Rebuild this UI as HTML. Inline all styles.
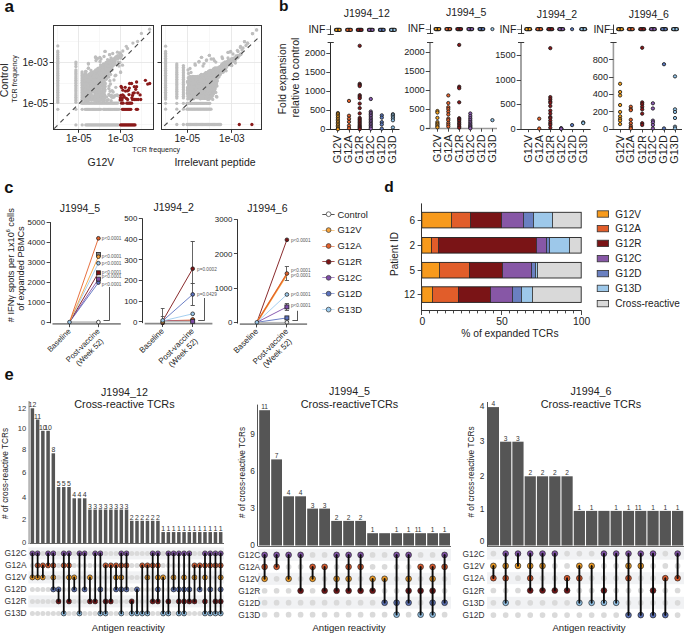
<!DOCTYPE html>
<html><head><meta charset="utf-8"><style>
html,body{margin:0;padding:0;background:#fff;overflow:hidden;}
svg{display:block;}
text{font-family:"Liberation Sans",sans-serif;}
</style></head><body>
<svg width="685" height="633" viewBox="0 0 685 633">
<text x="4.50" y="12.00" font-size="17" text-anchor="start" fill="#111" font-weight="bold">a</text>
<rect x="53.40" y="25.20" width="100.10" height="104.00" fill="#fff"/>
<line x1="53.40" y1="41.50" x2="153.50" y2="41.50" stroke="#f2f2f2" stroke-width="0.6"/>
<line x1="53.40" y1="83.50" x2="153.50" y2="83.50" stroke="#f2f2f2" stroke-width="0.6"/>
<line x1="53.40" y1="124.50" x2="153.50" y2="124.50" stroke="#f2f2f2" stroke-width="0.6"/>
<line x1="57.50" y1="25.20" x2="57.50" y2="129.20" stroke="#f2f2f2" stroke-width="0.6"/>
<line x1="99.50" y1="25.20" x2="99.50" y2="129.20" stroke="#f2f2f2" stroke-width="0.6"/>
<line x1="141.50" y1="25.20" x2="141.50" y2="129.20" stroke="#f2f2f2" stroke-width="0.6"/>
<line x1="53.40" y1="62.50" x2="153.50" y2="62.50" stroke="#e3e3e3" stroke-width="0.8"/>
<line x1="53.40" y1="103.50" x2="153.50" y2="103.50" stroke="#e3e3e3" stroke-width="0.8"/>
<line x1="78.50" y1="25.20" x2="78.50" y2="129.20" stroke="#e3e3e3" stroke-width="0.8"/>
<line x1="120.50" y1="25.20" x2="120.50" y2="129.20" stroke="#e3e3e3" stroke-width="0.8"/>
<rect x="161.30" y="25.20" width="100.20" height="104.00" fill="#fff"/>
<line x1="161.30" y1="41.50" x2="261.50" y2="41.50" stroke="#f2f2f2" stroke-width="0.6"/>
<line x1="161.30" y1="83.50" x2="261.50" y2="83.50" stroke="#f2f2f2" stroke-width="0.6"/>
<line x1="161.30" y1="124.50" x2="261.50" y2="124.50" stroke="#f2f2f2" stroke-width="0.6"/>
<line x1="165.50" y1="25.20" x2="165.50" y2="129.20" stroke="#f2f2f2" stroke-width="0.6"/>
<line x1="209.50" y1="25.20" x2="209.50" y2="129.20" stroke="#f2f2f2" stroke-width="0.6"/>
<line x1="254.50" y1="25.20" x2="254.50" y2="129.20" stroke="#f2f2f2" stroke-width="0.6"/>
<line x1="161.30" y1="62.50" x2="261.50" y2="62.50" stroke="#e3e3e3" stroke-width="0.8"/>
<line x1="161.30" y1="103.50" x2="261.50" y2="103.50" stroke="#e3e3e3" stroke-width="0.8"/>
<line x1="187.50" y1="25.20" x2="187.50" y2="129.20" stroke="#e3e3e3" stroke-width="0.8"/>
<line x1="231.50" y1="25.20" x2="231.50" y2="129.20" stroke="#e3e3e3" stroke-width="0.8"/>
<circle cx="57.80" cy="45.90" r="1.65" fill="#BEBEBE"/>
<circle cx="57.80" cy="51.10" r="1.65" fill="#BEBEBE"/>
<circle cx="57.80" cy="52.60" r="1.65" fill="#BEBEBE"/>
<circle cx="57.80" cy="54.60" r="1.65" fill="#BEBEBE"/>
<circle cx="57.80" cy="56.50" r="1.65" fill="#BEBEBE"/>
<circle cx="57.80" cy="58.20" r="1.65" fill="#BEBEBE"/>
<circle cx="57.80" cy="59.90" r="1.65" fill="#BEBEBE"/>
<circle cx="57.80" cy="61.60" r="1.65" fill="#BEBEBE"/>
<circle cx="57.80" cy="63.30" r="1.65" fill="#BEBEBE"/>
<circle cx="57.80" cy="65.00" r="1.65" fill="#BEBEBE"/>
<circle cx="57.80" cy="66.70" r="1.65" fill="#BEBEBE"/>
<circle cx="57.80" cy="68.40" r="1.65" fill="#BEBEBE"/>
<circle cx="57.80" cy="70.10" r="1.65" fill="#BEBEBE"/>
<circle cx="57.80" cy="71.80" r="1.65" fill="#BEBEBE"/>
<circle cx="57.80" cy="73.50" r="1.65" fill="#BEBEBE"/>
<circle cx="57.80" cy="75.20" r="1.65" fill="#BEBEBE"/>
<circle cx="57.80" cy="76.90" r="1.65" fill="#BEBEBE"/>
<circle cx="57.80" cy="78.60" r="1.65" fill="#BEBEBE"/>
<circle cx="57.80" cy="80.30" r="1.65" fill="#BEBEBE"/>
<circle cx="57.80" cy="82.00" r="1.65" fill="#BEBEBE"/>
<circle cx="57.80" cy="83.70" r="1.65" fill="#BEBEBE"/>
<circle cx="57.80" cy="85.40" r="1.65" fill="#BEBEBE"/>
<circle cx="57.80" cy="87.10" r="1.65" fill="#BEBEBE"/>
<circle cx="57.80" cy="88.80" r="1.65" fill="#BEBEBE"/>
<circle cx="57.80" cy="90.50" r="1.65" fill="#BEBEBE"/>
<circle cx="57.80" cy="92.20" r="1.65" fill="#BEBEBE"/>
<circle cx="57.80" cy="93.90" r="1.65" fill="#BEBEBE"/>
<circle cx="57.80" cy="95.60" r="1.65" fill="#BEBEBE"/>
<circle cx="57.80" cy="97.30" r="1.65" fill="#BEBEBE"/>
<circle cx="57.80" cy="99.00" r="1.65" fill="#BEBEBE"/>
<circle cx="57.80" cy="100.70" r="1.65" fill="#BEBEBE"/>
<circle cx="57.80" cy="102.40" r="1.65" fill="#BEBEBE"/>
<circle cx="57.80" cy="109.30" r="1.65" fill="#BEBEBE"/>
<circle cx="75.90" cy="62.10" r="1.65" fill="#BEBEBE"/>
<circle cx="75.90" cy="64.00" r="1.65" fill="#BEBEBE"/>
<circle cx="75.90" cy="66.50" r="1.65" fill="#BEBEBE"/>
<circle cx="75.90" cy="70.00" r="1.65" fill="#BEBEBE"/>
<circle cx="75.90" cy="71.70" r="1.65" fill="#BEBEBE"/>
<circle cx="75.90" cy="73.40" r="1.65" fill="#BEBEBE"/>
<circle cx="75.90" cy="75.10" r="1.65" fill="#BEBEBE"/>
<circle cx="75.90" cy="76.80" r="1.65" fill="#BEBEBE"/>
<circle cx="75.90" cy="78.50" r="1.65" fill="#BEBEBE"/>
<circle cx="75.90" cy="80.20" r="1.65" fill="#BEBEBE"/>
<circle cx="75.90" cy="81.90" r="1.65" fill="#BEBEBE"/>
<circle cx="75.90" cy="83.60" r="1.65" fill="#BEBEBE"/>
<circle cx="75.90" cy="85.30" r="1.65" fill="#BEBEBE"/>
<circle cx="75.90" cy="87.00" r="1.65" fill="#BEBEBE"/>
<circle cx="75.90" cy="88.70" r="1.65" fill="#BEBEBE"/>
<circle cx="75.90" cy="90.40" r="1.65" fill="#BEBEBE"/>
<circle cx="75.90" cy="92.10" r="1.65" fill="#BEBEBE"/>
<circle cx="75.90" cy="93.80" r="1.65" fill="#BEBEBE"/>
<circle cx="75.90" cy="95.50" r="1.65" fill="#BEBEBE"/>
<circle cx="75.90" cy="97.20" r="1.65" fill="#BEBEBE"/>
<circle cx="75.90" cy="98.90" r="1.65" fill="#BEBEBE"/>
<circle cx="75.90" cy="100.60" r="1.65" fill="#BEBEBE"/>
<circle cx="75.90" cy="102.30" r="1.65" fill="#BEBEBE"/>
<circle cx="75.90" cy="109.30" r="1.65" fill="#BEBEBE"/>
<circle cx="75.90" cy="124.90" r="1.65" fill="#BEBEBE"/>
<circle cx="82.10" cy="72.00" r="1.65" fill="#BEBEBE"/>
<circle cx="82.10" cy="73.70" r="1.65" fill="#BEBEBE"/>
<circle cx="82.10" cy="75.40" r="1.65" fill="#BEBEBE"/>
<circle cx="82.10" cy="77.10" r="1.65" fill="#BEBEBE"/>
<circle cx="82.10" cy="78.80" r="1.65" fill="#BEBEBE"/>
<circle cx="82.10" cy="80.50" r="1.65" fill="#BEBEBE"/>
<circle cx="82.10" cy="82.20" r="1.65" fill="#BEBEBE"/>
<circle cx="82.10" cy="83.90" r="1.65" fill="#BEBEBE"/>
<circle cx="82.10" cy="85.60" r="1.65" fill="#BEBEBE"/>
<circle cx="82.10" cy="87.30" r="1.65" fill="#BEBEBE"/>
<circle cx="82.10" cy="89.00" r="1.65" fill="#BEBEBE"/>
<circle cx="82.10" cy="90.70" r="1.65" fill="#BEBEBE"/>
<circle cx="82.10" cy="92.40" r="1.65" fill="#BEBEBE"/>
<circle cx="82.10" cy="94.10" r="1.65" fill="#BEBEBE"/>
<circle cx="82.10" cy="95.80" r="1.65" fill="#BEBEBE"/>
<circle cx="82.10" cy="97.50" r="1.65" fill="#BEBEBE"/>
<circle cx="82.10" cy="99.20" r="1.65" fill="#BEBEBE"/>
<circle cx="82.10" cy="100.90" r="1.65" fill="#BEBEBE"/>
<circle cx="82.10" cy="102.60" r="1.65" fill="#BEBEBE"/>
<circle cx="85.60" cy="71.50" r="1.65" fill="#BEBEBE"/>
<circle cx="85.60" cy="73.20" r="1.65" fill="#BEBEBE"/>
<circle cx="85.60" cy="74.90" r="1.65" fill="#BEBEBE"/>
<circle cx="85.60" cy="76.60" r="1.65" fill="#BEBEBE"/>
<circle cx="85.60" cy="78.30" r="1.65" fill="#BEBEBE"/>
<circle cx="85.60" cy="80.00" r="1.65" fill="#BEBEBE"/>
<circle cx="85.60" cy="81.70" r="1.65" fill="#BEBEBE"/>
<circle cx="85.60" cy="83.40" r="1.65" fill="#BEBEBE"/>
<circle cx="85.60" cy="85.10" r="1.65" fill="#BEBEBE"/>
<circle cx="85.60" cy="86.80" r="1.65" fill="#BEBEBE"/>
<circle cx="85.60" cy="88.50" r="1.65" fill="#BEBEBE"/>
<circle cx="85.60" cy="90.20" r="1.65" fill="#BEBEBE"/>
<circle cx="85.60" cy="91.90" r="1.65" fill="#BEBEBE"/>
<circle cx="85.60" cy="93.60" r="1.65" fill="#BEBEBE"/>
<circle cx="85.60" cy="95.30" r="1.65" fill="#BEBEBE"/>
<circle cx="85.60" cy="97.00" r="1.65" fill="#BEBEBE"/>
<circle cx="85.60" cy="98.70" r="1.65" fill="#BEBEBE"/>
<circle cx="85.60" cy="100.40" r="1.65" fill="#BEBEBE"/>
<circle cx="85.60" cy="102.10" r="1.65" fill="#BEBEBE"/>
<circle cx="82.20" cy="109.30" r="1.65" fill="#BEBEBE"/>
<circle cx="82.20" cy="124.90" r="1.65" fill="#BEBEBE"/>
<circle cx="81.50" cy="103.20" r="1.65" fill="#BEBEBE"/>
<circle cx="82.70" cy="103.20" r="1.65" fill="#BEBEBE"/>
<circle cx="83.90" cy="103.20" r="1.65" fill="#BEBEBE"/>
<circle cx="85.10" cy="103.20" r="1.65" fill="#BEBEBE"/>
<circle cx="86.30" cy="103.20" r="1.65" fill="#BEBEBE"/>
<circle cx="87.50" cy="103.20" r="1.65" fill="#BEBEBE"/>
<circle cx="88.70" cy="103.20" r="1.65" fill="#BEBEBE"/>
<circle cx="89.90" cy="103.20" r="1.65" fill="#BEBEBE"/>
<circle cx="91.10" cy="103.20" r="1.65" fill="#BEBEBE"/>
<circle cx="92.30" cy="103.20" r="1.65" fill="#BEBEBE"/>
<circle cx="93.50" cy="103.20" r="1.65" fill="#BEBEBE"/>
<circle cx="94.70" cy="103.20" r="1.65" fill="#BEBEBE"/>
<circle cx="95.90" cy="103.20" r="1.65" fill="#BEBEBE"/>
<circle cx="97.10" cy="103.20" r="1.65" fill="#BEBEBE"/>
<circle cx="98.30" cy="103.20" r="1.65" fill="#BEBEBE"/>
<circle cx="99.50" cy="103.20" r="1.65" fill="#BEBEBE"/>
<circle cx="100.70" cy="103.20" r="1.65" fill="#BEBEBE"/>
<circle cx="101.90" cy="103.20" r="1.65" fill="#BEBEBE"/>
<circle cx="103.10" cy="103.20" r="1.65" fill="#BEBEBE"/>
<circle cx="104.30" cy="103.20" r="1.65" fill="#BEBEBE"/>
<circle cx="105.50" cy="103.20" r="1.65" fill="#BEBEBE"/>
<circle cx="106.70" cy="103.20" r="1.65" fill="#BEBEBE"/>
<circle cx="107.90" cy="103.20" r="1.65" fill="#BEBEBE"/>
<circle cx="109.10" cy="103.20" r="1.65" fill="#BEBEBE"/>
<circle cx="110.30" cy="103.20" r="1.65" fill="#BEBEBE"/>
<circle cx="111.50" cy="103.20" r="1.65" fill="#BEBEBE"/>
<circle cx="112.70" cy="103.20" r="1.65" fill="#BEBEBE"/>
<circle cx="113.90" cy="103.20" r="1.65" fill="#BEBEBE"/>
<circle cx="115.10" cy="103.20" r="1.65" fill="#BEBEBE"/>
<circle cx="116.30" cy="103.20" r="1.65" fill="#BEBEBE"/>
<circle cx="117.50" cy="103.20" r="1.65" fill="#BEBEBE"/>
<circle cx="85.10" cy="109.30" r="1.65" fill="#BEBEBE"/>
<circle cx="86.30" cy="109.30" r="1.65" fill="#BEBEBE"/>
<circle cx="87.50" cy="109.30" r="1.65" fill="#BEBEBE"/>
<circle cx="88.70" cy="109.30" r="1.65" fill="#BEBEBE"/>
<circle cx="89.90" cy="109.30" r="1.65" fill="#BEBEBE"/>
<circle cx="91.10" cy="109.30" r="1.65" fill="#BEBEBE"/>
<circle cx="92.30" cy="109.30" r="1.65" fill="#BEBEBE"/>
<circle cx="93.50" cy="109.30" r="1.65" fill="#BEBEBE"/>
<circle cx="94.70" cy="109.30" r="1.65" fill="#BEBEBE"/>
<circle cx="95.90" cy="109.30" r="1.65" fill="#BEBEBE"/>
<circle cx="97.10" cy="109.30" r="1.65" fill="#BEBEBE"/>
<circle cx="98.30" cy="109.30" r="1.65" fill="#BEBEBE"/>
<circle cx="99.50" cy="109.30" r="1.65" fill="#BEBEBE"/>
<circle cx="100.70" cy="109.30" r="1.65" fill="#BEBEBE"/>
<circle cx="103.40" cy="109.30" r="1.65" fill="#BEBEBE"/>
<circle cx="104.60" cy="109.30" r="1.65" fill="#BEBEBE"/>
<circle cx="105.80" cy="109.30" r="1.65" fill="#BEBEBE"/>
<circle cx="107.00" cy="109.30" r="1.65" fill="#BEBEBE"/>
<circle cx="108.20" cy="109.30" r="1.65" fill="#BEBEBE"/>
<circle cx="109.40" cy="109.30" r="1.65" fill="#BEBEBE"/>
<circle cx="110.60" cy="109.30" r="1.65" fill="#BEBEBE"/>
<circle cx="111.80" cy="109.30" r="1.65" fill="#BEBEBE"/>
<circle cx="113.00" cy="109.30" r="1.65" fill="#BEBEBE"/>
<circle cx="114.20" cy="109.30" r="1.65" fill="#BEBEBE"/>
<circle cx="115.40" cy="109.30" r="1.65" fill="#BEBEBE"/>
<circle cx="116.60" cy="109.30" r="1.65" fill="#BEBEBE"/>
<circle cx="117.80" cy="109.30" r="1.65" fill="#BEBEBE"/>
<circle cx="119.00" cy="109.30" r="1.65" fill="#BEBEBE"/>
<circle cx="85.80" cy="124.90" r="1.65" fill="#BEBEBE"/>
<circle cx="87.00" cy="124.90" r="1.65" fill="#BEBEBE"/>
<circle cx="88.20" cy="124.90" r="1.65" fill="#BEBEBE"/>
<circle cx="89.40" cy="124.90" r="1.65" fill="#BEBEBE"/>
<circle cx="90.60" cy="124.90" r="1.65" fill="#BEBEBE"/>
<circle cx="91.80" cy="124.90" r="1.65" fill="#BEBEBE"/>
<circle cx="93.00" cy="124.90" r="1.65" fill="#BEBEBE"/>
<circle cx="94.20" cy="124.90" r="1.65" fill="#BEBEBE"/>
<circle cx="95.40" cy="124.90" r="1.65" fill="#BEBEBE"/>
<circle cx="96.60" cy="124.90" r="1.65" fill="#BEBEBE"/>
<circle cx="97.80" cy="124.90" r="1.65" fill="#BEBEBE"/>
<circle cx="99.00" cy="124.90" r="1.65" fill="#BEBEBE"/>
<circle cx="100.20" cy="124.90" r="1.65" fill="#BEBEBE"/>
<circle cx="101.40" cy="124.90" r="1.65" fill="#BEBEBE"/>
<circle cx="102.60" cy="124.90" r="1.65" fill="#BEBEBE"/>
<circle cx="103.80" cy="124.90" r="1.65" fill="#BEBEBE"/>
<circle cx="105.00" cy="124.90" r="1.65" fill="#BEBEBE"/>
<circle cx="106.20" cy="124.90" r="1.65" fill="#BEBEBE"/>
<circle cx="107.40" cy="124.90" r="1.65" fill="#BEBEBE"/>
<circle cx="108.60" cy="124.90" r="1.65" fill="#BEBEBE"/>
<circle cx="109.80" cy="124.90" r="1.65" fill="#BEBEBE"/>
<circle cx="111.00" cy="124.90" r="1.65" fill="#BEBEBE"/>
<circle cx="112.20" cy="124.90" r="1.65" fill="#BEBEBE"/>
<circle cx="113.40" cy="124.90" r="1.65" fill="#BEBEBE"/>
<circle cx="114.60" cy="124.90" r="1.65" fill="#BEBEBE"/>
<circle cx="115.80" cy="124.90" r="1.65" fill="#BEBEBE"/>
<circle cx="117.00" cy="124.90" r="1.65" fill="#BEBEBE"/>
<circle cx="118.20" cy="124.90" r="1.65" fill="#BEBEBE"/>
<circle cx="88.40" cy="64.00" r="1.65" fill="#BEBEBE"/>
<circle cx="88.40" cy="68.20" r="1.65" fill="#BEBEBE"/>
<circle cx="95.50" cy="57.50" r="1.65" fill="#BEBEBE"/>
<circle cx="97.50" cy="58.50" r="1.65" fill="#BEBEBE"/>
<circle cx="100.00" cy="61.50" r="1.65" fill="#BEBEBE"/>
<circle cx="105.10" cy="51.40" r="1.65" fill="#BEBEBE"/>
<circle cx="109.50" cy="54.70" r="1.65" fill="#BEBEBE"/>
<circle cx="104.00" cy="56.50" r="1.65" fill="#BEBEBE"/>
<circle cx="111.00" cy="58.00" r="1.65" fill="#BEBEBE"/>
<circle cx="117.40" cy="52.20" r="1.65" fill="#BEBEBE"/>
<circle cx="119.60" cy="52.90" r="1.65" fill="#BEBEBE"/>
<circle cx="122.80" cy="51.00" r="1.65" fill="#BEBEBE"/>
<circle cx="126.30" cy="46.30" r="1.65" fill="#BEBEBE"/>
<circle cx="127.50" cy="48.50" r="1.65" fill="#BEBEBE"/>
<circle cx="132.90" cy="43.10" r="1.65" fill="#BEBEBE"/>
<circle cx="137.60" cy="41.50" r="1.65" fill="#BEBEBE"/>
<circle cx="141.40" cy="33.40" r="1.65" fill="#BEBEBE"/>
<circle cx="149.60" cy="29.20" r="1.65" fill="#BEBEBE"/>
<circle cx="122.50" cy="65.20" r="1.65" fill="#BEBEBE"/>
<circle cx="120.60" cy="71.90" r="1.65" fill="#BEBEBE"/>
<circle cx="116.70" cy="64.80" r="1.65" fill="#BEBEBE"/>
<circle cx="120.60" cy="72.40" r="1.65" fill="#BEBEBE"/>
<circle cx="115.00" cy="75.80" r="1.65" fill="#BEBEBE"/>
<circle cx="114.00" cy="80.00" r="1.65" fill="#BEBEBE"/>
<circle cx="115.80" cy="87.30" r="1.65" fill="#BEBEBE"/>
<circle cx="110.50" cy="84.00" r="1.65" fill="#BEBEBE"/>
<circle cx="108.80" cy="77.00" r="1.65" fill="#BEBEBE"/>
<circle cx="113.20" cy="92.00" r="1.65" fill="#BEBEBE"/>
<circle cx="117.00" cy="95.00" r="1.65" fill="#BEBEBE"/>
<circle cx="112.00" cy="70.00" r="1.65" fill="#BEBEBE"/>
<circle cx="119.00" cy="66.00" r="1.65" fill="#BEBEBE"/>
<circle cx="121.00" cy="58.00" r="1.65" fill="#BEBEBE"/>
<circle cx="118.00" cy="62.00" r="1.65" fill="#BEBEBE"/>
<circle cx="114.00" cy="97.00" r="1.65" fill="#BEBEBE"/>
<circle cx="103.83" cy="70.24" r="1.7" fill="#BEBEBE"/>
<circle cx="86.15" cy="77.11" r="1.7" fill="#BEBEBE"/>
<circle cx="99.71" cy="92.60" r="1.7" fill="#BEBEBE"/>
<circle cx="105.35" cy="71.74" r="1.7" fill="#BEBEBE"/>
<circle cx="120.12" cy="54.76" r="1.7" fill="#BEBEBE"/>
<circle cx="95.41" cy="92.08" r="1.7" fill="#BEBEBE"/>
<circle cx="90.69" cy="80.71" r="1.7" fill="#BEBEBE"/>
<circle cx="107.64" cy="70.56" r="1.7" fill="#BEBEBE"/>
<circle cx="95.62" cy="80.90" r="1.7" fill="#BEBEBE"/>
<circle cx="100.77" cy="67.04" r="1.7" fill="#BEBEBE"/>
<circle cx="93.03" cy="80.36" r="1.7" fill="#BEBEBE"/>
<circle cx="103.43" cy="94.94" r="1.7" fill="#BEBEBE"/>
<circle cx="110.99" cy="66.46" r="1.7" fill="#BEBEBE"/>
<circle cx="99.47" cy="89.22" r="1.7" fill="#BEBEBE"/>
<circle cx="89.62" cy="76.21" r="1.7" fill="#BEBEBE"/>
<circle cx="85.45" cy="84.91" r="1.7" fill="#BEBEBE"/>
<circle cx="105.46" cy="74.63" r="1.7" fill="#BEBEBE"/>
<circle cx="101.54" cy="84.71" r="1.7" fill="#BEBEBE"/>
<circle cx="86.24" cy="86.52" r="1.7" fill="#BEBEBE"/>
<circle cx="98.27" cy="84.93" r="1.7" fill="#BEBEBE"/>
<circle cx="84.83" cy="74.89" r="1.7" fill="#BEBEBE"/>
<circle cx="86.18" cy="89.76" r="1.7" fill="#BEBEBE"/>
<circle cx="98.47" cy="94.76" r="1.7" fill="#BEBEBE"/>
<circle cx="104.33" cy="95.34" r="1.7" fill="#BEBEBE"/>
<circle cx="94.30" cy="72.64" r="1.7" fill="#BEBEBE"/>
<circle cx="97.27" cy="95.38" r="1.7" fill="#BEBEBE"/>
<circle cx="92.63" cy="76.02" r="1.7" fill="#BEBEBE"/>
<circle cx="105.80" cy="65.24" r="1.7" fill="#BEBEBE"/>
<circle cx="97.66" cy="79.97" r="1.7" fill="#BEBEBE"/>
<circle cx="103.07" cy="82.45" r="1.7" fill="#BEBEBE"/>
<circle cx="98.52" cy="71.85" r="1.7" fill="#BEBEBE"/>
<circle cx="87.83" cy="83.26" r="1.7" fill="#BEBEBE"/>
<circle cx="84.94" cy="94.91" r="1.7" fill="#BEBEBE"/>
<circle cx="101.24" cy="75.97" r="1.7" fill="#BEBEBE"/>
<circle cx="114.67" cy="60.33" r="1.7" fill="#BEBEBE"/>
<circle cx="84.85" cy="98.62" r="1.7" fill="#BEBEBE"/>
<circle cx="103.54" cy="99.96" r="1.7" fill="#BEBEBE"/>
<circle cx="90.18" cy="89.94" r="1.7" fill="#BEBEBE"/>
<circle cx="103.71" cy="90.28" r="1.7" fill="#BEBEBE"/>
<circle cx="92.39" cy="77.61" r="1.7" fill="#BEBEBE"/>
<circle cx="93.59" cy="86.09" r="1.7" fill="#BEBEBE"/>
<circle cx="87.14" cy="84.54" r="1.7" fill="#BEBEBE"/>
<circle cx="90.61" cy="90.77" r="1.7" fill="#BEBEBE"/>
<circle cx="96.30" cy="91.34" r="1.7" fill="#BEBEBE"/>
<circle cx="98.85" cy="98.42" r="1.7" fill="#BEBEBE"/>
<circle cx="110.82" cy="60.75" r="1.7" fill="#BEBEBE"/>
<circle cx="89.41" cy="92.59" r="1.7" fill="#BEBEBE"/>
<circle cx="96.97" cy="79.11" r="1.7" fill="#BEBEBE"/>
<circle cx="103.48" cy="97.78" r="1.7" fill="#BEBEBE"/>
<circle cx="100.05" cy="94.78" r="1.7" fill="#BEBEBE"/>
<circle cx="114.57" cy="62.74" r="1.7" fill="#BEBEBE"/>
<circle cx="92.90" cy="80.94" r="1.7" fill="#BEBEBE"/>
<circle cx="93.60" cy="72.82" r="1.7" fill="#BEBEBE"/>
<circle cx="88.85" cy="96.64" r="1.7" fill="#BEBEBE"/>
<circle cx="97.09" cy="74.72" r="1.7" fill="#BEBEBE"/>
<circle cx="99.56" cy="97.01" r="1.7" fill="#BEBEBE"/>
<circle cx="102.56" cy="78.29" r="1.7" fill="#BEBEBE"/>
<circle cx="84.15" cy="91.26" r="1.7" fill="#BEBEBE"/>
<circle cx="90.38" cy="75.46" r="1.7" fill="#BEBEBE"/>
<circle cx="96.06" cy="77.64" r="1.7" fill="#BEBEBE"/>
<circle cx="104.55" cy="90.54" r="1.7" fill="#BEBEBE"/>
<circle cx="87.93" cy="79.67" r="1.7" fill="#BEBEBE"/>
<circle cx="104.78" cy="89.36" r="1.7" fill="#BEBEBE"/>
<circle cx="106.66" cy="77.02" r="1.7" fill="#BEBEBE"/>
<circle cx="102.95" cy="86.10" r="1.7" fill="#BEBEBE"/>
<circle cx="100.74" cy="78.36" r="1.7" fill="#BEBEBE"/>
<circle cx="101.69" cy="98.16" r="1.7" fill="#BEBEBE"/>
<circle cx="104.70" cy="98.25" r="1.7" fill="#BEBEBE"/>
<circle cx="115.08" cy="59.15" r="1.7" fill="#BEBEBE"/>
<circle cx="86.71" cy="84.97" r="1.7" fill="#BEBEBE"/>
<circle cx="89.71" cy="87.23" r="1.7" fill="#BEBEBE"/>
<circle cx="92.12" cy="98.70" r="1.7" fill="#BEBEBE"/>
<circle cx="98.74" cy="76.13" r="1.7" fill="#BEBEBE"/>
<circle cx="103.08" cy="68.95" r="1.7" fill="#BEBEBE"/>
<circle cx="104.50" cy="73.86" r="1.7" fill="#BEBEBE"/>
<circle cx="107.09" cy="77.34" r="1.7" fill="#BEBEBE"/>
<circle cx="86.38" cy="100.28" r="1.7" fill="#BEBEBE"/>
<circle cx="85.46" cy="90.28" r="1.7" fill="#BEBEBE"/>
<circle cx="99.62" cy="96.70" r="1.7" fill="#BEBEBE"/>
<circle cx="89.53" cy="97.08" r="1.7" fill="#BEBEBE"/>
<circle cx="105.11" cy="86.47" r="1.7" fill="#BEBEBE"/>
<circle cx="86.68" cy="98.01" r="1.7" fill="#BEBEBE"/>
<circle cx="87.10" cy="94.03" r="1.7" fill="#BEBEBE"/>
<circle cx="86.47" cy="94.34" r="1.7" fill="#BEBEBE"/>
<circle cx="100.79" cy="68.95" r="1.7" fill="#BEBEBE"/>
<circle cx="104.46" cy="97.44" r="1.7" fill="#BEBEBE"/>
<circle cx="103.50" cy="64.06" r="1.7" fill="#BEBEBE"/>
<circle cx="112.10" cy="66.56" r="1.7" fill="#BEBEBE"/>
<circle cx="91.01" cy="75.53" r="1.7" fill="#BEBEBE"/>
<circle cx="118.58" cy="57.65" r="1.7" fill="#BEBEBE"/>
<circle cx="102.32" cy="92.98" r="1.7" fill="#BEBEBE"/>
<circle cx="98.54" cy="77.07" r="1.7" fill="#BEBEBE"/>
<circle cx="96.68" cy="92.87" r="1.7" fill="#BEBEBE"/>
<circle cx="98.97" cy="69.36" r="1.7" fill="#BEBEBE"/>
<circle cx="86.62" cy="88.43" r="1.7" fill="#BEBEBE"/>
<circle cx="87.13" cy="93.30" r="1.7" fill="#BEBEBE"/>
<circle cx="94.84" cy="74.78" r="1.7" fill="#BEBEBE"/>
<circle cx="89.83" cy="74.12" r="1.7" fill="#BEBEBE"/>
<circle cx="93.74" cy="99.15" r="1.7" fill="#BEBEBE"/>
<circle cx="93.04" cy="99.33" r="1.7" fill="#BEBEBE"/>
<circle cx="101.56" cy="76.88" r="1.7" fill="#BEBEBE"/>
<circle cx="91.44" cy="76.98" r="1.7" fill="#BEBEBE"/>
<circle cx="105.67" cy="78.17" r="1.7" fill="#BEBEBE"/>
<circle cx="98.41" cy="68.32" r="1.7" fill="#BEBEBE"/>
<circle cx="85.62" cy="93.01" r="1.7" fill="#BEBEBE"/>
<circle cx="89.15" cy="77.90" r="1.7" fill="#BEBEBE"/>
<circle cx="102.66" cy="92.99" r="1.7" fill="#BEBEBE"/>
<circle cx="87.88" cy="93.04" r="1.7" fill="#BEBEBE"/>
<circle cx="104.67" cy="82.95" r="1.7" fill="#BEBEBE"/>
<circle cx="102.61" cy="78.46" r="1.7" fill="#BEBEBE"/>
<circle cx="111.26" cy="64.73" r="1.7" fill="#BEBEBE"/>
<circle cx="110.99" cy="62.45" r="1.7" fill="#BEBEBE"/>
<circle cx="102.28" cy="71.05" r="1.7" fill="#BEBEBE"/>
<circle cx="101.72" cy="85.66" r="1.7" fill="#BEBEBE"/>
<circle cx="111.50" cy="67.26" r="1.7" fill="#BEBEBE"/>
<circle cx="109.00" cy="66.61" r="1.7" fill="#BEBEBE"/>
<circle cx="103.11" cy="75.04" r="1.7" fill="#BEBEBE"/>
<circle cx="84.65" cy="74.76" r="1.7" fill="#BEBEBE"/>
<circle cx="91.76" cy="98.36" r="1.7" fill="#BEBEBE"/>
<circle cx="91.80" cy="80.70" r="1.7" fill="#BEBEBE"/>
<circle cx="89.24" cy="77.92" r="1.7" fill="#BEBEBE"/>
<circle cx="92.56" cy="96.04" r="1.7" fill="#BEBEBE"/>
<circle cx="84.13" cy="76.35" r="1.7" fill="#BEBEBE"/>
<circle cx="100.68" cy="67.14" r="1.7" fill="#BEBEBE"/>
<circle cx="95.69" cy="93.25" r="1.7" fill="#BEBEBE"/>
<circle cx="84.06" cy="88.91" r="1.7" fill="#BEBEBE"/>
<circle cx="115.05" cy="58.32" r="1.7" fill="#BEBEBE"/>
<circle cx="97.77" cy="71.56" r="1.7" fill="#BEBEBE"/>
<circle cx="97.35" cy="73.26" r="1.7" fill="#BEBEBE"/>
<circle cx="87.76" cy="92.98" r="1.7" fill="#BEBEBE"/>
<circle cx="94.57" cy="97.88" r="1.7" fill="#BEBEBE"/>
<circle cx="97.81" cy="98.87" r="1.7" fill="#BEBEBE"/>
<circle cx="101.47" cy="69.17" r="1.7" fill="#BEBEBE"/>
<circle cx="95.02" cy="88.34" r="1.7" fill="#BEBEBE"/>
<circle cx="108.27" cy="67.09" r="1.7" fill="#BEBEBE"/>
<circle cx="104.62" cy="71.63" r="1.7" fill="#BEBEBE"/>
<circle cx="91.69" cy="96.44" r="1.7" fill="#BEBEBE"/>
<circle cx="99.31" cy="77.92" r="1.7" fill="#BEBEBE"/>
<circle cx="97.94" cy="68.90" r="1.7" fill="#BEBEBE"/>
<circle cx="102.63" cy="83.04" r="1.7" fill="#BEBEBE"/>
<circle cx="98.79" cy="74.12" r="1.7" fill="#BEBEBE"/>
<circle cx="85.19" cy="86.91" r="1.7" fill="#BEBEBE"/>
<circle cx="98.49" cy="97.45" r="1.7" fill="#BEBEBE"/>
<circle cx="103.33" cy="85.58" r="1.7" fill="#BEBEBE"/>
<circle cx="100.92" cy="79.25" r="1.7" fill="#BEBEBE"/>
<circle cx="85.46" cy="90.44" r="1.7" fill="#BEBEBE"/>
<circle cx="92.61" cy="97.12" r="1.7" fill="#BEBEBE"/>
<circle cx="107.88" cy="67.23" r="1.7" fill="#BEBEBE"/>
<circle cx="103.40" cy="80.77" r="1.7" fill="#BEBEBE"/>
<circle cx="95.16" cy="74.84" r="1.7" fill="#BEBEBE"/>
<circle cx="102.44" cy="85.21" r="1.7" fill="#BEBEBE"/>
<circle cx="96.51" cy="72.90" r="1.7" fill="#BEBEBE"/>
<circle cx="109.25" cy="62.11" r="1.7" fill="#BEBEBE"/>
<circle cx="114.34" cy="63.69" r="1.7" fill="#BEBEBE"/>
<circle cx="92.19" cy="89.38" r="1.7" fill="#BEBEBE"/>
<circle cx="94.91" cy="98.67" r="1.7" fill="#BEBEBE"/>
<circle cx="92.26" cy="72.73" r="1.7" fill="#BEBEBE"/>
<circle cx="91.88" cy="99.74" r="1.7" fill="#BEBEBE"/>
<circle cx="90.86" cy="97.89" r="1.7" fill="#BEBEBE"/>
<circle cx="108.58" cy="70.86" r="1.7" fill="#BEBEBE"/>
<circle cx="97.83" cy="68.59" r="1.7" fill="#BEBEBE"/>
<circle cx="97.20" cy="92.35" r="1.7" fill="#BEBEBE"/>
<circle cx="85.82" cy="75.46" r="1.7" fill="#BEBEBE"/>
<circle cx="97.79" cy="97.10" r="1.7" fill="#BEBEBE"/>
<circle cx="99.20" cy="91.87" r="1.7" fill="#BEBEBE"/>
<circle cx="93.70" cy="87.26" r="1.7" fill="#BEBEBE"/>
<circle cx="84.14" cy="89.15" r="1.7" fill="#BEBEBE"/>
<circle cx="92.65" cy="75.55" r="1.7" fill="#BEBEBE"/>
<circle cx="99.91" cy="76.43" r="1.7" fill="#BEBEBE"/>
<circle cx="106.47" cy="68.40" r="1.7" fill="#BEBEBE"/>
<circle cx="95.82" cy="70.05" r="1.7" fill="#BEBEBE"/>
<circle cx="91.30" cy="89.01" r="1.7" fill="#BEBEBE"/>
<circle cx="85.25" cy="79.30" r="1.7" fill="#BEBEBE"/>
<circle cx="96.05" cy="100.04" r="1.7" fill="#BEBEBE"/>
<circle cx="87.57" cy="76.68" r="1.7" fill="#BEBEBE"/>
<circle cx="92.67" cy="72.72" r="1.7" fill="#BEBEBE"/>
<circle cx="104.97" cy="70.59" r="1.7" fill="#BEBEBE"/>
<circle cx="111.31" cy="62.16" r="1.7" fill="#BEBEBE"/>
<circle cx="89.67" cy="95.38" r="1.7" fill="#BEBEBE"/>
<circle cx="105.40" cy="68.33" r="1.7" fill="#BEBEBE"/>
<circle cx="98.65" cy="100.63" r="1.7" fill="#BEBEBE"/>
<circle cx="101.57" cy="92.23" r="1.7" fill="#BEBEBE"/>
<circle cx="93.62" cy="90.22" r="1.7" fill="#BEBEBE"/>
<circle cx="118.99" cy="57.63" r="1.7" fill="#BEBEBE"/>
<circle cx="93.43" cy="81.57" r="1.7" fill="#BEBEBE"/>
<circle cx="108.11" cy="62.37" r="1.7" fill="#BEBEBE"/>
<circle cx="109.10" cy="61.48" r="1.7" fill="#BEBEBE"/>
<circle cx="98.63" cy="79.18" r="1.7" fill="#BEBEBE"/>
<circle cx="90.06" cy="86.23" r="1.7" fill="#BEBEBE"/>
<circle cx="95.38" cy="98.73" r="1.7" fill="#BEBEBE"/>
<circle cx="95.56" cy="79.98" r="1.7" fill="#BEBEBE"/>
<circle cx="97.22" cy="72.70" r="1.7" fill="#BEBEBE"/>
<circle cx="110.94" cy="62.38" r="1.7" fill="#BEBEBE"/>
<circle cx="84.22" cy="96.23" r="1.7" fill="#BEBEBE"/>
<circle cx="99.68" cy="92.29" r="1.7" fill="#BEBEBE"/>
<circle cx="99.03" cy="95.32" r="1.7" fill="#BEBEBE"/>
<circle cx="84.55" cy="79.25" r="1.7" fill="#BEBEBE"/>
<circle cx="87.29" cy="82.68" r="1.7" fill="#BEBEBE"/>
<circle cx="97.72" cy="76.97" r="1.7" fill="#BEBEBE"/>
<circle cx="103.28" cy="97.39" r="1.7" fill="#BEBEBE"/>
<circle cx="88.03" cy="76.29" r="1.7" fill="#BEBEBE"/>
<circle cx="114.51" cy="60.27" r="1.7" fill="#BEBEBE"/>
<circle cx="113.08" cy="63.27" r="1.7" fill="#BEBEBE"/>
<circle cx="98.97" cy="93.55" r="1.7" fill="#BEBEBE"/>
<circle cx="114.68" cy="61.37" r="1.7" fill="#BEBEBE"/>
<circle cx="103.16" cy="71.10" r="1.7" fill="#BEBEBE"/>
<circle cx="85.52" cy="79.77" r="1.7" fill="#BEBEBE"/>
<circle cx="115.01" cy="58.21" r="1.7" fill="#BEBEBE"/>
<circle cx="106.18" cy="79.18" r="1.7" fill="#BEBEBE"/>
<circle cx="107.20" cy="67.35" r="1.7" fill="#BEBEBE"/>
<circle cx="99.54" cy="80.76" r="1.7" fill="#BEBEBE"/>
<circle cx="99.75" cy="84.45" r="1.7" fill="#BEBEBE"/>
<circle cx="100.53" cy="73.76" r="1.7" fill="#BEBEBE"/>
<circle cx="84.86" cy="82.52" r="1.7" fill="#BEBEBE"/>
<circle cx="102.65" cy="70.83" r="1.7" fill="#BEBEBE"/>
<circle cx="91.17" cy="100.11" r="1.7" fill="#BEBEBE"/>
<circle cx="102.20" cy="98.90" r="1.7" fill="#BEBEBE"/>
<circle cx="111.98" cy="60.20" r="1.7" fill="#BEBEBE"/>
<circle cx="114.18" cy="59.46" r="1.7" fill="#BEBEBE"/>
<circle cx="102.58" cy="97.12" r="1.7" fill="#BEBEBE"/>
<circle cx="102.72" cy="67.98" r="1.7" fill="#BEBEBE"/>
<circle cx="89.97" cy="97.92" r="1.7" fill="#BEBEBE"/>
<circle cx="90.24" cy="90.57" r="1.7" fill="#BEBEBE"/>
<circle cx="88.26" cy="78.24" r="1.7" fill="#BEBEBE"/>
<circle cx="107.54" cy="69.95" r="1.7" fill="#BEBEBE"/>
<circle cx="87.87" cy="100.66" r="1.7" fill="#BEBEBE"/>
<circle cx="107.30" cy="71.62" r="1.7" fill="#BEBEBE"/>
<circle cx="113.51" cy="65.34" r="1.7" fill="#BEBEBE"/>
<circle cx="97.33" cy="89.59" r="1.7" fill="#BEBEBE"/>
<circle cx="106.79" cy="73.46" r="1.7" fill="#BEBEBE"/>
<circle cx="102.97" cy="95.93" r="1.7" fill="#BEBEBE"/>
<circle cx="92.30" cy="80.80" r="1.7" fill="#BEBEBE"/>
<circle cx="107.09" cy="75.53" r="1.7" fill="#BEBEBE"/>
<circle cx="88.99" cy="97.92" r="1.7" fill="#BEBEBE"/>
<circle cx="87.54" cy="83.45" r="1.7" fill="#BEBEBE"/>
<circle cx="84.43" cy="83.78" r="1.7" fill="#BEBEBE"/>
<circle cx="104.81" cy="69.49" r="1.7" fill="#BEBEBE"/>
<circle cx="107.89" cy="74.02" r="1.7" fill="#BEBEBE"/>
<circle cx="93.19" cy="96.32" r="1.7" fill="#BEBEBE"/>
<circle cx="85.63" cy="78.28" r="1.7" fill="#BEBEBE"/>
<circle cx="86.16" cy="90.28" r="1.7" fill="#BEBEBE"/>
<circle cx="84.46" cy="79.22" r="1.7" fill="#BEBEBE"/>
<circle cx="91.38" cy="81.99" r="1.7" fill="#BEBEBE"/>
<circle cx="102.76" cy="83.62" r="1.7" fill="#BEBEBE"/>
<circle cx="114.10" cy="60.97" r="1.7" fill="#BEBEBE"/>
<circle cx="85.79" cy="95.63" r="1.7" fill="#BEBEBE"/>
<circle cx="84.23" cy="93.45" r="1.7" fill="#BEBEBE"/>
<circle cx="96.41" cy="88.86" r="1.7" fill="#BEBEBE"/>
<circle cx="110.33" cy="65.40" r="1.7" fill="#BEBEBE"/>
<circle cx="104.49" cy="73.65" r="1.7" fill="#BEBEBE"/>
<circle cx="93.82" cy="83.64" r="1.7" fill="#BEBEBE"/>
<circle cx="111.61" cy="68.35" r="1.7" fill="#BEBEBE"/>
<circle cx="92.85" cy="96.52" r="1.7" fill="#BEBEBE"/>
<circle cx="101.37" cy="93.23" r="1.7" fill="#BEBEBE"/>
<circle cx="100.18" cy="87.64" r="1.7" fill="#BEBEBE"/>
<circle cx="105.10" cy="67.43" r="1.7" fill="#BEBEBE"/>
<circle cx="91.84" cy="82.70" r="1.7" fill="#BEBEBE"/>
<circle cx="86.88" cy="96.67" r="1.7" fill="#BEBEBE"/>
<circle cx="87.95" cy="97.55" r="1.7" fill="#BEBEBE"/>
<circle cx="86.43" cy="81.14" r="1.7" fill="#BEBEBE"/>
<circle cx="97.45" cy="92.15" r="1.7" fill="#BEBEBE"/>
<circle cx="86.44" cy="94.59" r="1.7" fill="#BEBEBE"/>
<circle cx="107.37" cy="66.44" r="1.7" fill="#BEBEBE"/>
<circle cx="112.02" cy="62.44" r="1.7" fill="#BEBEBE"/>
<circle cx="95.81" cy="73.05" r="1.7" fill="#BEBEBE"/>
<circle cx="94.46" cy="87.21" r="1.7" fill="#BEBEBE"/>
<circle cx="100.15" cy="89.99" r="1.7" fill="#BEBEBE"/>
<circle cx="96.83" cy="86.68" r="1.7" fill="#BEBEBE"/>
<circle cx="115.90" cy="56.91" r="1.7" fill="#BEBEBE"/>
<circle cx="114.33" cy="60.76" r="1.7" fill="#BEBEBE"/>
<circle cx="84.16" cy="76.30" r="1.7" fill="#BEBEBE"/>
<circle cx="102.18" cy="91.14" r="1.7" fill="#BEBEBE"/>
<circle cx="90.83" cy="76.49" r="1.7" fill="#BEBEBE"/>
<circle cx="96.85" cy="92.84" r="1.7" fill="#BEBEBE"/>
<circle cx="93.64" cy="98.28" r="1.7" fill="#BEBEBE"/>
<circle cx="88.07" cy="83.37" r="1.7" fill="#BEBEBE"/>
<circle cx="86.99" cy="90.71" r="1.7" fill="#BEBEBE"/>
<circle cx="107.23" cy="69.75" r="1.7" fill="#BEBEBE"/>
<circle cx="98.85" cy="71.64" r="1.7" fill="#BEBEBE"/>
<circle cx="116.95" cy="56.68" r="1.7" fill="#BEBEBE"/>
<circle cx="98.03" cy="95.37" r="1.7" fill="#BEBEBE"/>
<circle cx="92.64" cy="74.85" r="1.7" fill="#BEBEBE"/>
<circle cx="103.67" cy="89.09" r="1.7" fill="#BEBEBE"/>
<circle cx="89.75" cy="93.39" r="1.7" fill="#BEBEBE"/>
<circle cx="90.27" cy="73.78" r="1.7" fill="#BEBEBE"/>
<circle cx="88.66" cy="74.91" r="1.7" fill="#BEBEBE"/>
<circle cx="87.77" cy="99.18" r="1.7" fill="#BEBEBE"/>
<circle cx="91.26" cy="83.44" r="1.7" fill="#BEBEBE"/>
<circle cx="98.76" cy="90.86" r="1.7" fill="#BEBEBE"/>
<circle cx="107.40" cy="74.97" r="1.7" fill="#BEBEBE"/>
<circle cx="89.25" cy="81.78" r="1.7" fill="#BEBEBE"/>
<circle cx="98.97" cy="88.44" r="1.7" fill="#BEBEBE"/>
<circle cx="107.74" cy="74.51" r="1.7" fill="#BEBEBE"/>
<circle cx="95.58" cy="82.97" r="1.7" fill="#BEBEBE"/>
<circle cx="107.30" cy="64.63" r="1.7" fill="#BEBEBE"/>
<circle cx="99.67" cy="74.58" r="1.7" fill="#BEBEBE"/>
<circle cx="107.00" cy="72.35" r="1.7" fill="#BEBEBE"/>
<circle cx="90.77" cy="84.24" r="1.7" fill="#BEBEBE"/>
<circle cx="102.12" cy="99.77" r="1.7" fill="#BEBEBE"/>
<circle cx="85.41" cy="78.85" r="1.7" fill="#BEBEBE"/>
<circle cx="89.95" cy="90.42" r="1.7" fill="#BEBEBE"/>
<circle cx="87.74" cy="80.37" r="1.7" fill="#BEBEBE"/>
<circle cx="104.02" cy="87.29" r="1.7" fill="#BEBEBE"/>
<circle cx="102.95" cy="83.50" r="1.7" fill="#BEBEBE"/>
<circle cx="99.18" cy="98.48" r="1.7" fill="#BEBEBE"/>
<circle cx="91.77" cy="85.69" r="1.7" fill="#BEBEBE"/>
<circle cx="98.52" cy="89.49" r="1.7" fill="#BEBEBE"/>
<circle cx="88.53" cy="100.25" r="1.7" fill="#BEBEBE"/>
<circle cx="94.15" cy="71.88" r="1.7" fill="#BEBEBE"/>
<circle cx="99.56" cy="86.37" r="1.7" fill="#BEBEBE"/>
<circle cx="92.30" cy="88.46" r="1.7" fill="#BEBEBE"/>
<circle cx="92.10" cy="91.37" r="1.7" fill="#BEBEBE"/>
<circle cx="88.78" cy="90.17" r="1.7" fill="#BEBEBE"/>
<circle cx="101.36" cy="79.76" r="1.7" fill="#BEBEBE"/>
<circle cx="92.36" cy="99.25" r="1.7" fill="#BEBEBE"/>
<circle cx="97.07" cy="83.48" r="1.7" fill="#BEBEBE"/>
<circle cx="101.32" cy="66.78" r="1.7" fill="#BEBEBE"/>
<circle cx="84.10" cy="87.51" r="1.7" fill="#BEBEBE"/>
<circle cx="95.17" cy="75.76" r="1.7" fill="#BEBEBE"/>
<circle cx="99.85" cy="83.41" r="1.7" fill="#BEBEBE"/>
<circle cx="108.39" cy="70.08" r="1.7" fill="#BEBEBE"/>
<circle cx="86.11" cy="92.65" r="1.7" fill="#BEBEBE"/>
<circle cx="89.19" cy="92.82" r="1.7" fill="#BEBEBE"/>
<circle cx="84.42" cy="98.66" r="1.7" fill="#BEBEBE"/>
<circle cx="108.27" cy="64.63" r="1.7" fill="#BEBEBE"/>
<circle cx="92.64" cy="90.15" r="1.7" fill="#BEBEBE"/>
<circle cx="90.21" cy="95.72" r="1.7" fill="#BEBEBE"/>
<circle cx="91.30" cy="86.10" r="1.7" fill="#BEBEBE"/>
<circle cx="103.64" cy="88.48" r="1.7" fill="#BEBEBE"/>
<circle cx="100.23" cy="95.31" r="1.7" fill="#BEBEBE"/>
<circle cx="104.54" cy="65.33" r="1.7" fill="#BEBEBE"/>
<circle cx="102.18" cy="76.66" r="1.7" fill="#BEBEBE"/>
<circle cx="103.96" cy="94.35" r="1.7" fill="#BEBEBE"/>
<circle cx="84.24" cy="93.28" r="1.7" fill="#BEBEBE"/>
<circle cx="101.31" cy="79.78" r="1.7" fill="#BEBEBE"/>
<circle cx="97.87" cy="72.81" r="1.7" fill="#BEBEBE"/>
<circle cx="119.54" cy="56.16" r="1.7" fill="#BEBEBE"/>
<circle cx="85.06" cy="82.07" r="1.7" fill="#BEBEBE"/>
<circle cx="96.23" cy="100.11" r="1.7" fill="#BEBEBE"/>
<circle cx="102.89" cy="76.01" r="1.7" fill="#BEBEBE"/>
<circle cx="96.53" cy="94.29" r="1.7" fill="#BEBEBE"/>
<circle cx="97.55" cy="75.51" r="1.7" fill="#BEBEBE"/>
<circle cx="103.44" cy="89.87" r="1.7" fill="#BEBEBE"/>
<circle cx="91.80" cy="73.61" r="1.7" fill="#BEBEBE"/>
<circle cx="99.63" cy="79.37" r="1.7" fill="#BEBEBE"/>
<circle cx="102.64" cy="65.68" r="1.7" fill="#BEBEBE"/>
<circle cx="102.74" cy="99.79" r="1.7" fill="#BEBEBE"/>
<circle cx="95.07" cy="80.94" r="1.7" fill="#BEBEBE"/>
<circle cx="85.48" cy="87.55" r="1.7" fill="#BEBEBE"/>
<circle cx="109.20" cy="62.81" r="1.7" fill="#BEBEBE"/>
<circle cx="108.26" cy="70.39" r="1.7" fill="#BEBEBE"/>
<circle cx="104.80" cy="65.01" r="1.7" fill="#BEBEBE"/>
<circle cx="95.18" cy="72.96" r="1.7" fill="#BEBEBE"/>
<circle cx="95.78" cy="73.39" r="1.7" fill="#BEBEBE"/>
<circle cx="86.02" cy="80.02" r="1.7" fill="#BEBEBE"/>
<circle cx="107.85" cy="62.80" r="1.7" fill="#BEBEBE"/>
<circle cx="84.18" cy="85.66" r="1.7" fill="#BEBEBE"/>
<circle cx="88.50" cy="99.37" r="1.7" fill="#BEBEBE"/>
<circle cx="87.26" cy="94.67" r="1.7" fill="#BEBEBE"/>
<circle cx="110.62" cy="64.25" r="1.7" fill="#BEBEBE"/>
<circle cx="111.14" cy="61.59" r="1.7" fill="#BEBEBE"/>
<circle cx="85.86" cy="90.04" r="1.7" fill="#BEBEBE"/>
<circle cx="101.04" cy="97.72" r="1.7" fill="#BEBEBE"/>
<circle cx="93.40" cy="99.27" r="1.7" fill="#BEBEBE"/>
<circle cx="84.54" cy="84.06" r="1.7" fill="#BEBEBE"/>
<circle cx="95.51" cy="87.88" r="1.7" fill="#BEBEBE"/>
<circle cx="90.14" cy="94.26" r="1.7" fill="#BEBEBE"/>
<circle cx="97.60" cy="80.39" r="1.7" fill="#BEBEBE"/>
<circle cx="100.23" cy="85.33" r="1.7" fill="#BEBEBE"/>
<circle cx="89.36" cy="91.17" r="1.7" fill="#BEBEBE"/>
<circle cx="97.44" cy="83.78" r="1.7" fill="#BEBEBE"/>
<circle cx="107.30" cy="72.77" r="1.7" fill="#BEBEBE"/>
<circle cx="98.27" cy="90.63" r="1.7" fill="#BEBEBE"/>
<circle cx="104.97" cy="66.68" r="1.7" fill="#BEBEBE"/>
<circle cx="86.24" cy="99.74" r="1.7" fill="#BEBEBE"/>
<circle cx="96.29" cy="81.88" r="1.7" fill="#BEBEBE"/>
<circle cx="106.24" cy="67.47" r="1.7" fill="#BEBEBE"/>
<circle cx="99.86" cy="95.57" r="1.7" fill="#BEBEBE"/>
<circle cx="97.94" cy="85.71" r="1.7" fill="#BEBEBE"/>
<circle cx="99.63" cy="80.95" r="1.7" fill="#BEBEBE"/>
<circle cx="85.56" cy="92.91" r="1.7" fill="#BEBEBE"/>
<circle cx="105.16" cy="65.78" r="1.7" fill="#BEBEBE"/>
<circle cx="104.49" cy="91.17" r="1.7" fill="#BEBEBE"/>
<circle cx="91.42" cy="88.88" r="1.7" fill="#BEBEBE"/>
<circle cx="93.43" cy="88.93" r="1.7" fill="#BEBEBE"/>
<circle cx="87.24" cy="91.62" r="1.7" fill="#BEBEBE"/>
<circle cx="112.57" cy="63.79" r="1.7" fill="#BEBEBE"/>
<circle cx="101.63" cy="81.08" r="1.7" fill="#BEBEBE"/>
<circle cx="90.69" cy="86.50" r="1.7" fill="#BEBEBE"/>
<circle cx="97.42" cy="79.87" r="1.7" fill="#BEBEBE"/>
<circle cx="98.89" cy="77.59" r="1.7" fill="#BEBEBE"/>
<circle cx="87.93" cy="83.19" r="1.7" fill="#BEBEBE"/>
<circle cx="113.13" cy="60.07" r="1.7" fill="#BEBEBE"/>
<circle cx="106.10" cy="69.23" r="1.7" fill="#BEBEBE"/>
<circle cx="85.24" cy="100.53" r="1.7" fill="#BEBEBE"/>
<circle cx="104.99" cy="65.19" r="1.7" fill="#BEBEBE"/>
<circle cx="104.62" cy="94.73" r="1.7" fill="#BEBEBE"/>
<circle cx="100.96" cy="98.44" r="1.7" fill="#BEBEBE"/>
<circle cx="117.67" cy="55.61" r="1.7" fill="#BEBEBE"/>
<circle cx="106.13" cy="71.77" r="1.7" fill="#BEBEBE"/>
<circle cx="88.44" cy="99.03" r="1.7" fill="#BEBEBE"/>
<circle cx="93.52" cy="79.88" r="1.7" fill="#BEBEBE"/>
<circle cx="108.78" cy="71.57" r="1.7" fill="#BEBEBE"/>
<circle cx="109.04" cy="66.99" r="1.7" fill="#BEBEBE"/>
<circle cx="110.54" cy="61.96" r="1.7" fill="#BEBEBE"/>
<circle cx="85.33" cy="97.49" r="1.7" fill="#BEBEBE"/>
<circle cx="92.16" cy="97.80" r="1.7" fill="#BEBEBE"/>
<circle cx="89.17" cy="74.19" r="1.7" fill="#BEBEBE"/>
<circle cx="87.59" cy="97.55" r="1.7" fill="#BEBEBE"/>
<circle cx="100.74" cy="68.98" r="1.7" fill="#BEBEBE"/>
<circle cx="89.35" cy="94.73" r="1.7" fill="#BEBEBE"/>
<circle cx="93.86" cy="72.47" r="1.7" fill="#BEBEBE"/>
<circle cx="90.21" cy="76.31" r="1.7" fill="#BEBEBE"/>
<circle cx="95.77" cy="96.30" r="1.7" fill="#BEBEBE"/>
<circle cx="88.22" cy="99.96" r="1.7" fill="#BEBEBE"/>
<circle cx="86.10" cy="95.91" r="1.7" fill="#BEBEBE"/>
<circle cx="108.73" cy="62.74" r="1.7" fill="#BEBEBE"/>
<circle cx="101.67" cy="66.38" r="1.7" fill="#BEBEBE"/>
<circle cx="97.48" cy="100.56" r="1.7" fill="#BEBEBE"/>
<circle cx="110.88" cy="66.74" r="1.7" fill="#BEBEBE"/>
<circle cx="120.21" cy="53.28" r="1.7" fill="#BEBEBE"/>
<circle cx="90.88" cy="73.61" r="1.7" fill="#BEBEBE"/>
<circle cx="90.66" cy="89.87" r="1.7" fill="#BEBEBE"/>
<circle cx="110.33" cy="62.04" r="1.7" fill="#BEBEBE"/>
<circle cx="106.52" cy="76.53" r="1.7" fill="#BEBEBE"/>
<circle cx="90.88" cy="92.83" r="1.7" fill="#BEBEBE"/>
<circle cx="97.73" cy="81.35" r="1.7" fill="#BEBEBE"/>
<circle cx="84.17" cy="77.71" r="1.7" fill="#BEBEBE"/>
<circle cx="100.49" cy="77.51" r="1.7" fill="#BEBEBE"/>
<circle cx="88.47" cy="87.16" r="1.7" fill="#BEBEBE"/>
<circle cx="95.88" cy="86.99" r="1.7" fill="#BEBEBE"/>
<circle cx="98.11" cy="88.94" r="1.7" fill="#BEBEBE"/>
<circle cx="86.26" cy="94.83" r="1.7" fill="#BEBEBE"/>
<circle cx="102.99" cy="78.23" r="1.7" fill="#BEBEBE"/>
<circle cx="93.27" cy="92.13" r="1.7" fill="#BEBEBE"/>
<circle cx="109.86" cy="61.96" r="1.7" fill="#BEBEBE"/>
<circle cx="84.65" cy="81.57" r="1.7" fill="#BEBEBE"/>
<circle cx="105.33" cy="77.86" r="1.7" fill="#BEBEBE"/>
<circle cx="102.26" cy="76.79" r="1.7" fill="#BEBEBE"/>
<circle cx="89.45" cy="80.28" r="1.7" fill="#BEBEBE"/>
<circle cx="111.62" cy="60.47" r="1.7" fill="#BEBEBE"/>
<circle cx="98.38" cy="72.89" r="1.7" fill="#BEBEBE"/>
<circle cx="98.64" cy="98.15" r="1.7" fill="#BEBEBE"/>
<circle cx="100.12" cy="100.09" r="1.7" fill="#BEBEBE"/>
<circle cx="85.98" cy="77.59" r="1.7" fill="#BEBEBE"/>
<circle cx="93.22" cy="72.97" r="1.7" fill="#BEBEBE"/>
<circle cx="107.41" cy="70.17" r="1.7" fill="#BEBEBE"/>
<circle cx="100.02" cy="76.98" r="1.7" fill="#BEBEBE"/>
<circle cx="107.74" cy="65.39" r="1.7" fill="#BEBEBE"/>
<circle cx="109.10" cy="65.76" r="1.7" fill="#BEBEBE"/>
<circle cx="104.06" cy="97.33" r="1.7" fill="#BEBEBE"/>
<circle cx="106.99" cy="64.65" r="1.7" fill="#BEBEBE"/>
<circle cx="103.25" cy="73.53" r="1.7" fill="#BEBEBE"/>
<circle cx="95.30" cy="83.90" r="1.7" fill="#BEBEBE"/>
<circle cx="88.45" cy="81.32" r="1.7" fill="#BEBEBE"/>
<circle cx="93.93" cy="75.12" r="1.7" fill="#BEBEBE"/>
<circle cx="94.86" cy="72.22" r="1.7" fill="#BEBEBE"/>
<circle cx="87.25" cy="79.00" r="1.7" fill="#BEBEBE"/>
<circle cx="105.10" cy="84.04" r="1.7" fill="#BEBEBE"/>
<circle cx="91.44" cy="86.95" r="1.7" fill="#BEBEBE"/>
<circle cx="101.05" cy="79.08" r="1.7" fill="#BEBEBE"/>
<circle cx="106.67" cy="75.24" r="1.7" fill="#BEBEBE"/>
<circle cx="92.20" cy="77.35" r="1.7" fill="#BEBEBE"/>
<circle cx="98.18" cy="80.91" r="1.7" fill="#BEBEBE"/>
<circle cx="104.60" cy="76.33" r="1.7" fill="#BEBEBE"/>
<circle cx="94.54" cy="100.39" r="1.7" fill="#BEBEBE"/>
<circle cx="94.93" cy="89.95" r="1.7" fill="#BEBEBE"/>
<circle cx="100.28" cy="88.17" r="1.7" fill="#BEBEBE"/>
<circle cx="97.04" cy="85.25" r="1.7" fill="#BEBEBE"/>
<circle cx="117.84" cy="58.67" r="1.7" fill="#BEBEBE"/>
<circle cx="102.42" cy="99.19" r="1.7" fill="#BEBEBE"/>
<circle cx="105.16" cy="72.77" r="1.7" fill="#BEBEBE"/>
<circle cx="106.47" cy="70.91" r="1.7" fill="#BEBEBE"/>
<circle cx="100.73" cy="74.71" r="1.7" fill="#BEBEBE"/>
<circle cx="110.75" cy="66.71" r="1.7" fill="#BEBEBE"/>
<circle cx="98.46" cy="79.43" r="1.7" fill="#BEBEBE"/>
<circle cx="102.48" cy="74.04" r="1.7" fill="#BEBEBE"/>
<circle cx="89.36" cy="80.41" r="1.7" fill="#BEBEBE"/>
<circle cx="99.78" cy="96.66" r="1.7" fill="#BEBEBE"/>
<circle cx="104.90" cy="76.62" r="1.7" fill="#BEBEBE"/>
<circle cx="103.92" cy="100.92" r="1.7" fill="#BEBEBE"/>
<circle cx="103.15" cy="77.59" r="1.7" fill="#BEBEBE"/>
<circle cx="109.35" cy="71.39" r="1.7" fill="#BEBEBE"/>
<circle cx="97.24" cy="81.34" r="1.7" fill="#BEBEBE"/>
<circle cx="96.99" cy="98.47" r="1.7" fill="#BEBEBE"/>
<circle cx="98.83" cy="79.72" r="1.7" fill="#BEBEBE"/>
<circle cx="100.29" cy="82.79" r="1.7" fill="#BEBEBE"/>
<circle cx="103.62" cy="92.07" r="1.7" fill="#BEBEBE"/>
<circle cx="102.93" cy="76.99" r="1.7" fill="#BEBEBE"/>
<circle cx="97.07" cy="100.70" r="1.7" fill="#BEBEBE"/>
<circle cx="99.22" cy="90.70" r="1.7" fill="#BEBEBE"/>
<circle cx="95.35" cy="86.00" r="1.7" fill="#BEBEBE"/>
<circle cx="108.72" cy="62.04" r="1.7" fill="#BEBEBE"/>
<circle cx="102.42" cy="79.33" r="1.7" fill="#BEBEBE"/>
<circle cx="93.84" cy="83.87" r="1.7" fill="#BEBEBE"/>
<circle cx="103.67" cy="100.86" r="1.7" fill="#BEBEBE"/>
<circle cx="105.26" cy="72.44" r="1.7" fill="#BEBEBE"/>
<circle cx="103.33" cy="92.42" r="1.7" fill="#BEBEBE"/>
<circle cx="110.47" cy="69.66" r="1.7" fill="#BEBEBE"/>
<circle cx="87.68" cy="96.34" r="1.7" fill="#BEBEBE"/>
<circle cx="105.54" cy="69.42" r="1.7" fill="#BEBEBE"/>
<circle cx="100.64" cy="71.20" r="1.7" fill="#BEBEBE"/>
<circle cx="86.02" cy="95.69" r="1.7" fill="#BEBEBE"/>
<circle cx="100.27" cy="82.58" r="1.7" fill="#BEBEBE"/>
<circle cx="95.65" cy="96.10" r="1.7" fill="#BEBEBE"/>
<circle cx="102.34" cy="98.56" r="1.7" fill="#BEBEBE"/>
<circle cx="110.58" cy="63.24" r="1.7" fill="#BEBEBE"/>
<circle cx="95.44" cy="94.95" r="1.7" fill="#BEBEBE"/>
<circle cx="101.92" cy="90.95" r="1.7" fill="#BEBEBE"/>
<circle cx="103.75" cy="71.20" r="1.7" fill="#BEBEBE"/>
<circle cx="88.56" cy="92.55" r="1.7" fill="#BEBEBE"/>
<circle cx="108.58" cy="69.06" r="1.7" fill="#BEBEBE"/>
<circle cx="89.77" cy="86.73" r="1.7" fill="#BEBEBE"/>
<circle cx="114.90" cy="58.70" r="1.7" fill="#BEBEBE"/>
<circle cx="100.40" cy="93.06" r="1.7" fill="#BEBEBE"/>
<circle cx="113.78" cy="60.22" r="1.7" fill="#BEBEBE"/>
<circle cx="97.06" cy="87.54" r="1.7" fill="#BEBEBE"/>
<circle cx="97.95" cy="98.98" r="1.7" fill="#BEBEBE"/>
<circle cx="91.70" cy="98.62" r="1.7" fill="#BEBEBE"/>
<circle cx="110.14" cy="65.15" r="1.7" fill="#BEBEBE"/>
<circle cx="106.50" cy="62.81" r="1.7" fill="#BEBEBE"/>
<circle cx="116.28" cy="58.46" r="1.7" fill="#BEBEBE"/>
<circle cx="102.98" cy="78.82" r="1.7" fill="#BEBEBE"/>
<circle cx="94.01" cy="89.93" r="1.7" fill="#BEBEBE"/>
<circle cx="98.24" cy="84.39" r="1.7" fill="#BEBEBE"/>
<circle cx="105.00" cy="67.57" r="1.7" fill="#BEBEBE"/>
<circle cx="90.55" cy="93.77" r="1.7" fill="#BEBEBE"/>
<circle cx="95.88" cy="84.64" r="1.7" fill="#BEBEBE"/>
<circle cx="88.03" cy="79.76" r="1.7" fill="#BEBEBE"/>
<circle cx="97.37" cy="76.77" r="1.7" fill="#BEBEBE"/>
<circle cx="88.67" cy="87.26" r="1.7" fill="#BEBEBE"/>
<circle cx="94.45" cy="72.06" r="1.7" fill="#BEBEBE"/>
<circle cx="85.09" cy="85.46" r="1.7" fill="#BEBEBE"/>
<circle cx="108.55" cy="69.54" r="1.7" fill="#BEBEBE"/>
<circle cx="99.27" cy="84.46" r="1.7" fill="#BEBEBE"/>
<circle cx="109.87" cy="64.55" r="1.7" fill="#BEBEBE"/>
<circle cx="88.26" cy="96.77" r="1.7" fill="#BEBEBE"/>
<circle cx="95.21" cy="70.97" r="1.7" fill="#BEBEBE"/>
<circle cx="110.52" cy="64.85" r="1.7" fill="#BEBEBE"/>
<circle cx="100.09" cy="85.69" r="1.7" fill="#BEBEBE"/>
<circle cx="88.11" cy="90.88" r="1.7" fill="#BEBEBE"/>
<circle cx="91.78" cy="96.85" r="1.7" fill="#BEBEBE"/>
<circle cx="109.70" cy="71.59" r="1.7" fill="#BEBEBE"/>
<circle cx="107.24" cy="74.46" r="1.7" fill="#BEBEBE"/>
<circle cx="86.01" cy="86.37" r="1.7" fill="#BEBEBE"/>
<circle cx="99.85" cy="77.33" r="1.7" fill="#BEBEBE"/>
<circle cx="93.66" cy="79.00" r="1.7" fill="#BEBEBE"/>
<circle cx="104.13" cy="64.61" r="1.7" fill="#BEBEBE"/>
<circle cx="103.07" cy="74.08" r="1.7" fill="#BEBEBE"/>
<circle cx="95.08" cy="95.41" r="1.7" fill="#BEBEBE"/>
<circle cx="89.25" cy="79.82" r="1.7" fill="#BEBEBE"/>
<circle cx="96.34" cy="92.05" r="1.7" fill="#BEBEBE"/>
<circle cx="104.29" cy="89.39" r="1.7" fill="#BEBEBE"/>
<circle cx="90.26" cy="84.83" r="1.7" fill="#BEBEBE"/>
<circle cx="106.15" cy="74.87" r="1.7" fill="#BEBEBE"/>
<circle cx="91.29" cy="86.53" r="1.7" fill="#BEBEBE"/>
<circle cx="96.01" cy="75.23" r="1.7" fill="#BEBEBE"/>
<circle cx="87.11" cy="87.28" r="1.7" fill="#BEBEBE"/>
<circle cx="88.03" cy="76.21" r="1.7" fill="#BEBEBE"/>
<circle cx="108.15" cy="64.69" r="1.7" fill="#BEBEBE"/>
<circle cx="85.02" cy="90.06" r="1.7" fill="#BEBEBE"/>
<circle cx="90.87" cy="83.45" r="1.7" fill="#BEBEBE"/>
<circle cx="90.23" cy="90.55" r="1.7" fill="#BEBEBE"/>
<circle cx="97.64" cy="79.23" r="1.7" fill="#BEBEBE"/>
<circle cx="97.66" cy="92.82" r="1.7" fill="#BEBEBE"/>
<circle cx="104.97" cy="82.97" r="1.7" fill="#BEBEBE"/>
<circle cx="102.29" cy="76.73" r="1.7" fill="#BEBEBE"/>
<circle cx="109.46" cy="60.44" r="1.7" fill="#BEBEBE"/>
<circle cx="100.40" cy="99.54" r="1.7" fill="#BEBEBE"/>
<circle cx="94.48" cy="84.59" r="1.7" fill="#BEBEBE"/>
<circle cx="103.04" cy="72.93" r="1.7" fill="#BEBEBE"/>
<circle cx="96.53" cy="73.78" r="1.7" fill="#BEBEBE"/>
<circle cx="94.94" cy="73.99" r="1.7" fill="#BEBEBE"/>
<circle cx="104.84" cy="69.38" r="1.7" fill="#BEBEBE"/>
<circle cx="95.98" cy="74.83" r="1.7" fill="#BEBEBE"/>
<circle cx="94.99" cy="80.20" r="1.7" fill="#BEBEBE"/>
<circle cx="107.95" cy="67.02" r="1.7" fill="#BEBEBE"/>
<circle cx="96.71" cy="95.43" r="1.7" fill="#BEBEBE"/>
<circle cx="87.15" cy="84.53" r="1.7" fill="#BEBEBE"/>
<circle cx="97.76" cy="80.67" r="1.7" fill="#BEBEBE"/>
<circle cx="99.41" cy="78.20" r="1.7" fill="#BEBEBE"/>
<circle cx="104.90" cy="71.72" r="1.7" fill="#BEBEBE"/>
<circle cx="88.15" cy="94.32" r="1.7" fill="#BEBEBE"/>
<circle cx="103.64" cy="64.70" r="1.7" fill="#BEBEBE"/>
<circle cx="102.10" cy="79.37" r="1.7" fill="#BEBEBE"/>
<circle cx="92.38" cy="80.28" r="1.7" fill="#BEBEBE"/>
<circle cx="88.18" cy="77.39" r="1.7" fill="#BEBEBE"/>
<circle cx="100.26" cy="94.38" r="1.7" fill="#BEBEBE"/>
<circle cx="104.37" cy="87.16" r="1.7" fill="#BEBEBE"/>
<circle cx="87.78" cy="92.77" r="1.7" fill="#BEBEBE"/>
<circle cx="112.67" cy="59.13" r="1.7" fill="#BEBEBE"/>
<circle cx="84.56" cy="81.32" r="1.7" fill="#BEBEBE"/>
<circle cx="90.22" cy="88.65" r="1.7" fill="#BEBEBE"/>
<circle cx="96.63" cy="89.54" r="1.7" fill="#BEBEBE"/>
<circle cx="104.31" cy="91.45" r="1.7" fill="#BEBEBE"/>
<circle cx="88.18" cy="97.38" r="1.7" fill="#BEBEBE"/>
<circle cx="108.98" cy="64.85" r="1.7" fill="#BEBEBE"/>
<circle cx="91.15" cy="74.17" r="1.7" fill="#BEBEBE"/>
<circle cx="88.09" cy="91.33" r="1.7" fill="#BEBEBE"/>
<circle cx="90.85" cy="79.38" r="1.7" fill="#BEBEBE"/>
<circle cx="94.73" cy="85.83" r="1.7" fill="#BEBEBE"/>
<circle cx="102.57" cy="94.84" r="1.7" fill="#BEBEBE"/>
<circle cx="90.74" cy="92.19" r="1.7" fill="#BEBEBE"/>
<circle cx="109.14" cy="71.54" r="1.7" fill="#BEBEBE"/>
<circle cx="92.00" cy="95.86" r="1.7" fill="#BEBEBE"/>
<circle cx="101.31" cy="80.49" r="1.7" fill="#BEBEBE"/>
<circle cx="98.35" cy="69.65" r="1.7" fill="#BEBEBE"/>
<circle cx="84.22" cy="80.59" r="1.7" fill="#BEBEBE"/>
<circle cx="101.00" cy="100.34" r="1.7" fill="#BEBEBE"/>
<circle cx="108.83" cy="65.72" r="1.7" fill="#BEBEBE"/>
<circle cx="94.11" cy="76.75" r="1.7" fill="#BEBEBE"/>
<circle cx="93.70" cy="80.09" r="1.7" fill="#BEBEBE"/>
<circle cx="103.54" cy="98.91" r="1.7" fill="#BEBEBE"/>
<circle cx="120.71" cy="54.15" r="1.7" fill="#BEBEBE"/>
<circle cx="104.74" cy="89.89" r="1.7" fill="#BEBEBE"/>
<circle cx="95.25" cy="89.52" r="1.7" fill="#BEBEBE"/>
<circle cx="107.50" cy="69.50" r="1.7" fill="#BEBEBE"/>
<circle cx="104.38" cy="72.19" r="1.7" fill="#BEBEBE"/>
<circle cx="95.96" cy="100.44" r="1.7" fill="#BEBEBE"/>
<circle cx="101.81" cy="70.31" r="1.7" fill="#BEBEBE"/>
<circle cx="84.27" cy="94.74" r="1.7" fill="#BEBEBE"/>
<circle cx="100.77" cy="74.11" r="1.7" fill="#BEBEBE"/>
<circle cx="105.04" cy="67.17" r="1.7" fill="#BEBEBE"/>
<circle cx="97.21" cy="90.06" r="1.7" fill="#BEBEBE"/>
<circle cx="99.85" cy="94.61" r="1.7" fill="#BEBEBE"/>
<circle cx="86.51" cy="76.00" r="1.7" fill="#BEBEBE"/>
<circle cx="110.06" cy="63.09" r="1.7" fill="#BEBEBE"/>
<circle cx="107.98" cy="62.04" r="1.7" fill="#BEBEBE"/>
<circle cx="90.96" cy="78.54" r="1.7" fill="#BEBEBE"/>
<circle cx="96.09" cy="88.84" r="1.7" fill="#BEBEBE"/>
<circle cx="108.01" cy="72.16" r="1.7" fill="#BEBEBE"/>
<circle cx="109.12" cy="68.88" r="1.7" fill="#BEBEBE"/>
<circle cx="85.68" cy="82.88" r="1.7" fill="#BEBEBE"/>
<circle cx="96.38" cy="76.48" r="1.7" fill="#BEBEBE"/>
<circle cx="106.12" cy="64.97" r="1.7" fill="#BEBEBE"/>
<circle cx="120.54" cy="55.22" r="1.7" fill="#BEBEBE"/>
<circle cx="103.93" cy="81.04" r="1.7" fill="#BEBEBE"/>
<circle cx="104.53" cy="84.38" r="1.7" fill="#BEBEBE"/>
<circle cx="106.26" cy="68.55" r="1.7" fill="#BEBEBE"/>
<circle cx="111.42" cy="65.00" r="1.7" fill="#BEBEBE"/>
<circle cx="103.36" cy="98.14" r="1.7" fill="#BEBEBE"/>
<circle cx="101.60" cy="84.29" r="1.7" fill="#BEBEBE"/>
<circle cx="86.23" cy="76.84" r="1.7" fill="#BEBEBE"/>
<circle cx="112.79" cy="64.27" r="1.7" fill="#BEBEBE"/>
<circle cx="107.54" cy="69.20" r="1.7" fill="#BEBEBE"/>
<circle cx="95.98" cy="96.32" r="1.7" fill="#BEBEBE"/>
<circle cx="87.99" cy="88.07" r="1.7" fill="#BEBEBE"/>
<circle cx="86.42" cy="83.80" r="1.7" fill="#BEBEBE"/>
<circle cx="98.87" cy="94.41" r="1.7" fill="#BEBEBE"/>
<circle cx="86.22" cy="79.86" r="1.7" fill="#BEBEBE"/>
<circle cx="112.85" cy="97.20" r="1.7" fill="#BEBEBE"/>
<circle cx="110.57" cy="74.39" r="1.7" fill="#BEBEBE"/>
<circle cx="111.13" cy="100.73" r="1.7" fill="#BEBEBE"/>
<circle cx="109.86" cy="80.77" r="1.7" fill="#BEBEBE"/>
<circle cx="108.93" cy="94.56" r="1.7" fill="#BEBEBE"/>
<circle cx="114.03" cy="95.88" r="1.7" fill="#BEBEBE"/>
<circle cx="109.00" cy="86.09" r="1.7" fill="#BEBEBE"/>
<circle cx="115.76" cy="75.29" r="1.7" fill="#BEBEBE"/>
<circle cx="115.48" cy="95.49" r="1.7" fill="#BEBEBE"/>
<circle cx="109.75" cy="95.53" r="1.7" fill="#BEBEBE"/>
<circle cx="112.09" cy="90.65" r="1.7" fill="#BEBEBE"/>
<circle cx="119.88" cy="62.57" r="1.7" fill="#BEBEBE"/>
<circle cx="119.89" cy="100.76" r="1.7" fill="#BEBEBE"/>
<circle cx="108.23" cy="99.79" r="1.7" fill="#BEBEBE"/>
<circle cx="106.65" cy="96.85" r="1.7" fill="#BEBEBE"/>
<circle cx="108.84" cy="88.59" r="1.7" fill="#BEBEBE"/>
<circle cx="111.76" cy="97.17" r="1.7" fill="#BEBEBE"/>
<circle cx="117.60" cy="95.45" r="1.7" fill="#BEBEBE"/>
<circle cx="121.68" cy="55.55" r="1.7" fill="#BEBEBE"/>
<circle cx="110.14" cy="91.23" r="1.7" fill="#BEBEBE"/>
<circle cx="106.81" cy="100.57" r="1.7" fill="#BEBEBE"/>
<circle cx="111.41" cy="95.29" r="1.7" fill="#BEBEBE"/>
<circle cx="88.40" cy="63.50" r="1.65" fill="#BEBEBE"/>
<circle cx="88.40" cy="68.20" r="1.65" fill="#BEBEBE"/>
<circle cx="95.50" cy="56.80" r="1.65" fill="#BEBEBE"/>
<circle cx="96.00" cy="60.50" r="1.65" fill="#BEBEBE"/>
<circle cx="99.80" cy="57.50" r="1.65" fill="#BEBEBE"/>
<circle cx="101.00" cy="59.00" r="1.65" fill="#BEBEBE"/>
<circle cx="105.00" cy="51.40" r="1.65" fill="#BEBEBE"/>
<circle cx="109.70" cy="54.70" r="1.65" fill="#BEBEBE"/>
<circle cx="107.60" cy="59.70" r="1.65" fill="#BEBEBE"/>
<circle cx="100.60" cy="64.80" r="1.65" fill="#BEBEBE"/>
<circle cx="106.00" cy="62.50" r="1.65" fill="#BEBEBE"/>
<circle cx="112.70" cy="53.50" r="1.65" fill="#BEBEBE"/>
<circle cx="86.00" cy="71.50" r="1.65" fill="#BEBEBE"/>
<circle cx="91.00" cy="70.50" r="1.65" fill="#BEBEBE"/>
<circle cx="129.60" cy="83.50" r="1.65" fill="#8B1A1A"/>
<circle cx="131.60" cy="83.50" r="1.65" fill="#8B1A1A"/>
<circle cx="136.60" cy="82.00" r="1.65" fill="#8B1A1A"/>
<circle cx="145.40" cy="80.30" r="1.65" fill="#8B1A1A"/>
<circle cx="147.70" cy="84.10" r="1.65" fill="#8B1A1A"/>
<circle cx="149.70" cy="83.50" r="1.65" fill="#8B1A1A"/>
<circle cx="121.10" cy="86.40" r="1.65" fill="#8B1A1A"/>
<circle cx="121.70" cy="87.60" r="1.65" fill="#8B1A1A"/>
<circle cx="125.20" cy="87.30" r="1.65" fill="#8B1A1A"/>
<circle cx="129.30" cy="88.10" r="1.65" fill="#8B1A1A"/>
<circle cx="128.40" cy="90.20" r="1.65" fill="#8B1A1A"/>
<circle cx="134.30" cy="86.70" r="1.65" fill="#8B1A1A"/>
<circle cx="136.60" cy="86.70" r="1.65" fill="#8B1A1A"/>
<circle cx="135.70" cy="89.30" r="1.65" fill="#8B1A1A"/>
<circle cx="122.90" cy="90.20" r="1.65" fill="#8B1A1A"/>
<circle cx="125.50" cy="91.10" r="1.65" fill="#8B1A1A"/>
<circle cx="127.60" cy="90.80" r="1.65" fill="#8B1A1A"/>
<circle cx="129.00" cy="94.60" r="1.65" fill="#8B1A1A"/>
<circle cx="133.10" cy="93.10" r="1.65" fill="#8B1A1A"/>
<circle cx="134.30" cy="92.80" r="1.65" fill="#8B1A1A"/>
<circle cx="137.80" cy="92.80" r="1.65" fill="#8B1A1A"/>
<circle cx="140.10" cy="94.90" r="1.65" fill="#8B1A1A"/>
<circle cx="120.80" cy="95.40" r="1.65" fill="#8B1A1A"/>
<circle cx="122.60" cy="94.90" r="1.65" fill="#8B1A1A"/>
<circle cx="123.80" cy="96.00" r="1.65" fill="#8B1A1A"/>
<circle cx="120.30" cy="97.80" r="1.65" fill="#8B1A1A"/>
<circle cx="122.00" cy="98.40" r="1.65" fill="#8B1A1A"/>
<circle cx="124.30" cy="97.20" r="1.65" fill="#8B1A1A"/>
<circle cx="126.40" cy="98.40" r="1.65" fill="#8B1A1A"/>
<circle cx="127.60" cy="99.50" r="1.65" fill="#8B1A1A"/>
<circle cx="132.50" cy="95.40" r="1.65" fill="#8B1A1A"/>
<circle cx="131.90" cy="97.80" r="1.65" fill="#8B1A1A"/>
<circle cx="132.50" cy="99.50" r="1.65" fill="#8B1A1A"/>
<circle cx="134.30" cy="99.50" r="1.65" fill="#8B1A1A"/>
<circle cx="136.00" cy="99.50" r="1.65" fill="#8B1A1A"/>
<circle cx="138.10" cy="99.50" r="1.65" fill="#8B1A1A"/>
<circle cx="140.70" cy="99.50" r="1.65" fill="#8B1A1A"/>
<circle cx="120.30" cy="99.80" r="1.65" fill="#8B1A1A"/>
<circle cx="122.00" cy="100.10" r="1.65" fill="#8B1A1A"/>
<circle cx="121.60" cy="103.20" r="1.65" fill="#8B1A1A"/>
<circle cx="123.20" cy="103.20" r="1.65" fill="#8B1A1A"/>
<circle cx="126.80" cy="103.20" r="1.65" fill="#8B1A1A"/>
<circle cx="128.00" cy="103.20" r="1.65" fill="#8B1A1A"/>
<circle cx="129.20" cy="103.20" r="1.65" fill="#8B1A1A"/>
<circle cx="130.40" cy="103.20" r="1.65" fill="#8B1A1A"/>
<circle cx="131.60" cy="103.20" r="1.65" fill="#8B1A1A"/>
<circle cx="122.40" cy="109.30" r="1.65" fill="#8B1A1A"/>
<circle cx="123.60" cy="109.30" r="1.65" fill="#8B1A1A"/>
<circle cx="124.80" cy="109.30" r="1.65" fill="#8B1A1A"/>
<circle cx="126.00" cy="109.30" r="1.65" fill="#8B1A1A"/>
<circle cx="127.20" cy="109.30" r="1.65" fill="#8B1A1A"/>
<circle cx="128.40" cy="109.30" r="1.65" fill="#8B1A1A"/>
<circle cx="129.60" cy="109.30" r="1.65" fill="#8B1A1A"/>
<circle cx="130.80" cy="109.30" r="1.65" fill="#8B1A1A"/>
<circle cx="136.30" cy="109.30" r="1.65" fill="#8B1A1A"/>
<circle cx="137.50" cy="109.30" r="1.65" fill="#8B1A1A"/>
<circle cx="120.60" cy="124.90" r="1.65" fill="#8B1A1A"/>
<circle cx="121.80" cy="124.90" r="1.65" fill="#8B1A1A"/>
<circle cx="123.00" cy="124.90" r="1.65" fill="#8B1A1A"/>
<circle cx="124.20" cy="124.90" r="1.65" fill="#8B1A1A"/>
<circle cx="125.40" cy="124.90" r="1.65" fill="#8B1A1A"/>
<circle cx="126.60" cy="124.90" r="1.65" fill="#8B1A1A"/>
<circle cx="127.80" cy="124.90" r="1.65" fill="#8B1A1A"/>
<circle cx="129.00" cy="124.90" r="1.65" fill="#8B1A1A"/>
<circle cx="130.20" cy="124.90" r="1.65" fill="#8B1A1A"/>
<circle cx="131.40" cy="124.90" r="1.65" fill="#8B1A1A"/>
<circle cx="132.60" cy="124.90" r="1.65" fill="#8B1A1A"/>
<circle cx="133.80" cy="124.90" r="1.65" fill="#8B1A1A"/>
<circle cx="135.00" cy="124.90" r="1.65" fill="#8B1A1A"/>
<circle cx="165.60" cy="46.20" r="1.65" fill="#BEBEBE"/>
<circle cx="165.60" cy="51.50" r="1.65" fill="#BEBEBE"/>
<circle cx="165.60" cy="53.20" r="1.65" fill="#BEBEBE"/>
<circle cx="165.60" cy="54.90" r="1.65" fill="#BEBEBE"/>
<circle cx="165.60" cy="56.60" r="1.65" fill="#BEBEBE"/>
<circle cx="165.60" cy="58.30" r="1.65" fill="#BEBEBE"/>
<circle cx="165.60" cy="60.00" r="1.65" fill="#BEBEBE"/>
<circle cx="165.60" cy="61.70" r="1.65" fill="#BEBEBE"/>
<circle cx="165.60" cy="63.40" r="1.65" fill="#BEBEBE"/>
<circle cx="165.60" cy="65.10" r="1.65" fill="#BEBEBE"/>
<circle cx="165.60" cy="66.80" r="1.65" fill="#BEBEBE"/>
<circle cx="165.60" cy="68.50" r="1.65" fill="#BEBEBE"/>
<circle cx="165.60" cy="70.20" r="1.65" fill="#BEBEBE"/>
<circle cx="165.60" cy="71.90" r="1.65" fill="#BEBEBE"/>
<circle cx="165.60" cy="73.60" r="1.65" fill="#BEBEBE"/>
<circle cx="165.60" cy="75.30" r="1.65" fill="#BEBEBE"/>
<circle cx="165.60" cy="77.00" r="1.65" fill="#BEBEBE"/>
<circle cx="165.60" cy="78.70" r="1.65" fill="#BEBEBE"/>
<circle cx="165.60" cy="80.40" r="1.65" fill="#BEBEBE"/>
<circle cx="165.60" cy="82.10" r="1.65" fill="#BEBEBE"/>
<circle cx="165.60" cy="83.80" r="1.65" fill="#BEBEBE"/>
<circle cx="165.60" cy="85.50" r="1.65" fill="#BEBEBE"/>
<circle cx="165.60" cy="87.20" r="1.65" fill="#BEBEBE"/>
<circle cx="165.60" cy="88.90" r="1.65" fill="#BEBEBE"/>
<circle cx="165.60" cy="90.60" r="1.65" fill="#BEBEBE"/>
<circle cx="165.60" cy="92.30" r="1.65" fill="#BEBEBE"/>
<circle cx="165.60" cy="94.00" r="1.65" fill="#BEBEBE"/>
<circle cx="165.60" cy="95.70" r="1.65" fill="#BEBEBE"/>
<circle cx="165.60" cy="97.40" r="1.65" fill="#BEBEBE"/>
<circle cx="165.60" cy="99.10" r="1.65" fill="#BEBEBE"/>
<circle cx="165.60" cy="103.30" r="1.65" fill="#BEBEBE"/>
<circle cx="165.60" cy="109.20" r="1.65" fill="#BEBEBE"/>
<circle cx="176.80" cy="64.00" r="1.65" fill="#BEBEBE"/>
<circle cx="176.80" cy="65.70" r="1.65" fill="#BEBEBE"/>
<circle cx="176.80" cy="67.40" r="1.65" fill="#BEBEBE"/>
<circle cx="176.80" cy="69.10" r="1.65" fill="#BEBEBE"/>
<circle cx="176.80" cy="70.80" r="1.65" fill="#BEBEBE"/>
<circle cx="176.80" cy="72.50" r="1.65" fill="#BEBEBE"/>
<circle cx="176.80" cy="74.20" r="1.65" fill="#BEBEBE"/>
<circle cx="176.80" cy="75.90" r="1.65" fill="#BEBEBE"/>
<circle cx="176.80" cy="77.60" r="1.65" fill="#BEBEBE"/>
<circle cx="176.80" cy="79.30" r="1.65" fill="#BEBEBE"/>
<circle cx="176.80" cy="81.00" r="1.65" fill="#BEBEBE"/>
<circle cx="176.80" cy="82.70" r="1.65" fill="#BEBEBE"/>
<circle cx="176.80" cy="84.40" r="1.65" fill="#BEBEBE"/>
<circle cx="176.80" cy="86.10" r="1.65" fill="#BEBEBE"/>
<circle cx="176.80" cy="87.80" r="1.65" fill="#BEBEBE"/>
<circle cx="176.80" cy="89.50" r="1.65" fill="#BEBEBE"/>
<circle cx="176.80" cy="91.20" r="1.65" fill="#BEBEBE"/>
<circle cx="176.80" cy="92.90" r="1.65" fill="#BEBEBE"/>
<circle cx="176.80" cy="94.60" r="1.65" fill="#BEBEBE"/>
<circle cx="176.80" cy="96.30" r="1.65" fill="#BEBEBE"/>
<circle cx="176.80" cy="98.00" r="1.65" fill="#BEBEBE"/>
<circle cx="176.80" cy="103.30" r="1.65" fill="#BEBEBE"/>
<circle cx="176.80" cy="109.20" r="1.65" fill="#BEBEBE"/>
<circle cx="176.80" cy="124.50" r="1.65" fill="#BEBEBE"/>
<circle cx="183.40" cy="65.60" r="1.65" fill="#BEBEBE"/>
<circle cx="183.40" cy="67.30" r="1.65" fill="#BEBEBE"/>
<circle cx="183.40" cy="69.00" r="1.65" fill="#BEBEBE"/>
<circle cx="183.40" cy="70.70" r="1.65" fill="#BEBEBE"/>
<circle cx="183.40" cy="72.40" r="1.65" fill="#BEBEBE"/>
<circle cx="183.40" cy="74.10" r="1.65" fill="#BEBEBE"/>
<circle cx="183.40" cy="75.80" r="1.65" fill="#BEBEBE"/>
<circle cx="183.40" cy="77.50" r="1.65" fill="#BEBEBE"/>
<circle cx="183.40" cy="79.20" r="1.65" fill="#BEBEBE"/>
<circle cx="183.40" cy="80.90" r="1.65" fill="#BEBEBE"/>
<circle cx="183.40" cy="82.60" r="1.65" fill="#BEBEBE"/>
<circle cx="183.40" cy="84.30" r="1.65" fill="#BEBEBE"/>
<circle cx="183.40" cy="86.00" r="1.65" fill="#BEBEBE"/>
<circle cx="183.40" cy="87.70" r="1.65" fill="#BEBEBE"/>
<circle cx="183.40" cy="89.40" r="1.65" fill="#BEBEBE"/>
<circle cx="183.40" cy="91.10" r="1.65" fill="#BEBEBE"/>
<circle cx="183.40" cy="92.80" r="1.65" fill="#BEBEBE"/>
<circle cx="183.40" cy="94.50" r="1.65" fill="#BEBEBE"/>
<circle cx="183.40" cy="96.20" r="1.65" fill="#BEBEBE"/>
<circle cx="183.40" cy="97.90" r="1.65" fill="#BEBEBE"/>
<circle cx="183.40" cy="103.30" r="1.65" fill="#BEBEBE"/>
<circle cx="183.40" cy="109.20" r="1.65" fill="#BEBEBE"/>
<circle cx="183.40" cy="124.50" r="1.65" fill="#BEBEBE"/>
<circle cx="187.00" cy="103.30" r="1.65" fill="#BEBEBE"/>
<circle cx="188.20" cy="103.30" r="1.65" fill="#BEBEBE"/>
<circle cx="189.40" cy="103.30" r="1.65" fill="#BEBEBE"/>
<circle cx="190.60" cy="103.30" r="1.65" fill="#BEBEBE"/>
<circle cx="191.80" cy="103.30" r="1.65" fill="#BEBEBE"/>
<circle cx="193.00" cy="103.30" r="1.65" fill="#BEBEBE"/>
<circle cx="194.20" cy="103.30" r="1.65" fill="#BEBEBE"/>
<circle cx="195.40" cy="103.30" r="1.65" fill="#BEBEBE"/>
<circle cx="196.60" cy="103.30" r="1.65" fill="#BEBEBE"/>
<circle cx="197.80" cy="103.30" r="1.65" fill="#BEBEBE"/>
<circle cx="199.00" cy="103.30" r="1.65" fill="#BEBEBE"/>
<circle cx="200.20" cy="103.30" r="1.65" fill="#BEBEBE"/>
<circle cx="201.40" cy="103.30" r="1.65" fill="#BEBEBE"/>
<circle cx="202.60" cy="103.30" r="1.65" fill="#BEBEBE"/>
<circle cx="203.80" cy="103.30" r="1.65" fill="#BEBEBE"/>
<circle cx="205.00" cy="103.30" r="1.65" fill="#BEBEBE"/>
<circle cx="206.20" cy="103.30" r="1.65" fill="#BEBEBE"/>
<circle cx="207.40" cy="103.30" r="1.65" fill="#BEBEBE"/>
<circle cx="208.60" cy="103.30" r="1.65" fill="#BEBEBE"/>
<circle cx="209.80" cy="103.30" r="1.65" fill="#BEBEBE"/>
<circle cx="187.00" cy="109.20" r="1.65" fill="#BEBEBE"/>
<circle cx="188.20" cy="109.20" r="1.65" fill="#BEBEBE"/>
<circle cx="189.40" cy="109.20" r="1.65" fill="#BEBEBE"/>
<circle cx="190.60" cy="109.20" r="1.65" fill="#BEBEBE"/>
<circle cx="191.80" cy="109.20" r="1.65" fill="#BEBEBE"/>
<circle cx="193.00" cy="109.20" r="1.65" fill="#BEBEBE"/>
<circle cx="194.20" cy="109.20" r="1.65" fill="#BEBEBE"/>
<circle cx="195.40" cy="109.20" r="1.65" fill="#BEBEBE"/>
<circle cx="196.60" cy="109.20" r="1.65" fill="#BEBEBE"/>
<circle cx="197.80" cy="109.20" r="1.65" fill="#BEBEBE"/>
<circle cx="199.00" cy="109.20" r="1.65" fill="#BEBEBE"/>
<circle cx="200.20" cy="109.20" r="1.65" fill="#BEBEBE"/>
<circle cx="201.40" cy="109.20" r="1.65" fill="#BEBEBE"/>
<circle cx="202.60" cy="109.20" r="1.65" fill="#BEBEBE"/>
<circle cx="203.80" cy="109.20" r="1.65" fill="#BEBEBE"/>
<circle cx="205.00" cy="109.20" r="1.65" fill="#BEBEBE"/>
<circle cx="206.20" cy="109.20" r="1.65" fill="#BEBEBE"/>
<circle cx="207.40" cy="109.20" r="1.65" fill="#BEBEBE"/>
<circle cx="208.60" cy="109.20" r="1.65" fill="#BEBEBE"/>
<circle cx="209.80" cy="109.20" r="1.65" fill="#BEBEBE"/>
<circle cx="211.00" cy="109.20" r="1.65" fill="#BEBEBE"/>
<circle cx="187.00" cy="124.50" r="1.65" fill="#BEBEBE"/>
<circle cx="188.20" cy="124.50" r="1.65" fill="#BEBEBE"/>
<circle cx="189.40" cy="124.50" r="1.65" fill="#BEBEBE"/>
<circle cx="190.60" cy="124.50" r="1.65" fill="#BEBEBE"/>
<circle cx="191.80" cy="124.50" r="1.65" fill="#BEBEBE"/>
<circle cx="193.00" cy="124.50" r="1.65" fill="#BEBEBE"/>
<circle cx="194.20" cy="124.50" r="1.65" fill="#BEBEBE"/>
<circle cx="195.40" cy="124.50" r="1.65" fill="#BEBEBE"/>
<circle cx="196.60" cy="124.50" r="1.65" fill="#BEBEBE"/>
<circle cx="197.80" cy="124.50" r="1.65" fill="#BEBEBE"/>
<circle cx="199.00" cy="124.50" r="1.65" fill="#BEBEBE"/>
<circle cx="200.20" cy="124.50" r="1.65" fill="#BEBEBE"/>
<circle cx="201.40" cy="124.50" r="1.65" fill="#BEBEBE"/>
<circle cx="202.60" cy="124.50" r="1.65" fill="#BEBEBE"/>
<circle cx="203.80" cy="124.50" r="1.65" fill="#BEBEBE"/>
<circle cx="205.00" cy="124.50" r="1.65" fill="#BEBEBE"/>
<circle cx="206.20" cy="124.50" r="1.65" fill="#BEBEBE"/>
<circle cx="207.40" cy="124.50" r="1.65" fill="#BEBEBE"/>
<circle cx="208.60" cy="124.50" r="1.65" fill="#BEBEBE"/>
<circle cx="209.80" cy="124.50" r="1.65" fill="#BEBEBE"/>
<circle cx="211.00" cy="124.50" r="1.65" fill="#BEBEBE"/>
<circle cx="212.20" cy="124.50" r="1.65" fill="#BEBEBE"/>
<circle cx="213.40" cy="124.50" r="1.65" fill="#BEBEBE"/>
<circle cx="214.60" cy="124.50" r="1.65" fill="#BEBEBE"/>
<circle cx="215.80" cy="124.50" r="1.65" fill="#BEBEBE"/>
<circle cx="217.00" cy="124.50" r="1.65" fill="#BEBEBE"/>
<circle cx="218.20" cy="124.50" r="1.65" fill="#BEBEBE"/>
<circle cx="219.40" cy="124.50" r="1.65" fill="#BEBEBE"/>
<circle cx="220.60" cy="124.50" r="1.65" fill="#BEBEBE"/>
<circle cx="201.60" cy="57.30" r="1.65" fill="#BEBEBE"/>
<circle cx="209.30" cy="55.30" r="1.65" fill="#BEBEBE"/>
<circle cx="195.00" cy="64.00" r="1.65" fill="#BEBEBE"/>
<circle cx="199.00" cy="61.30" r="1.65" fill="#BEBEBE"/>
<circle cx="206.40" cy="60.60" r="1.65" fill="#BEBEBE"/>
<circle cx="213.50" cy="58.90" r="1.65" fill="#BEBEBE"/>
<circle cx="222.00" cy="57.00" r="1.65" fill="#BEBEBE"/>
<circle cx="228.00" cy="58.00" r="1.65" fill="#BEBEBE"/>
<circle cx="230.50" cy="51.90" r="1.65" fill="#BEBEBE"/>
<circle cx="228.00" cy="52.40" r="1.65" fill="#BEBEBE"/>
<circle cx="238.00" cy="51.50" r="1.65" fill="#BEBEBE"/>
<circle cx="240.40" cy="47.40" r="1.65" fill="#BEBEBE"/>
<circle cx="244.50" cy="41.70" r="1.65" fill="#BEBEBE"/>
<circle cx="247.60" cy="43.20" r="1.65" fill="#BEBEBE"/>
<circle cx="252.50" cy="33.70" r="1.65" fill="#BEBEBE"/>
<circle cx="256.60" cy="29.90" r="1.65" fill="#BEBEBE"/>
<circle cx="216.40" cy="96.40" r="1.65" fill="#BEBEBE"/>
<circle cx="214.40" cy="92.50" r="1.65" fill="#BEBEBE"/>
<circle cx="230.50" cy="65.00" r="1.65" fill="#BEBEBE"/>
<circle cx="235.00" cy="62.00" r="1.65" fill="#BEBEBE"/>
<circle cx="188.00" cy="70.00" r="1.65" fill="#BEBEBE"/>
<circle cx="190.00" cy="68.50" r="1.65" fill="#BEBEBE"/>
<circle cx="203.00" cy="66.00" r="1.65" fill="#BEBEBE"/>
<circle cx="233.00" cy="54.00" r="1.65" fill="#BEBEBE"/>
<circle cx="236.00" cy="56.00" r="1.65" fill="#BEBEBE"/>
<circle cx="242.00" cy="50.00" r="1.65" fill="#BEBEBE"/>
<circle cx="225.00" cy="62.00" r="1.65" fill="#BEBEBE"/>
<circle cx="219.00" cy="68.00" r="1.65" fill="#BEBEBE"/>
<circle cx="217.00" cy="86.00" r="1.65" fill="#BEBEBE"/>
<circle cx="197.16" cy="84.96" r="1.7" fill="#BEBEBE"/>
<circle cx="195.49" cy="87.38" r="1.7" fill="#BEBEBE"/>
<circle cx="206.59" cy="76.28" r="1.7" fill="#BEBEBE"/>
<circle cx="199.12" cy="97.91" r="1.7" fill="#BEBEBE"/>
<circle cx="189.83" cy="76.85" r="1.7" fill="#BEBEBE"/>
<circle cx="209.54" cy="79.05" r="1.7" fill="#BEBEBE"/>
<circle cx="216.87" cy="78.69" r="1.7" fill="#BEBEBE"/>
<circle cx="210.13" cy="98.16" r="1.7" fill="#BEBEBE"/>
<circle cx="201.25" cy="81.54" r="1.7" fill="#BEBEBE"/>
<circle cx="224.99" cy="68.39" r="1.7" fill="#BEBEBE"/>
<circle cx="204.54" cy="98.10" r="1.7" fill="#BEBEBE"/>
<circle cx="187.55" cy="87.75" r="1.7" fill="#BEBEBE"/>
<circle cx="200.16" cy="82.39" r="1.7" fill="#BEBEBE"/>
<circle cx="215.92" cy="81.63" r="1.7" fill="#BEBEBE"/>
<circle cx="224.07" cy="68.29" r="1.7" fill="#BEBEBE"/>
<circle cx="199.56" cy="81.61" r="1.7" fill="#BEBEBE"/>
<circle cx="201.81" cy="95.21" r="1.7" fill="#BEBEBE"/>
<circle cx="213.06" cy="86.62" r="1.7" fill="#BEBEBE"/>
<circle cx="215.69" cy="75.38" r="1.7" fill="#BEBEBE"/>
<circle cx="215.79" cy="77.71" r="1.7" fill="#BEBEBE"/>
<circle cx="196.81" cy="91.22" r="1.7" fill="#BEBEBE"/>
<circle cx="212.36" cy="82.90" r="1.7" fill="#BEBEBE"/>
<circle cx="208.09" cy="91.69" r="1.7" fill="#BEBEBE"/>
<circle cx="231.66" cy="59.15" r="1.7" fill="#BEBEBE"/>
<circle cx="208.86" cy="99.26" r="1.7" fill="#BEBEBE"/>
<circle cx="213.33" cy="90.14" r="1.7" fill="#BEBEBE"/>
<circle cx="228.48" cy="60.38" r="1.7" fill="#BEBEBE"/>
<circle cx="224.23" cy="70.34" r="1.7" fill="#BEBEBE"/>
<circle cx="198.35" cy="79.69" r="1.7" fill="#BEBEBE"/>
<circle cx="226.28" cy="66.10" r="1.7" fill="#BEBEBE"/>
<circle cx="211.40" cy="70.35" r="1.7" fill="#BEBEBE"/>
<circle cx="225.98" cy="67.05" r="1.7" fill="#BEBEBE"/>
<circle cx="209.53" cy="83.25" r="1.7" fill="#BEBEBE"/>
<circle cx="208.31" cy="80.06" r="1.7" fill="#BEBEBE"/>
<circle cx="207.61" cy="84.05" r="1.7" fill="#BEBEBE"/>
<circle cx="215.89" cy="76.29" r="1.7" fill="#BEBEBE"/>
<circle cx="188.88" cy="80.71" r="1.7" fill="#BEBEBE"/>
<circle cx="212.48" cy="74.71" r="1.7" fill="#BEBEBE"/>
<circle cx="213.07" cy="94.37" r="1.7" fill="#BEBEBE"/>
<circle cx="211.25" cy="76.05" r="1.7" fill="#BEBEBE"/>
<circle cx="191.67" cy="91.02" r="1.7" fill="#BEBEBE"/>
<circle cx="190.47" cy="84.76" r="1.7" fill="#BEBEBE"/>
<circle cx="190.46" cy="85.22" r="1.7" fill="#BEBEBE"/>
<circle cx="210.07" cy="80.30" r="1.7" fill="#BEBEBE"/>
<circle cx="234.58" cy="60.18" r="1.7" fill="#BEBEBE"/>
<circle cx="205.55" cy="77.29" r="1.7" fill="#BEBEBE"/>
<circle cx="187.83" cy="98.88" r="1.7" fill="#BEBEBE"/>
<circle cx="215.09" cy="72.79" r="1.7" fill="#BEBEBE"/>
<circle cx="216.49" cy="70.66" r="1.7" fill="#BEBEBE"/>
<circle cx="212.57" cy="75.94" r="1.7" fill="#BEBEBE"/>
<circle cx="219.02" cy="70.29" r="1.7" fill="#BEBEBE"/>
<circle cx="230.78" cy="62.69" r="1.7" fill="#BEBEBE"/>
<circle cx="216.29" cy="72.27" r="1.7" fill="#BEBEBE"/>
<circle cx="218.01" cy="68.35" r="1.7" fill="#BEBEBE"/>
<circle cx="202.27" cy="90.04" r="1.7" fill="#BEBEBE"/>
<circle cx="203.24" cy="86.11" r="1.7" fill="#BEBEBE"/>
<circle cx="212.05" cy="96.41" r="1.7" fill="#BEBEBE"/>
<circle cx="211.52" cy="93.80" r="1.7" fill="#BEBEBE"/>
<circle cx="232.77" cy="60.19" r="1.7" fill="#BEBEBE"/>
<circle cx="209.89" cy="83.74" r="1.7" fill="#BEBEBE"/>
<circle cx="201.41" cy="95.08" r="1.7" fill="#BEBEBE"/>
<circle cx="190.56" cy="85.43" r="1.7" fill="#BEBEBE"/>
<circle cx="189.75" cy="91.88" r="1.7" fill="#BEBEBE"/>
<circle cx="218.93" cy="68.13" r="1.7" fill="#BEBEBE"/>
<circle cx="232.93" cy="60.47" r="1.7" fill="#BEBEBE"/>
<circle cx="208.02" cy="82.91" r="1.7" fill="#BEBEBE"/>
<circle cx="199.56" cy="78.55" r="1.7" fill="#BEBEBE"/>
<circle cx="232.24" cy="59.11" r="1.7" fill="#BEBEBE"/>
<circle cx="237.71" cy="57.77" r="1.7" fill="#BEBEBE"/>
<circle cx="213.68" cy="93.16" r="1.7" fill="#BEBEBE"/>
<circle cx="202.14" cy="94.49" r="1.7" fill="#BEBEBE"/>
<circle cx="206.09" cy="96.85" r="1.7" fill="#BEBEBE"/>
<circle cx="205.49" cy="74.14" r="1.7" fill="#BEBEBE"/>
<circle cx="200.86" cy="87.57" r="1.7" fill="#BEBEBE"/>
<circle cx="197.16" cy="89.66" r="1.7" fill="#BEBEBE"/>
<circle cx="219.66" cy="74.68" r="1.7" fill="#BEBEBE"/>
<circle cx="189.32" cy="77.06" r="1.7" fill="#BEBEBE"/>
<circle cx="192.75" cy="83.19" r="1.7" fill="#BEBEBE"/>
<circle cx="194.63" cy="80.03" r="1.7" fill="#BEBEBE"/>
<circle cx="196.66" cy="96.72" r="1.7" fill="#BEBEBE"/>
<circle cx="205.41" cy="92.16" r="1.7" fill="#BEBEBE"/>
<circle cx="234.97" cy="58.87" r="1.7" fill="#BEBEBE"/>
<circle cx="214.29" cy="78.10" r="1.7" fill="#BEBEBE"/>
<circle cx="196.36" cy="78.08" r="1.7" fill="#BEBEBE"/>
<circle cx="214.87" cy="70.34" r="1.7" fill="#BEBEBE"/>
<circle cx="200.45" cy="93.50" r="1.7" fill="#BEBEBE"/>
<circle cx="188.32" cy="96.80" r="1.7" fill="#BEBEBE"/>
<circle cx="213.87" cy="89.81" r="1.7" fill="#BEBEBE"/>
<circle cx="199.88" cy="87.93" r="1.7" fill="#BEBEBE"/>
<circle cx="235.59" cy="57.37" r="1.7" fill="#BEBEBE"/>
<circle cx="200.77" cy="81.00" r="1.7" fill="#BEBEBE"/>
<circle cx="200.72" cy="87.18" r="1.7" fill="#BEBEBE"/>
<circle cx="205.38" cy="98.30" r="1.7" fill="#BEBEBE"/>
<circle cx="213.41" cy="76.33" r="1.7" fill="#BEBEBE"/>
<circle cx="198.25" cy="82.19" r="1.7" fill="#BEBEBE"/>
<circle cx="192.49" cy="86.43" r="1.7" fill="#BEBEBE"/>
<circle cx="219.38" cy="73.48" r="1.7" fill="#BEBEBE"/>
<circle cx="201.11" cy="91.98" r="1.7" fill="#BEBEBE"/>
<circle cx="208.67" cy="89.48" r="1.7" fill="#BEBEBE"/>
<circle cx="205.84" cy="80.80" r="1.7" fill="#BEBEBE"/>
<circle cx="220.16" cy="74.50" r="1.7" fill="#BEBEBE"/>
<circle cx="206.60" cy="92.26" r="1.7" fill="#BEBEBE"/>
<circle cx="220.94" cy="66.91" r="1.7" fill="#BEBEBE"/>
<circle cx="194.02" cy="84.85" r="1.7" fill="#BEBEBE"/>
<circle cx="189.74" cy="91.27" r="1.7" fill="#BEBEBE"/>
<circle cx="199.61" cy="94.34" r="1.7" fill="#BEBEBE"/>
<circle cx="208.80" cy="76.44" r="1.7" fill="#BEBEBE"/>
<circle cx="232.35" cy="60.95" r="1.7" fill="#BEBEBE"/>
<circle cx="196.97" cy="96.88" r="1.7" fill="#BEBEBE"/>
<circle cx="212.05" cy="90.65" r="1.7" fill="#BEBEBE"/>
<circle cx="192.95" cy="78.87" r="1.7" fill="#BEBEBE"/>
<circle cx="207.84" cy="96.12" r="1.7" fill="#BEBEBE"/>
<circle cx="191.60" cy="82.14" r="1.7" fill="#BEBEBE"/>
<circle cx="207.04" cy="83.85" r="1.7" fill="#BEBEBE"/>
<circle cx="221.62" cy="70.75" r="1.7" fill="#BEBEBE"/>
<circle cx="215.70" cy="84.55" r="1.7" fill="#BEBEBE"/>
<circle cx="207.14" cy="98.31" r="1.7" fill="#BEBEBE"/>
<circle cx="190.58" cy="91.82" r="1.7" fill="#BEBEBE"/>
<circle cx="211.68" cy="87.97" r="1.7" fill="#BEBEBE"/>
<circle cx="195.30" cy="80.47" r="1.7" fill="#BEBEBE"/>
<circle cx="208.68" cy="87.80" r="1.7" fill="#BEBEBE"/>
<circle cx="222.14" cy="66.39" r="1.7" fill="#BEBEBE"/>
<circle cx="216.89" cy="72.81" r="1.7" fill="#BEBEBE"/>
<circle cx="208.05" cy="97.70" r="1.7" fill="#BEBEBE"/>
<circle cx="195.05" cy="77.18" r="1.7" fill="#BEBEBE"/>
<circle cx="227.37" cy="61.33" r="1.7" fill="#BEBEBE"/>
<circle cx="204.83" cy="73.62" r="1.7" fill="#BEBEBE"/>
<circle cx="208.77" cy="71.20" r="1.7" fill="#BEBEBE"/>
<circle cx="198.51" cy="95.21" r="1.7" fill="#BEBEBE"/>
<circle cx="211.81" cy="91.92" r="1.7" fill="#BEBEBE"/>
<circle cx="207.09" cy="95.61" r="1.7" fill="#BEBEBE"/>
<circle cx="221.53" cy="65.42" r="1.7" fill="#BEBEBE"/>
<circle cx="206.60" cy="96.64" r="1.7" fill="#BEBEBE"/>
<circle cx="191.27" cy="78.68" r="1.7" fill="#BEBEBE"/>
<circle cx="209.79" cy="90.58" r="1.7" fill="#BEBEBE"/>
<circle cx="197.53" cy="93.51" r="1.7" fill="#BEBEBE"/>
<circle cx="216.22" cy="77.42" r="1.7" fill="#BEBEBE"/>
<circle cx="209.30" cy="79.83" r="1.7" fill="#BEBEBE"/>
<circle cx="202.29" cy="92.28" r="1.7" fill="#BEBEBE"/>
<circle cx="195.66" cy="84.32" r="1.7" fill="#BEBEBE"/>
<circle cx="194.59" cy="85.82" r="1.7" fill="#BEBEBE"/>
<circle cx="187.69" cy="82.38" r="1.7" fill="#BEBEBE"/>
<circle cx="189.64" cy="91.48" r="1.7" fill="#BEBEBE"/>
<circle cx="221.49" cy="69.11" r="1.7" fill="#BEBEBE"/>
<circle cx="205.38" cy="79.59" r="1.7" fill="#BEBEBE"/>
<circle cx="199.26" cy="89.92" r="1.7" fill="#BEBEBE"/>
<circle cx="198.79" cy="92.03" r="1.7" fill="#BEBEBE"/>
<circle cx="189.15" cy="89.21" r="1.7" fill="#BEBEBE"/>
<circle cx="219.09" cy="71.87" r="1.7" fill="#BEBEBE"/>
<circle cx="215.15" cy="80.52" r="1.7" fill="#BEBEBE"/>
<circle cx="199.72" cy="93.33" r="1.7" fill="#BEBEBE"/>
<circle cx="212.01" cy="84.83" r="1.7" fill="#BEBEBE"/>
<circle cx="197.99" cy="87.28" r="1.7" fill="#BEBEBE"/>
<circle cx="215.38" cy="73.63" r="1.7" fill="#BEBEBE"/>
<circle cx="198.18" cy="85.80" r="1.7" fill="#BEBEBE"/>
<circle cx="188.20" cy="93.14" r="1.7" fill="#BEBEBE"/>
<circle cx="196.34" cy="82.52" r="1.7" fill="#BEBEBE"/>
<circle cx="206.68" cy="94.76" r="1.7" fill="#BEBEBE"/>
<circle cx="195.81" cy="89.19" r="1.7" fill="#BEBEBE"/>
<circle cx="213.22" cy="91.23" r="1.7" fill="#BEBEBE"/>
<circle cx="217.92" cy="76.81" r="1.7" fill="#BEBEBE"/>
<circle cx="188.65" cy="95.22" r="1.7" fill="#BEBEBE"/>
<circle cx="199.06" cy="80.37" r="1.7" fill="#BEBEBE"/>
<circle cx="213.66" cy="82.85" r="1.7" fill="#BEBEBE"/>
<circle cx="193.12" cy="80.64" r="1.7" fill="#BEBEBE"/>
<circle cx="212.15" cy="80.38" r="1.7" fill="#BEBEBE"/>
<circle cx="212.92" cy="71.87" r="1.7" fill="#BEBEBE"/>
<circle cx="200.45" cy="83.31" r="1.7" fill="#BEBEBE"/>
<circle cx="195.16" cy="95.22" r="1.7" fill="#BEBEBE"/>
<circle cx="200.38" cy="98.80" r="1.7" fill="#BEBEBE"/>
<circle cx="200.48" cy="96.22" r="1.7" fill="#BEBEBE"/>
<circle cx="199.36" cy="84.34" r="1.7" fill="#BEBEBE"/>
<circle cx="197.59" cy="90.54" r="1.7" fill="#BEBEBE"/>
<circle cx="196.29" cy="77.01" r="1.7" fill="#BEBEBE"/>
<circle cx="193.21" cy="89.62" r="1.7" fill="#BEBEBE"/>
<circle cx="187.62" cy="92.58" r="1.7" fill="#BEBEBE"/>
<circle cx="214.63" cy="81.95" r="1.7" fill="#BEBEBE"/>
<circle cx="233.31" cy="58.16" r="1.7" fill="#BEBEBE"/>
<circle cx="228.67" cy="60.29" r="1.7" fill="#BEBEBE"/>
<circle cx="215.59" cy="74.41" r="1.7" fill="#BEBEBE"/>
<circle cx="209.50" cy="81.55" r="1.7" fill="#BEBEBE"/>
<circle cx="210.76" cy="93.81" r="1.7" fill="#BEBEBE"/>
<circle cx="197.21" cy="96.77" r="1.7" fill="#BEBEBE"/>
<circle cx="211.35" cy="85.93" r="1.7" fill="#BEBEBE"/>
<circle cx="205.25" cy="88.86" r="1.7" fill="#BEBEBE"/>
<circle cx="193.16" cy="91.39" r="1.7" fill="#BEBEBE"/>
<circle cx="204.44" cy="82.28" r="1.7" fill="#BEBEBE"/>
<circle cx="207.32" cy="78.16" r="1.7" fill="#BEBEBE"/>
<circle cx="216.17" cy="83.33" r="1.7" fill="#BEBEBE"/>
<circle cx="209.51" cy="95.44" r="1.7" fill="#BEBEBE"/>
<circle cx="203.02" cy="95.11" r="1.7" fill="#BEBEBE"/>
<circle cx="188.99" cy="85.22" r="1.7" fill="#BEBEBE"/>
<circle cx="202.27" cy="88.82" r="1.7" fill="#BEBEBE"/>
<circle cx="223.72" cy="66.24" r="1.7" fill="#BEBEBE"/>
<circle cx="188.30" cy="92.63" r="1.7" fill="#BEBEBE"/>
<circle cx="194.52" cy="97.71" r="1.7" fill="#BEBEBE"/>
<circle cx="207.14" cy="86.67" r="1.7" fill="#BEBEBE"/>
<circle cx="194.97" cy="89.67" r="1.7" fill="#BEBEBE"/>
<circle cx="200.91" cy="90.03" r="1.7" fill="#BEBEBE"/>
<circle cx="228.80" cy="63.78" r="1.7" fill="#BEBEBE"/>
<circle cx="212.34" cy="86.16" r="1.7" fill="#BEBEBE"/>
<circle cx="207.00" cy="75.03" r="1.7" fill="#BEBEBE"/>
<circle cx="233.83" cy="58.55" r="1.7" fill="#BEBEBE"/>
<circle cx="198.59" cy="83.93" r="1.7" fill="#BEBEBE"/>
<circle cx="200.14" cy="76.40" r="1.7" fill="#BEBEBE"/>
<circle cx="195.33" cy="90.39" r="1.7" fill="#BEBEBE"/>
<circle cx="199.75" cy="80.95" r="1.7" fill="#BEBEBE"/>
<circle cx="236.19" cy="57.26" r="1.7" fill="#BEBEBE"/>
<circle cx="197.84" cy="87.88" r="1.7" fill="#BEBEBE"/>
<circle cx="209.21" cy="84.67" r="1.7" fill="#BEBEBE"/>
<circle cx="188.18" cy="97.03" r="1.7" fill="#BEBEBE"/>
<circle cx="200.09" cy="75.40" r="1.7" fill="#BEBEBE"/>
<circle cx="199.72" cy="97.62" r="1.7" fill="#BEBEBE"/>
<circle cx="206.03" cy="84.19" r="1.7" fill="#BEBEBE"/>
<circle cx="196.25" cy="91.51" r="1.7" fill="#BEBEBE"/>
<circle cx="187.51" cy="81.39" r="1.7" fill="#BEBEBE"/>
<circle cx="201.42" cy="74.35" r="1.7" fill="#BEBEBE"/>
<circle cx="194.01" cy="97.58" r="1.7" fill="#BEBEBE"/>
<circle cx="215.70" cy="80.19" r="1.7" fill="#BEBEBE"/>
<circle cx="219.12" cy="74.27" r="1.7" fill="#BEBEBE"/>
<circle cx="209.58" cy="94.28" r="1.7" fill="#BEBEBE"/>
<circle cx="190.29" cy="95.49" r="1.7" fill="#BEBEBE"/>
<circle cx="210.18" cy="77.80" r="1.7" fill="#BEBEBE"/>
<circle cx="191.61" cy="94.70" r="1.7" fill="#BEBEBE"/>
<circle cx="224.87" cy="65.23" r="1.7" fill="#BEBEBE"/>
<circle cx="215.79" cy="84.59" r="1.7" fill="#BEBEBE"/>
<circle cx="191.46" cy="87.52" r="1.7" fill="#BEBEBE"/>
<circle cx="209.59" cy="97.64" r="1.7" fill="#BEBEBE"/>
<circle cx="209.43" cy="72.81" r="1.7" fill="#BEBEBE"/>
<circle cx="191.70" cy="80.23" r="1.7" fill="#BEBEBE"/>
<circle cx="206.71" cy="85.83" r="1.7" fill="#BEBEBE"/>
<circle cx="207.46" cy="97.68" r="1.7" fill="#BEBEBE"/>
<circle cx="198.10" cy="88.67" r="1.7" fill="#BEBEBE"/>
<circle cx="188.31" cy="78.05" r="1.7" fill="#BEBEBE"/>
<circle cx="226.68" cy="66.00" r="1.7" fill="#BEBEBE"/>
<circle cx="196.85" cy="85.44" r="1.7" fill="#BEBEBE"/>
<circle cx="201.82" cy="86.14" r="1.7" fill="#BEBEBE"/>
<circle cx="240.81" cy="54.39" r="1.7" fill="#BEBEBE"/>
<circle cx="193.67" cy="96.40" r="1.7" fill="#BEBEBE"/>
<circle cx="205.61" cy="77.47" r="1.7" fill="#BEBEBE"/>
<circle cx="201.70" cy="89.84" r="1.7" fill="#BEBEBE"/>
<circle cx="226.22" cy="64.03" r="1.7" fill="#BEBEBE"/>
<circle cx="192.59" cy="80.41" r="1.7" fill="#BEBEBE"/>
<circle cx="197.83" cy="85.99" r="1.7" fill="#BEBEBE"/>
<circle cx="221.73" cy="64.56" r="1.7" fill="#BEBEBE"/>
<circle cx="189.17" cy="86.75" r="1.7" fill="#BEBEBE"/>
<circle cx="223.28" cy="65.47" r="1.7" fill="#BEBEBE"/>
<circle cx="204.53" cy="86.60" r="1.7" fill="#BEBEBE"/>
<circle cx="190.51" cy="81.46" r="1.7" fill="#BEBEBE"/>
<circle cx="193.96" cy="76.76" r="1.7" fill="#BEBEBE"/>
<circle cx="215.65" cy="70.15" r="1.7" fill="#BEBEBE"/>
<circle cx="223.60" cy="63.68" r="1.7" fill="#BEBEBE"/>
<circle cx="204.68" cy="75.39" r="1.7" fill="#BEBEBE"/>
<circle cx="207.57" cy="74.01" r="1.7" fill="#BEBEBE"/>
<circle cx="212.11" cy="82.73" r="1.7" fill="#BEBEBE"/>
<circle cx="220.94" cy="67.27" r="1.7" fill="#BEBEBE"/>
<circle cx="191.20" cy="87.96" r="1.7" fill="#BEBEBE"/>
<circle cx="192.58" cy="97.73" r="1.7" fill="#BEBEBE"/>
<circle cx="196.36" cy="77.91" r="1.7" fill="#BEBEBE"/>
<circle cx="232.49" cy="61.26" r="1.7" fill="#BEBEBE"/>
<circle cx="196.88" cy="88.61" r="1.7" fill="#BEBEBE"/>
<circle cx="201.52" cy="87.50" r="1.7" fill="#BEBEBE"/>
<circle cx="220.12" cy="66.75" r="1.7" fill="#BEBEBE"/>
<circle cx="212.62" cy="86.37" r="1.7" fill="#BEBEBE"/>
<circle cx="197.96" cy="97.48" r="1.7" fill="#BEBEBE"/>
<circle cx="193.28" cy="90.84" r="1.7" fill="#BEBEBE"/>
<circle cx="201.28" cy="75.04" r="1.7" fill="#BEBEBE"/>
<circle cx="196.83" cy="87.68" r="1.7" fill="#BEBEBE"/>
<circle cx="210.09" cy="91.21" r="1.7" fill="#BEBEBE"/>
<circle cx="188.06" cy="88.54" r="1.7" fill="#BEBEBE"/>
<circle cx="199.77" cy="95.25" r="1.7" fill="#BEBEBE"/>
<circle cx="209.67" cy="82.68" r="1.7" fill="#BEBEBE"/>
<circle cx="200.70" cy="95.71" r="1.7" fill="#BEBEBE"/>
<circle cx="222.92" cy="70.97" r="1.7" fill="#BEBEBE"/>
<circle cx="232.84" cy="59.63" r="1.7" fill="#BEBEBE"/>
<circle cx="216.61" cy="68.94" r="1.7" fill="#BEBEBE"/>
<circle cx="234.96" cy="59.88" r="1.7" fill="#BEBEBE"/>
<circle cx="190.09" cy="93.44" r="1.7" fill="#BEBEBE"/>
<circle cx="217.08" cy="74.42" r="1.7" fill="#BEBEBE"/>
<circle cx="205.82" cy="89.44" r="1.7" fill="#BEBEBE"/>
<circle cx="227.52" cy="62.61" r="1.7" fill="#BEBEBE"/>
<circle cx="212.45" cy="71.94" r="1.7" fill="#BEBEBE"/>
<circle cx="204.23" cy="82.52" r="1.7" fill="#BEBEBE"/>
<circle cx="204.32" cy="93.61" r="1.7" fill="#BEBEBE"/>
<circle cx="215.50" cy="75.72" r="1.7" fill="#BEBEBE"/>
<circle cx="209.99" cy="93.91" r="1.7" fill="#BEBEBE"/>
<circle cx="194.24" cy="95.47" r="1.7" fill="#BEBEBE"/>
<circle cx="189.38" cy="80.62" r="1.7" fill="#BEBEBE"/>
<circle cx="210.85" cy="86.43" r="1.7" fill="#BEBEBE"/>
<circle cx="199.51" cy="87.69" r="1.7" fill="#BEBEBE"/>
<circle cx="210.91" cy="70.97" r="1.7" fill="#BEBEBE"/>
<circle cx="205.27" cy="87.11" r="1.7" fill="#BEBEBE"/>
<circle cx="197.59" cy="78.60" r="1.7" fill="#BEBEBE"/>
<circle cx="214.52" cy="84.18" r="1.7" fill="#BEBEBE"/>
<circle cx="195.24" cy="97.41" r="1.7" fill="#BEBEBE"/>
<circle cx="230.44" cy="61.92" r="1.7" fill="#BEBEBE"/>
<circle cx="207.03" cy="95.91" r="1.7" fill="#BEBEBE"/>
<circle cx="210.39" cy="81.14" r="1.7" fill="#BEBEBE"/>
<circle cx="210.19" cy="77.06" r="1.7" fill="#BEBEBE"/>
<circle cx="198.41" cy="80.37" r="1.7" fill="#BEBEBE"/>
<circle cx="202.22" cy="91.98" r="1.7" fill="#BEBEBE"/>
<circle cx="237.46" cy="55.91" r="1.7" fill="#BEBEBE"/>
<circle cx="205.65" cy="88.69" r="1.7" fill="#BEBEBE"/>
<circle cx="220.88" cy="67.42" r="1.7" fill="#BEBEBE"/>
<circle cx="204.55" cy="76.66" r="1.7" fill="#BEBEBE"/>
<circle cx="195.73" cy="93.17" r="1.7" fill="#BEBEBE"/>
<circle cx="206.64" cy="82.41" r="1.7" fill="#BEBEBE"/>
<circle cx="205.86" cy="96.87" r="1.7" fill="#BEBEBE"/>
<circle cx="217.17" cy="71.98" r="1.7" fill="#BEBEBE"/>
<circle cx="213.40" cy="76.25" r="1.7" fill="#BEBEBE"/>
<circle cx="207.13" cy="94.59" r="1.7" fill="#BEBEBE"/>
<circle cx="206.39" cy="77.92" r="1.7" fill="#BEBEBE"/>
<circle cx="208.40" cy="81.46" r="1.7" fill="#BEBEBE"/>
<circle cx="207.09" cy="95.41" r="1.7" fill="#BEBEBE"/>
<circle cx="205.45" cy="91.20" r="1.7" fill="#BEBEBE"/>
<circle cx="196.15" cy="85.17" r="1.7" fill="#BEBEBE"/>
<circle cx="190.71" cy="90.48" r="1.7" fill="#BEBEBE"/>
<circle cx="192.34" cy="95.96" r="1.7" fill="#BEBEBE"/>
<circle cx="197.27" cy="81.46" r="1.7" fill="#BEBEBE"/>
<circle cx="206.97" cy="98.44" r="1.7" fill="#BEBEBE"/>
<circle cx="210.96" cy="71.44" r="1.7" fill="#BEBEBE"/>
<circle cx="206.45" cy="87.34" r="1.7" fill="#BEBEBE"/>
<circle cx="190.68" cy="77.84" r="1.7" fill="#BEBEBE"/>
<circle cx="211.24" cy="89.80" r="1.7" fill="#BEBEBE"/>
<circle cx="218.59" cy="74.23" r="1.7" fill="#BEBEBE"/>
<circle cx="208.20" cy="85.20" r="1.7" fill="#BEBEBE"/>
<circle cx="187.75" cy="90.31" r="1.7" fill="#BEBEBE"/>
<circle cx="187.80" cy="90.13" r="1.7" fill="#BEBEBE"/>
<circle cx="209.86" cy="84.22" r="1.7" fill="#BEBEBE"/>
<circle cx="209.57" cy="97.56" r="1.7" fill="#BEBEBE"/>
<circle cx="220.72" cy="68.02" r="1.7" fill="#BEBEBE"/>
<circle cx="204.69" cy="88.27" r="1.7" fill="#BEBEBE"/>
<circle cx="201.66" cy="81.54" r="1.7" fill="#BEBEBE"/>
<circle cx="196.06" cy="92.87" r="1.7" fill="#BEBEBE"/>
<circle cx="237.34" cy="57.31" r="1.7" fill="#BEBEBE"/>
<circle cx="195.55" cy="88.43" r="1.7" fill="#BEBEBE"/>
<circle cx="219.17" cy="73.11" r="1.7" fill="#BEBEBE"/>
<circle cx="237.90" cy="57.51" r="1.7" fill="#BEBEBE"/>
<circle cx="226.72" cy="65.28" r="1.7" fill="#BEBEBE"/>
<circle cx="226.48" cy="63.35" r="1.7" fill="#BEBEBE"/>
<circle cx="222.83" cy="66.26" r="1.7" fill="#BEBEBE"/>
<circle cx="207.51" cy="95.73" r="1.7" fill="#BEBEBE"/>
<circle cx="210.54" cy="79.74" r="1.7" fill="#BEBEBE"/>
<circle cx="212.14" cy="93.14" r="1.7" fill="#BEBEBE"/>
<circle cx="209.17" cy="97.11" r="1.7" fill="#BEBEBE"/>
<circle cx="221.89" cy="70.78" r="1.7" fill="#BEBEBE"/>
<circle cx="200.95" cy="90.91" r="1.7" fill="#BEBEBE"/>
<circle cx="192.19" cy="92.58" r="1.7" fill="#BEBEBE"/>
<circle cx="212.59" cy="75.03" r="1.7" fill="#BEBEBE"/>
<circle cx="206.03" cy="96.31" r="1.7" fill="#BEBEBE"/>
<circle cx="231.49" cy="59.01" r="1.7" fill="#BEBEBE"/>
<circle cx="197.54" cy="76.46" r="1.7" fill="#BEBEBE"/>
<circle cx="192.81" cy="95.44" r="1.7" fill="#BEBEBE"/>
<circle cx="227.72" cy="64.15" r="1.7" fill="#BEBEBE"/>
<circle cx="212.52" cy="91.27" r="1.7" fill="#BEBEBE"/>
<circle cx="196.17" cy="84.89" r="1.7" fill="#BEBEBE"/>
<circle cx="217.42" cy="72.10" r="1.7" fill="#BEBEBE"/>
<circle cx="212.89" cy="76.14" r="1.7" fill="#BEBEBE"/>
<circle cx="195.08" cy="80.23" r="1.7" fill="#BEBEBE"/>
<circle cx="217.06" cy="67.91" r="1.7" fill="#BEBEBE"/>
<circle cx="207.07" cy="97.08" r="1.7" fill="#BEBEBE"/>
<circle cx="206.96" cy="81.26" r="1.7" fill="#BEBEBE"/>
<circle cx="203.72" cy="97.99" r="1.7" fill="#BEBEBE"/>
<circle cx="200.69" cy="98.16" r="1.7" fill="#BEBEBE"/>
<circle cx="209.95" cy="94.93" r="1.7" fill="#BEBEBE"/>
<circle cx="197.18" cy="91.70" r="1.7" fill="#BEBEBE"/>
<circle cx="192.99" cy="96.28" r="1.7" fill="#BEBEBE"/>
<circle cx="201.94" cy="93.91" r="1.7" fill="#BEBEBE"/>
<circle cx="215.34" cy="68.35" r="1.7" fill="#BEBEBE"/>
<circle cx="193.47" cy="87.75" r="1.7" fill="#BEBEBE"/>
<circle cx="207.17" cy="83.88" r="1.7" fill="#BEBEBE"/>
<circle cx="206.89" cy="94.81" r="1.7" fill="#BEBEBE"/>
<circle cx="196.14" cy="76.58" r="1.7" fill="#BEBEBE"/>
<circle cx="209.79" cy="78.45" r="1.7" fill="#BEBEBE"/>
<circle cx="228.37" cy="64.60" r="1.7" fill="#BEBEBE"/>
<circle cx="228.82" cy="63.70" r="1.7" fill="#BEBEBE"/>
<circle cx="211.94" cy="76.59" r="1.7" fill="#BEBEBE"/>
<circle cx="192.30" cy="83.28" r="1.7" fill="#BEBEBE"/>
<circle cx="195.96" cy="82.20" r="1.7" fill="#BEBEBE"/>
<circle cx="190.65" cy="76.77" r="1.7" fill="#BEBEBE"/>
<circle cx="223.72" cy="63.72" r="1.7" fill="#BEBEBE"/>
<circle cx="209.14" cy="85.10" r="1.7" fill="#BEBEBE"/>
<circle cx="191.30" cy="78.42" r="1.7" fill="#BEBEBE"/>
<circle cx="192.89" cy="76.56" r="1.7" fill="#BEBEBE"/>
<circle cx="189.94" cy="86.33" r="1.7" fill="#BEBEBE"/>
<circle cx="206.29" cy="85.42" r="1.7" fill="#BEBEBE"/>
<circle cx="207.30" cy="86.19" r="1.7" fill="#BEBEBE"/>
<circle cx="202.45" cy="98.40" r="1.7" fill="#BEBEBE"/>
<circle cx="192.44" cy="86.83" r="1.7" fill="#BEBEBE"/>
<circle cx="195.89" cy="93.53" r="1.7" fill="#BEBEBE"/>
<circle cx="208.05" cy="84.32" r="1.7" fill="#BEBEBE"/>
<circle cx="206.60" cy="93.65" r="1.7" fill="#BEBEBE"/>
<circle cx="198.11" cy="77.31" r="1.7" fill="#BEBEBE"/>
<circle cx="213.58" cy="68.99" r="1.7" fill="#BEBEBE"/>
<circle cx="207.68" cy="76.93" r="1.7" fill="#BEBEBE"/>
<circle cx="202.48" cy="76.58" r="1.7" fill="#BEBEBE"/>
<circle cx="214.71" cy="72.72" r="1.7" fill="#BEBEBE"/>
<circle cx="200.94" cy="95.99" r="1.7" fill="#BEBEBE"/>
<circle cx="215.08" cy="70.72" r="1.7" fill="#BEBEBE"/>
<circle cx="213.56" cy="87.06" r="1.7" fill="#BEBEBE"/>
<circle cx="206.91" cy="88.14" r="1.7" fill="#BEBEBE"/>
<circle cx="227.10" cy="63.02" r="1.7" fill="#BEBEBE"/>
<circle cx="200.13" cy="89.50" r="1.7" fill="#BEBEBE"/>
<circle cx="213.83" cy="70.45" r="1.7" fill="#BEBEBE"/>
<circle cx="202.07" cy="75.86" r="1.7" fill="#BEBEBE"/>
<circle cx="211.22" cy="72.83" r="1.7" fill="#BEBEBE"/>
<circle cx="204.46" cy="98.22" r="1.7" fill="#BEBEBE"/>
<circle cx="202.67" cy="95.82" r="1.7" fill="#BEBEBE"/>
<circle cx="193.94" cy="94.94" r="1.7" fill="#BEBEBE"/>
<circle cx="211.23" cy="71.74" r="1.7" fill="#BEBEBE"/>
<circle cx="207.58" cy="88.44" r="1.7" fill="#BEBEBE"/>
<circle cx="205.48" cy="84.69" r="1.7" fill="#BEBEBE"/>
<circle cx="188.60" cy="84.45" r="1.7" fill="#BEBEBE"/>
<circle cx="220.49" cy="66.99" r="1.7" fill="#BEBEBE"/>
<circle cx="198.31" cy="92.76" r="1.7" fill="#BEBEBE"/>
<circle cx="205.07" cy="83.08" r="1.7" fill="#BEBEBE"/>
<circle cx="207.11" cy="94.92" r="1.7" fill="#BEBEBE"/>
<circle cx="193.76" cy="98.78" r="1.7" fill="#BEBEBE"/>
<circle cx="200.48" cy="92.82" r="1.7" fill="#BEBEBE"/>
<circle cx="200.65" cy="80.45" r="1.7" fill="#BEBEBE"/>
<circle cx="202.04" cy="89.13" r="1.7" fill="#BEBEBE"/>
<circle cx="199.80" cy="82.18" r="1.7" fill="#BEBEBE"/>
<circle cx="217.11" cy="71.27" r="1.7" fill="#BEBEBE"/>
<circle cx="201.54" cy="88.05" r="1.7" fill="#BEBEBE"/>
<circle cx="207.42" cy="73.36" r="1.7" fill="#BEBEBE"/>
<circle cx="215.07" cy="76.16" r="1.7" fill="#BEBEBE"/>
<circle cx="207.58" cy="93.03" r="1.7" fill="#BEBEBE"/>
<circle cx="198.81" cy="93.78" r="1.7" fill="#BEBEBE"/>
<circle cx="193.68" cy="83.63" r="1.7" fill="#BEBEBE"/>
<circle cx="216.23" cy="68.54" r="1.7" fill="#BEBEBE"/>
<circle cx="205.24" cy="92.29" r="1.7" fill="#BEBEBE"/>
<circle cx="205.79" cy="72.66" r="1.7" fill="#BEBEBE"/>
<circle cx="211.60" cy="72.13" r="1.7" fill="#BEBEBE"/>
<circle cx="200.07" cy="89.76" r="1.7" fill="#BEBEBE"/>
<circle cx="212.19" cy="91.68" r="1.7" fill="#BEBEBE"/>
<circle cx="207.75" cy="87.17" r="1.7" fill="#BEBEBE"/>
<circle cx="196.84" cy="83.12" r="1.7" fill="#BEBEBE"/>
<circle cx="224.97" cy="65.38" r="1.7" fill="#BEBEBE"/>
<circle cx="215.01" cy="67.91" r="1.7" fill="#BEBEBE"/>
<circle cx="213.60" cy="81.80" r="1.7" fill="#BEBEBE"/>
<circle cx="211.40" cy="91.60" r="1.7" fill="#BEBEBE"/>
<circle cx="207.16" cy="74.08" r="1.7" fill="#BEBEBE"/>
<circle cx="226.82" cy="65.78" r="1.7" fill="#BEBEBE"/>
<circle cx="233.17" cy="61.63" r="1.7" fill="#BEBEBE"/>
<circle cx="188.35" cy="94.36" r="1.7" fill="#BEBEBE"/>
<circle cx="211.26" cy="91.61" r="1.7" fill="#BEBEBE"/>
<circle cx="202.55" cy="95.73" r="1.7" fill="#BEBEBE"/>
<circle cx="227.04" cy="63.95" r="1.7" fill="#BEBEBE"/>
<circle cx="192.44" cy="95.96" r="1.7" fill="#BEBEBE"/>
<circle cx="234.05" cy="60.09" r="1.7" fill="#BEBEBE"/>
<circle cx="198.12" cy="97.40" r="1.7" fill="#BEBEBE"/>
<circle cx="202.68" cy="87.69" r="1.7" fill="#BEBEBE"/>
<circle cx="215.03" cy="76.51" r="1.7" fill="#BEBEBE"/>
<circle cx="188.93" cy="88.09" r="1.7" fill="#BEBEBE"/>
<circle cx="206.26" cy="87.11" r="1.7" fill="#BEBEBE"/>
<circle cx="223.03" cy="72.14" r="1.7" fill="#BEBEBE"/>
<circle cx="214.87" cy="89.62" r="1.7" fill="#BEBEBE"/>
<circle cx="198.18" cy="86.66" r="1.7" fill="#BEBEBE"/>
<circle cx="206.58" cy="90.79" r="1.7" fill="#BEBEBE"/>
<circle cx="207.85" cy="80.06" r="1.7" fill="#BEBEBE"/>
<circle cx="187.60" cy="90.16" r="1.7" fill="#BEBEBE"/>
<circle cx="201.21" cy="91.63" r="1.7" fill="#BEBEBE"/>
<circle cx="217.32" cy="81.11" r="1.7" fill="#BEBEBE"/>
<circle cx="211.08" cy="84.41" r="1.7" fill="#BEBEBE"/>
<circle cx="199.44" cy="93.28" r="1.7" fill="#BEBEBE"/>
<circle cx="197.38" cy="80.01" r="1.7" fill="#BEBEBE"/>
<circle cx="216.54" cy="73.68" r="1.7" fill="#BEBEBE"/>
<circle cx="188.40" cy="96.18" r="1.7" fill="#BEBEBE"/>
<circle cx="226.75" cy="63.98" r="1.7" fill="#BEBEBE"/>
<circle cx="207.57" cy="75.53" r="1.7" fill="#BEBEBE"/>
<circle cx="191.02" cy="83.03" r="1.7" fill="#BEBEBE"/>
<circle cx="192.96" cy="92.01" r="1.7" fill="#BEBEBE"/>
<circle cx="203.71" cy="74.68" r="1.7" fill="#BEBEBE"/>
<circle cx="207.56" cy="89.69" r="1.7" fill="#BEBEBE"/>
<circle cx="189.48" cy="88.24" r="1.7" fill="#BEBEBE"/>
<circle cx="209.73" cy="96.24" r="1.7" fill="#BEBEBE"/>
<circle cx="191.43" cy="97.01" r="1.7" fill="#BEBEBE"/>
<circle cx="215.15" cy="73.73" r="1.7" fill="#BEBEBE"/>
<circle cx="211.10" cy="88.78" r="1.7" fill="#BEBEBE"/>
<circle cx="212.41" cy="79.88" r="1.7" fill="#BEBEBE"/>
<circle cx="200.74" cy="79.09" r="1.7" fill="#BEBEBE"/>
<circle cx="207.42" cy="93.92" r="1.7" fill="#BEBEBE"/>
<circle cx="198.55" cy="83.00" r="1.7" fill="#BEBEBE"/>
<circle cx="205.05" cy="80.91" r="1.7" fill="#BEBEBE"/>
<circle cx="223.70" cy="66.67" r="1.7" fill="#BEBEBE"/>
<circle cx="193.74" cy="87.06" r="1.7" fill="#BEBEBE"/>
<circle cx="191.18" cy="96.47" r="1.7" fill="#BEBEBE"/>
<circle cx="188.86" cy="86.73" r="1.7" fill="#BEBEBE"/>
<circle cx="208.83" cy="76.51" r="1.7" fill="#BEBEBE"/>
<circle cx="208.73" cy="88.17" r="1.7" fill="#BEBEBE"/>
<circle cx="211.29" cy="88.51" r="1.7" fill="#BEBEBE"/>
<circle cx="215.54" cy="73.02" r="1.7" fill="#BEBEBE"/>
<circle cx="200.35" cy="79.24" r="1.7" fill="#BEBEBE"/>
<circle cx="211.49" cy="95.53" r="1.7" fill="#BEBEBE"/>
<circle cx="203.85" cy="80.40" r="1.7" fill="#BEBEBE"/>
<circle cx="203.78" cy="86.36" r="1.7" fill="#BEBEBE"/>
<circle cx="226.43" cy="66.25" r="1.7" fill="#BEBEBE"/>
<circle cx="219.13" cy="67.23" r="1.7" fill="#BEBEBE"/>
<circle cx="202.34" cy="82.99" r="1.7" fill="#BEBEBE"/>
<circle cx="192.12" cy="90.27" r="1.7" fill="#BEBEBE"/>
<circle cx="193.71" cy="76.85" r="1.7" fill="#BEBEBE"/>
<circle cx="214.71" cy="86.53" r="1.7" fill="#BEBEBE"/>
<circle cx="207.69" cy="72.42" r="1.7" fill="#BEBEBE"/>
<circle cx="201.39" cy="90.88" r="1.7" fill="#BEBEBE"/>
<circle cx="191.79" cy="93.13" r="1.7" fill="#BEBEBE"/>
<circle cx="212.48" cy="86.25" r="1.7" fill="#BEBEBE"/>
<circle cx="192.68" cy="83.82" r="1.7" fill="#BEBEBE"/>
<circle cx="210.44" cy="70.69" r="1.7" fill="#BEBEBE"/>
<circle cx="222.61" cy="71.97" r="1.7" fill="#BEBEBE"/>
<circle cx="218.25" cy="77.16" r="1.7" fill="#BEBEBE"/>
<circle cx="197.65" cy="97.08" r="1.7" fill="#BEBEBE"/>
<circle cx="195.86" cy="86.41" r="1.7" fill="#BEBEBE"/>
<circle cx="199.58" cy="92.42" r="1.7" fill="#BEBEBE"/>
<circle cx="205.27" cy="92.46" r="1.7" fill="#BEBEBE"/>
<circle cx="211.02" cy="70.94" r="1.7" fill="#BEBEBE"/>
<circle cx="188.18" cy="93.04" r="1.7" fill="#BEBEBE"/>
<circle cx="192.88" cy="86.08" r="1.7" fill="#BEBEBE"/>
<circle cx="218.93" cy="76.64" r="1.7" fill="#BEBEBE"/>
<circle cx="194.23" cy="92.43" r="1.7" fill="#BEBEBE"/>
<circle cx="188.64" cy="86.14" r="1.7" fill="#BEBEBE"/>
<circle cx="195.84" cy="78.28" r="1.7" fill="#BEBEBE"/>
<circle cx="197.83" cy="86.01" r="1.7" fill="#BEBEBE"/>
<circle cx="218.10" cy="68.47" r="1.7" fill="#BEBEBE"/>
<circle cx="211.55" cy="74.70" r="1.7" fill="#BEBEBE"/>
<circle cx="193.43" cy="81.94" r="1.7" fill="#BEBEBE"/>
<circle cx="214.12" cy="68.85" r="1.7" fill="#BEBEBE"/>
<circle cx="211.56" cy="89.90" r="1.7" fill="#BEBEBE"/>
<circle cx="209.75" cy="97.30" r="1.7" fill="#BEBEBE"/>
<circle cx="209.84" cy="92.50" r="1.7" fill="#BEBEBE"/>
<circle cx="214.04" cy="71.63" r="1.7" fill="#BEBEBE"/>
<circle cx="204.94" cy="81.35" r="1.7" fill="#BEBEBE"/>
<circle cx="210.34" cy="91.90" r="1.7" fill="#BEBEBE"/>
<circle cx="216.78" cy="70.74" r="1.7" fill="#BEBEBE"/>
<circle cx="214.07" cy="72.06" r="1.7" fill="#BEBEBE"/>
<circle cx="193.02" cy="87.08" r="1.7" fill="#BEBEBE"/>
<circle cx="193.75" cy="81.00" r="1.7" fill="#BEBEBE"/>
<circle cx="202.43" cy="95.73" r="1.7" fill="#BEBEBE"/>
<circle cx="200.87" cy="79.98" r="1.7" fill="#BEBEBE"/>
<circle cx="205.42" cy="78.42" r="1.7" fill="#BEBEBE"/>
<circle cx="212.34" cy="78.85" r="1.7" fill="#BEBEBE"/>
<circle cx="199.73" cy="85.85" r="1.7" fill="#BEBEBE"/>
<circle cx="216.05" cy="81.30" r="1.7" fill="#BEBEBE"/>
<circle cx="205.08" cy="80.43" r="1.7" fill="#BEBEBE"/>
<circle cx="215.37" cy="71.20" r="1.7" fill="#BEBEBE"/>
<circle cx="206.19" cy="90.38" r="1.7" fill="#BEBEBE"/>
<circle cx="196.95" cy="79.14" r="1.7" fill="#BEBEBE"/>
<circle cx="196.31" cy="92.09" r="1.7" fill="#BEBEBE"/>
<circle cx="208.95" cy="78.64" r="1.7" fill="#BEBEBE"/>
<circle cx="237.61" cy="56.45" r="1.7" fill="#BEBEBE"/>
<circle cx="194.08" cy="90.29" r="1.7" fill="#BEBEBE"/>
<circle cx="199.21" cy="96.63" r="1.7" fill="#BEBEBE"/>
<circle cx="187.55" cy="93.31" r="1.7" fill="#BEBEBE"/>
<circle cx="204.43" cy="84.87" r="1.7" fill="#BEBEBE"/>
<circle cx="201.09" cy="78.41" r="1.7" fill="#BEBEBE"/>
<circle cx="194.81" cy="92.95" r="1.7" fill="#BEBEBE"/>
<circle cx="194.08" cy="89.23" r="1.7" fill="#BEBEBE"/>
<circle cx="231.53" cy="60.83" r="1.7" fill="#BEBEBE"/>
<circle cx="191.46" cy="88.06" r="1.7" fill="#BEBEBE"/>
<circle cx="192.43" cy="84.15" r="1.7" fill="#BEBEBE"/>
<circle cx="209.60" cy="74.14" r="1.7" fill="#BEBEBE"/>
<circle cx="200.57" cy="89.70" r="1.7" fill="#BEBEBE"/>
<circle cx="216.21" cy="85.60" r="1.7" fill="#BEBEBE"/>
<circle cx="227.42" cy="63.33" r="1.7" fill="#BEBEBE"/>
<circle cx="213.45" cy="70.94" r="1.7" fill="#BEBEBE"/>
<circle cx="211.78" cy="79.52" r="1.7" fill="#BEBEBE"/>
<circle cx="214.61" cy="88.77" r="1.7" fill="#BEBEBE"/>
<circle cx="208.15" cy="92.03" r="1.7" fill="#BEBEBE"/>
<circle cx="194.17" cy="82.72" r="1.7" fill="#BEBEBE"/>
<circle cx="223.14" cy="67.62" r="1.7" fill="#BEBEBE"/>
<circle cx="211.58" cy="74.99" r="1.7" fill="#BEBEBE"/>
<circle cx="207.71" cy="91.54" r="1.7" fill="#BEBEBE"/>
<circle cx="199.04" cy="88.04" r="1.7" fill="#BEBEBE"/>
<circle cx="212.80" cy="72.37" r="1.7" fill="#BEBEBE"/>
<circle cx="198.11" cy="90.22" r="1.7" fill="#BEBEBE"/>
<circle cx="207.76" cy="72.53" r="1.7" fill="#BEBEBE"/>
<circle cx="191.22" cy="77.32" r="1.7" fill="#BEBEBE"/>
<circle cx="218.99" cy="74.03" r="1.7" fill="#BEBEBE"/>
<circle cx="206.45" cy="72.69" r="1.7" fill="#BEBEBE"/>
<circle cx="196.77" cy="96.61" r="1.7" fill="#BEBEBE"/>
<circle cx="204.53" cy="76.16" r="1.7" fill="#BEBEBE"/>
<circle cx="206.17" cy="89.42" r="1.7" fill="#BEBEBE"/>
<circle cx="216.53" cy="77.96" r="1.7" fill="#BEBEBE"/>
<circle cx="208.04" cy="95.68" r="1.7" fill="#BEBEBE"/>
<circle cx="191.11" cy="78.90" r="1.7" fill="#BEBEBE"/>
<circle cx="222.83" cy="63.80" r="1.7" fill="#BEBEBE"/>
<circle cx="189.35" cy="87.32" r="1.7" fill="#BEBEBE"/>
<circle cx="221.28" cy="66.31" r="1.7" fill="#BEBEBE"/>
<circle cx="222.82" cy="71.53" r="1.7" fill="#BEBEBE"/>
<circle cx="216.25" cy="82.82" r="1.7" fill="#BEBEBE"/>
<circle cx="199.96" cy="92.20" r="1.7" fill="#BEBEBE"/>
<circle cx="226.32" cy="67.34" r="1.7" fill="#BEBEBE"/>
<circle cx="200.04" cy="85.83" r="1.7" fill="#BEBEBE"/>
<circle cx="203.63" cy="86.69" r="1.7" fill="#BEBEBE"/>
<circle cx="206.40" cy="88.41" r="1.7" fill="#BEBEBE"/>
<circle cx="240.77" cy="53.96" r="1.7" fill="#BEBEBE"/>
<circle cx="216.94" cy="71.32" r="1.7" fill="#BEBEBE"/>
<circle cx="198.74" cy="89.49" r="1.7" fill="#BEBEBE"/>
<circle cx="229.14" cy="63.51" r="1.7" fill="#BEBEBE"/>
<circle cx="201.49" cy="84.05" r="1.7" fill="#BEBEBE"/>
<circle cx="211.43" cy="87.13" r="1.7" fill="#BEBEBE"/>
<circle cx="223.62" cy="62.96" r="1.7" fill="#BEBEBE"/>
<circle cx="216.40" cy="80.94" r="1.7" fill="#BEBEBE"/>
<circle cx="226.85" cy="62.58" r="1.7" fill="#BEBEBE"/>
<circle cx="196.84" cy="87.08" r="1.7" fill="#BEBEBE"/>
<circle cx="193.81" cy="87.98" r="1.7" fill="#BEBEBE"/>
<circle cx="201.09" cy="77.14" r="1.7" fill="#BEBEBE"/>
<circle cx="202.08" cy="94.08" r="1.7" fill="#BEBEBE"/>
<circle cx="210.73" cy="94.73" r="1.7" fill="#BEBEBE"/>
<circle cx="188.79" cy="91.86" r="1.7" fill="#BEBEBE"/>
<circle cx="218.73" cy="73.98" r="1.7" fill="#BEBEBE"/>
<circle cx="203.97" cy="77.64" r="1.7" fill="#BEBEBE"/>
<circle cx="206.05" cy="95.64" r="1.7" fill="#BEBEBE"/>
<circle cx="194.74" cy="94.15" r="1.7" fill="#BEBEBE"/>
<circle cx="189.31" cy="85.66" r="1.7" fill="#BEBEBE"/>
<circle cx="200.36" cy="78.08" r="1.7" fill="#BEBEBE"/>
<circle cx="214.41" cy="84.04" r="1.7" fill="#BEBEBE"/>
<circle cx="197.89" cy="82.26" r="1.7" fill="#BEBEBE"/>
<circle cx="197.63" cy="86.14" r="1.7" fill="#BEBEBE"/>
<circle cx="208.99" cy="97.45" r="1.7" fill="#BEBEBE"/>
<circle cx="206.07" cy="97.85" r="1.7" fill="#BEBEBE"/>
<circle cx="193.84" cy="92.46" r="1.7" fill="#BEBEBE"/>
<circle cx="204.64" cy="84.93" r="1.7" fill="#BEBEBE"/>
<circle cx="209.67" cy="87.96" r="1.7" fill="#BEBEBE"/>
<circle cx="189.84" cy="96.34" r="1.7" fill="#BEBEBE"/>
<circle cx="208.26" cy="90.37" r="1.7" fill="#BEBEBE"/>
<circle cx="212.97" cy="90.79" r="1.7" fill="#BEBEBE"/>
<circle cx="203.76" cy="78.52" r="1.7" fill="#BEBEBE"/>
<circle cx="191.78" cy="92.94" r="1.7" fill="#BEBEBE"/>
<circle cx="209.82" cy="96.94" r="1.7" fill="#BEBEBE"/>
<circle cx="190.58" cy="99.30" r="1.7" fill="#BEBEBE"/>
<circle cx="193.14" cy="97.28" r="1.7" fill="#BEBEBE"/>
<circle cx="189.78" cy="85.42" r="1.7" fill="#BEBEBE"/>
<circle cx="214.12" cy="76.05" r="1.7" fill="#BEBEBE"/>
<circle cx="195.34" cy="77.01" r="1.7" fill="#BEBEBE"/>
<circle cx="230.81" cy="59.53" r="1.7" fill="#BEBEBE"/>
<circle cx="212.33" cy="83.22" r="1.7" fill="#BEBEBE"/>
<circle cx="215.12" cy="77.03" r="1.7" fill="#BEBEBE"/>
<circle cx="203.79" cy="86.97" r="1.7" fill="#BEBEBE"/>
<circle cx="198.63" cy="78.97" r="1.7" fill="#BEBEBE"/>
<circle cx="215.36" cy="79.31" r="1.7" fill="#BEBEBE"/>
<circle cx="214.17" cy="88.24" r="1.7" fill="#BEBEBE"/>
<circle cx="210.50" cy="72.84" r="1.7" fill="#BEBEBE"/>
<circle cx="210.84" cy="79.25" r="1.7" fill="#BEBEBE"/>
<circle cx="210.55" cy="70.55" r="1.7" fill="#BEBEBE"/>
<circle cx="188.41" cy="86.62" r="1.7" fill="#BEBEBE"/>
<circle cx="208.84" cy="74.10" r="1.7" fill="#BEBEBE"/>
<circle cx="219.46" cy="70.35" r="1.7" fill="#BEBEBE"/>
<circle cx="202.94" cy="74.85" r="1.7" fill="#BEBEBE"/>
<circle cx="212.86" cy="71.28" r="1.7" fill="#BEBEBE"/>
<circle cx="200.11" cy="90.14" r="1.7" fill="#BEBEBE"/>
<circle cx="193.68" cy="80.75" r="1.7" fill="#BEBEBE"/>
<circle cx="190.77" cy="87.09" r="1.7" fill="#BEBEBE"/>
<circle cx="191.20" cy="90.63" r="1.7" fill="#BEBEBE"/>
<circle cx="219.28" cy="72.82" r="1.7" fill="#BEBEBE"/>
<circle cx="200.98" cy="96.13" r="1.7" fill="#BEBEBE"/>
<circle cx="218.44" cy="68.41" r="1.7" fill="#BEBEBE"/>
<circle cx="211.24" cy="90.83" r="1.7" fill="#BEBEBE"/>
<circle cx="197.32" cy="86.55" r="1.7" fill="#BEBEBE"/>
<circle cx="205.35" cy="96.86" r="1.7" fill="#BEBEBE"/>
<circle cx="209.66" cy="82.11" r="1.7" fill="#BEBEBE"/>
<circle cx="221.96" cy="69.22" r="1.7" fill="#BEBEBE"/>
<circle cx="204.03" cy="81.88" r="1.7" fill="#BEBEBE"/>
<circle cx="201.25" cy="80.39" r="1.7" fill="#BEBEBE"/>
<circle cx="202.38" cy="89.41" r="1.7" fill="#BEBEBE"/>
<circle cx="211.19" cy="95.18" r="1.7" fill="#BEBEBE"/>
<circle cx="213.15" cy="71.70" r="1.7" fill="#BEBEBE"/>
<circle cx="210.48" cy="95.79" r="1.7" fill="#BEBEBE"/>
<circle cx="201.03" cy="98.38" r="1.7" fill="#BEBEBE"/>
<circle cx="215.87" cy="84.80" r="1.7" fill="#BEBEBE"/>
<circle cx="194.80" cy="94.14" r="1.7" fill="#BEBEBE"/>
<circle cx="206.92" cy="85.57" r="1.7" fill="#BEBEBE"/>
<circle cx="212.38" cy="77.67" r="1.7" fill="#BEBEBE"/>
<circle cx="205.66" cy="84.78" r="1.7" fill="#BEBEBE"/>
<circle cx="198.93" cy="91.27" r="1.7" fill="#BEBEBE"/>
<circle cx="217.20" cy="68.50" r="1.7" fill="#BEBEBE"/>
<circle cx="201.44" cy="77.75" r="1.7" fill="#BEBEBE"/>
<circle cx="233.27" cy="58.88" r="1.7" fill="#BEBEBE"/>
<circle cx="222.77" cy="69.86" r="1.7" fill="#BEBEBE"/>
<circle cx="192.18" cy="98.70" r="1.7" fill="#BEBEBE"/>
<circle cx="189.84" cy="81.61" r="1.7" fill="#BEBEBE"/>
<circle cx="211.04" cy="96.22" r="1.7" fill="#BEBEBE"/>
<circle cx="234.71" cy="58.59" r="1.7" fill="#BEBEBE"/>
<circle cx="215.25" cy="75.36" r="1.7" fill="#BEBEBE"/>
<circle cx="189.77" cy="91.64" r="1.7" fill="#BEBEBE"/>
<circle cx="195.23" cy="81.14" r="1.7" fill="#BEBEBE"/>
<circle cx="203.40" cy="92.56" r="1.7" fill="#BEBEBE"/>
<circle cx="223.09" cy="68.15" r="1.7" fill="#BEBEBE"/>
<circle cx="208.30" cy="78.81" r="1.7" fill="#BEBEBE"/>
<circle cx="217.31" cy="72.03" r="1.7" fill="#BEBEBE"/>
<circle cx="205.31" cy="96.34" r="1.7" fill="#BEBEBE"/>
<circle cx="192.76" cy="93.67" r="1.7" fill="#BEBEBE"/>
<circle cx="195.80" cy="91.68" r="1.7" fill="#BEBEBE"/>
<circle cx="212.37" cy="90.77" r="1.7" fill="#BEBEBE"/>
<circle cx="215.22" cy="87.72" r="1.7" fill="#BEBEBE"/>
<circle cx="217.49" cy="70.14" r="1.7" fill="#BEBEBE"/>
<circle cx="202.28" cy="94.12" r="1.7" fill="#BEBEBE"/>
<circle cx="239.57" cy="55.30" r="1.7" fill="#BEBEBE"/>
<circle cx="217.41" cy="78.26" r="1.7" fill="#BEBEBE"/>
<circle cx="209.65" cy="79.08" r="1.7" fill="#BEBEBE"/>
<circle cx="192.36" cy="95.72" r="1.7" fill="#BEBEBE"/>
<circle cx="237.76" cy="55.87" r="1.7" fill="#BEBEBE"/>
<circle cx="229.56" cy="60.51" r="1.7" fill="#BEBEBE"/>
<circle cx="195.94" cy="77.71" r="1.7" fill="#BEBEBE"/>
<circle cx="208.99" cy="75.48" r="1.7" fill="#BEBEBE"/>
<circle cx="202.50" cy="97.59" r="1.7" fill="#BEBEBE"/>
<circle cx="203.93" cy="87.09" r="1.7" fill="#BEBEBE"/>
<circle cx="213.78" cy="90.14" r="1.7" fill="#BEBEBE"/>
<circle cx="207.15" cy="93.96" r="1.7" fill="#BEBEBE"/>
<circle cx="187.89" cy="94.68" r="1.7" fill="#BEBEBE"/>
<circle cx="233.39" cy="60.33" r="1.7" fill="#BEBEBE"/>
<circle cx="205.73" cy="86.27" r="1.7" fill="#BEBEBE"/>
<circle cx="191.62" cy="79.66" r="1.7" fill="#BEBEBE"/>
<circle cx="217.67" cy="73.90" r="1.7" fill="#BEBEBE"/>
<circle cx="204.15" cy="81.17" r="1.7" fill="#BEBEBE"/>
<circle cx="206.23" cy="98.27" r="1.7" fill="#BEBEBE"/>
<circle cx="219.76" cy="67.26" r="1.7" fill="#BEBEBE"/>
<circle cx="202.14" cy="87.36" r="1.7" fill="#BEBEBE"/>
<circle cx="206.36" cy="80.93" r="1.7" fill="#BEBEBE"/>
<circle cx="193.57" cy="92.23" r="1.7" fill="#BEBEBE"/>
<circle cx="205.75" cy="95.20" r="1.7" fill="#BEBEBE"/>
<circle cx="197.00" cy="97.83" r="1.7" fill="#BEBEBE"/>
<circle cx="190.90" cy="78.42" r="1.7" fill="#BEBEBE"/>
<circle cx="207.65" cy="99.34" r="1.7" fill="#BEBEBE"/>
<circle cx="217.77" cy="70.05" r="1.7" fill="#BEBEBE"/>
<circle cx="201.36" cy="91.18" r="1.7" fill="#BEBEBE"/>
<circle cx="207.33" cy="80.20" r="1.7" fill="#BEBEBE"/>
<circle cx="200.28" cy="86.02" r="1.7" fill="#BEBEBE"/>
<circle cx="237.19" cy="56.78" r="1.7" fill="#BEBEBE"/>
<circle cx="225.11" cy="69.49" r="1.7" fill="#BEBEBE"/>
<circle cx="212.28" cy="89.97" r="1.7" fill="#BEBEBE"/>
<circle cx="198.25" cy="92.92" r="1.7" fill="#BEBEBE"/>
<circle cx="188.83" cy="78.15" r="1.7" fill="#BEBEBE"/>
<circle cx="219.44" cy="73.19" r="1.7" fill="#BEBEBE"/>
<circle cx="201.29" cy="90.57" r="1.7" fill="#BEBEBE"/>
<circle cx="204.56" cy="75.31" r="1.7" fill="#BEBEBE"/>
<circle cx="225.32" cy="68.37" r="1.7" fill="#BEBEBE"/>
<circle cx="230.50" cy="61.96" r="1.7" fill="#BEBEBE"/>
<circle cx="192.98" cy="82.29" r="1.7" fill="#BEBEBE"/>
<circle cx="211.96" cy="95.64" r="1.7" fill="#BEBEBE"/>
<circle cx="193.18" cy="87.75" r="1.7" fill="#BEBEBE"/>
<circle cx="223.67" cy="70.50" r="1.7" fill="#BEBEBE"/>
<circle cx="194.43" cy="81.58" r="1.7" fill="#BEBEBE"/>
<circle cx="213.02" cy="84.97" r="1.7" fill="#BEBEBE"/>
<circle cx="220.41" cy="72.93" r="1.7" fill="#BEBEBE"/>
<circle cx="200.88" cy="85.19" r="1.7" fill="#BEBEBE"/>
<circle cx="204.03" cy="75.37" r="1.7" fill="#BEBEBE"/>
<circle cx="188.96" cy="77.64" r="1.7" fill="#BEBEBE"/>
<circle cx="201.70" cy="89.29" r="1.7" fill="#BEBEBE"/>
<circle cx="204.82" cy="93.99" r="1.7" fill="#BEBEBE"/>
<circle cx="203.65" cy="81.48" r="1.7" fill="#BEBEBE"/>
<circle cx="215.80" cy="72.83" r="1.7" fill="#BEBEBE"/>
<circle cx="221.56" cy="67.85" r="1.7" fill="#BEBEBE"/>
<circle cx="201.92" cy="95.77" r="1.7" fill="#BEBEBE"/>
<circle cx="191.15" cy="98.39" r="1.7" fill="#BEBEBE"/>
<circle cx="193.53" cy="86.81" r="1.7" fill="#BEBEBE"/>
<circle cx="233.78" cy="59.02" r="1.7" fill="#BEBEBE"/>
<circle cx="228.03" cy="63.89" r="1.7" fill="#BEBEBE"/>
<circle cx="209.83" cy="87.67" r="1.7" fill="#BEBEBE"/>
<circle cx="204.20" cy="92.43" r="1.7" fill="#BEBEBE"/>
<circle cx="209.54" cy="79.53" r="1.7" fill="#BEBEBE"/>
<circle cx="190.13" cy="86.40" r="1.7" fill="#BEBEBE"/>
<circle cx="198.62" cy="86.64" r="1.7" fill="#BEBEBE"/>
<circle cx="199.78" cy="79.42" r="1.7" fill="#BEBEBE"/>
<circle cx="195.52" cy="93.20" r="1.7" fill="#BEBEBE"/>
<circle cx="203.82" cy="78.29" r="1.7" fill="#BEBEBE"/>
<circle cx="199.50" cy="83.70" r="1.7" fill="#BEBEBE"/>
<circle cx="188.53" cy="91.93" r="1.7" fill="#BEBEBE"/>
<circle cx="198.59" cy="91.14" r="1.7" fill="#BEBEBE"/>
<circle cx="235.64" cy="59.11" r="1.7" fill="#BEBEBE"/>
<circle cx="214.56" cy="79.26" r="1.7" fill="#BEBEBE"/>
<circle cx="188.37" cy="91.94" r="1.7" fill="#BEBEBE"/>
<circle cx="191.60" cy="88.81" r="1.7" fill="#BEBEBE"/>
<circle cx="198.32" cy="92.97" r="1.7" fill="#BEBEBE"/>
<circle cx="208.10" cy="96.47" r="1.7" fill="#BEBEBE"/>
<circle cx="201.54" cy="79.85" r="1.7" fill="#BEBEBE"/>
<circle cx="223.86" cy="64.23" r="1.7" fill="#BEBEBE"/>
<circle cx="230.52" cy="61.96" r="1.7" fill="#BEBEBE"/>
<circle cx="228.13" cy="63.13" r="1.7" fill="#BEBEBE"/>
<circle cx="191.84" cy="88.97" r="1.7" fill="#BEBEBE"/>
<circle cx="200.48" cy="80.55" r="1.7" fill="#BEBEBE"/>
<circle cx="216.10" cy="69.11" r="1.7" fill="#BEBEBE"/>
<circle cx="210.35" cy="78.30" r="1.7" fill="#BEBEBE"/>
<circle cx="228.54" cy="63.43" r="1.7" fill="#BEBEBE"/>
<circle cx="218.20" cy="73.67" r="1.7" fill="#BEBEBE"/>
<circle cx="199.99" cy="89.37" r="1.7" fill="#BEBEBE"/>
<circle cx="199.44" cy="86.08" r="1.7" fill="#BEBEBE"/>
<circle cx="213.92" cy="73.09" r="1.7" fill="#BEBEBE"/>
<circle cx="212.89" cy="77.94" r="1.7" fill="#BEBEBE"/>
<circle cx="206.30" cy="76.45" r="1.7" fill="#BEBEBE"/>
<circle cx="216.13" cy="71.33" r="1.7" fill="#BEBEBE"/>
<circle cx="204.75" cy="87.58" r="1.7" fill="#BEBEBE"/>
<circle cx="214.13" cy="90.03" r="1.7" fill="#BEBEBE"/>
<circle cx="209.07" cy="71.19" r="1.7" fill="#BEBEBE"/>
<circle cx="189.44" cy="97.45" r="1.7" fill="#BEBEBE"/>
<circle cx="216.36" cy="80.22" r="1.7" fill="#BEBEBE"/>
<circle cx="191.10" cy="87.70" r="1.7" fill="#BEBEBE"/>
<circle cx="207.68" cy="83.01" r="1.7" fill="#BEBEBE"/>
<circle cx="202.82" cy="95.64" r="1.7" fill="#BEBEBE"/>
<circle cx="202.13" cy="75.85" r="1.7" fill="#BEBEBE"/>
<circle cx="198.86" cy="90.03" r="1.7" fill="#BEBEBE"/>
<circle cx="188.50" cy="73.50" r="1.65" fill="#BEBEBE"/>
<circle cx="191.00" cy="72.50" r="1.65" fill="#BEBEBE"/>
<circle cx="201.40" cy="57.30" r="1.65" fill="#BEBEBE"/>
<circle cx="209.40" cy="55.40" r="1.65" fill="#BEBEBE"/>
<circle cx="198.90" cy="62.10" r="1.65" fill="#BEBEBE"/>
<circle cx="195.30" cy="65.20" r="1.65" fill="#BEBEBE"/>
<circle cx="206.60" cy="59.80" r="1.65" fill="#BEBEBE"/>
<circle cx="204.00" cy="63.60" r="1.65" fill="#BEBEBE"/>
<circle cx="211.20" cy="59.00" r="1.65" fill="#BEBEBE"/>
<circle cx="214.30" cy="60.60" r="1.65" fill="#BEBEBE"/>
<circle cx="215.80" cy="62.10" r="1.65" fill="#BEBEBE"/>
<circle cx="222.50" cy="58.50" r="1.65" fill="#BEBEBE"/>
<circle cx="228.20" cy="52.30" r="1.65" fill="#BEBEBE"/>
<circle cx="230.70" cy="51.50" r="1.65" fill="#BEBEBE"/>
<circle cx="237.40" cy="50.30" r="1.65" fill="#BEBEBE"/>
<circle cx="240.50" cy="46.40" r="1.65" fill="#BEBEBE"/>
<circle cx="235.40" cy="63.10" r="1.65" fill="#BEBEBE"/>
<circle cx="231.80" cy="65.50" r="1.65" fill="#BEBEBE"/>
<circle cx="226.10" cy="70.80" r="1.65" fill="#BEBEBE"/>
<circle cx="216.90" cy="97.00" r="1.65" fill="#BEBEBE"/>
<circle cx="212.70" cy="99.40" r="1.65" fill="#BEBEBE"/>
<circle cx="215.80" cy="92.40" r="1.65" fill="#BEBEBE"/>
<circle cx="244.50" cy="41.70" r="1.65" fill="#BEBEBE"/>
<circle cx="247.60" cy="43.20" r="1.65" fill="#BEBEBE"/>
<circle cx="252.50" cy="33.70" r="1.65" fill="#BEBEBE"/>
<circle cx="256.60" cy="29.90" r="1.65" fill="#BEBEBE"/>
<circle cx="243.00" cy="48.00" r="1.65" fill="#BEBEBE"/>
<circle cx="246.00" cy="45.50" r="1.65" fill="#BEBEBE"/>
<circle cx="239.30" cy="124.50" r="1.65" fill="#8B1A1A"/>
<circle cx="251.90" cy="124.50" r="1.65" fill="#8B1A1A"/>
<rect x="53.5" y="25.5" width="100.0" height="104" fill="none" stroke="#333" stroke-width="1.0"/>
<rect x="161.5" y="25.5" width="100.0" height="104" fill="none" stroke="#333" stroke-width="1.0"/>
<line x1="54.20" y1="128.70" x2="150.90" y2="31.10" stroke="#484848" stroke-width="1.15" stroke-dasharray="4.6 4.2"/>
<line x1="164.20" y1="125.90" x2="258.40" y2="37.70" stroke="#484848" stroke-width="1.15" stroke-dasharray="4.6 4.2"/>
<line x1="49.60" y1="62.50" x2="53.40" y2="62.50" stroke="#333" stroke-width="1"/>
<line x1="49.60" y1="103.50" x2="53.40" y2="103.50" stroke="#333" stroke-width="1"/>
<line x1="157.50" y1="62.50" x2="161.30" y2="62.50" stroke="#333" stroke-width="1"/>
<line x1="157.50" y1="103.50" x2="161.30" y2="103.50" stroke="#333" stroke-width="1"/>
<line x1="78.50" y1="129.20" x2="78.50" y2="132.80" stroke="#333" stroke-width="1"/>
<line x1="120.50" y1="129.20" x2="120.50" y2="132.80" stroke="#333" stroke-width="1"/>
<line x1="187.50" y1="129.20" x2="187.50" y2="132.80" stroke="#333" stroke-width="1"/>
<line x1="231.50" y1="129.20" x2="231.50" y2="132.80" stroke="#333" stroke-width="1"/>
<text x="48.00" y="65.60" font-size="10" text-anchor="end" fill="#222">1e-03</text>
<text x="48.00" y="107.40" font-size="10" text-anchor="end" fill="#222">1e-05</text>
<text x="78.90" y="142.20" font-size="10" text-anchor="middle" fill="#222">1e-05</text>
<text x="120.60" y="142.20" font-size="10" text-anchor="middle" fill="#222">1e-03</text>
<text x="187.30" y="142.20" font-size="10" text-anchor="middle" fill="#222">1e-05</text>
<text x="231.90" y="142.20" font-size="10" text-anchor="middle" fill="#222">1e-03</text>
<text x="156.20" y="151.80" font-size="7.1" text-anchor="middle" fill="#222">TCR frequency</text>
<text x="100.90" y="165.50" font-size="10.5" text-anchor="middle" fill="#222">G12V</text>
<text x="215.00" y="165.50" font-size="10.5" text-anchor="middle" fill="#222">Irrelevant peptide</text>
<text x="8.30" y="80.40" font-size="10.5" text-anchor="middle" fill="#222" transform="rotate(-90 8.30 80.40)">Control</text>
<text x="17.20" y="79.00" font-size="7.1" text-anchor="middle" fill="#222" transform="rotate(-90 17.20 79.00)">TCR frequency</text>
<text x="279.00" y="11.30" font-size="15.5" text-anchor="start" fill="#111" font-weight="bold">b</text>
<text x="286.40" y="78.90" font-size="10.45" text-anchor="middle" fill="#222" transform="rotate(-90 286.40 78.90)">Fold expansion</text>
<text x="298.60" y="77.60" font-size="10.5" text-anchor="middle" fill="#222" transform="rotate(-90 298.60 77.60)">relative to control</text>
<text x="366.70" y="17.30" font-size="10.5" text-anchor="middle" fill="#222">J1994_12</text>
<text x="325.30" y="33.20" font-size="10.5" text-anchor="end" fill="#222">INF</text>
<line x1="326.30" y1="29.50" x2="330.60" y2="29.50" stroke="#777" stroke-width="0.9"/>
<line x1="330.50" y1="25.30" x2="330.50" y2="34.50" stroke="#222" stroke-width="0.9"/>
<line x1="327.60" y1="34.50" x2="333.80" y2="34.50" stroke="#222" stroke-width="0.9"/>
<line x1="330.50" y1="42.90" x2="330.50" y2="129.90" stroke="#2a2a2a" stroke-width="1.0"/>
<line x1="327.60" y1="42.50" x2="333.80" y2="42.50" stroke="#222" stroke-width="0.9"/>
<line x1="326.60" y1="129.50" x2="399.50" y2="129.50" stroke="#2a2a2a" stroke-width="1.0"/>
<line x1="326.30" y1="129.50" x2="330.60" y2="129.50" stroke="#333" stroke-width="0.9"/>
<text x="325.30" y="132.10" font-size="9.2" text-anchor="end" fill="#222">0</text>
<line x1="326.30" y1="110.50" x2="330.60" y2="110.50" stroke="#333" stroke-width="0.9"/>
<text x="325.30" y="113.10" font-size="9.2" text-anchor="end" fill="#222">500</text>
<line x1="326.30" y1="91.50" x2="330.60" y2="91.50" stroke="#333" stroke-width="0.9"/>
<text x="325.30" y="94.10" font-size="9.2" text-anchor="end" fill="#222">1000</text>
<line x1="326.30" y1="72.50" x2="330.60" y2="72.50" stroke="#333" stroke-width="0.9"/>
<text x="325.30" y="75.10" font-size="9.2" text-anchor="end" fill="#222">1500</text>
<line x1="326.30" y1="53.50" x2="330.60" y2="53.50" stroke="#333" stroke-width="0.9"/>
<text x="325.30" y="56.10" font-size="9.2" text-anchor="end" fill="#222">2000</text>
<line x1="337.50" y1="129.40" x2="337.50" y2="132.60" stroke="#333" stroke-width="0.9"/>
<text x="341.40" y="135.30" font-size="10.9" text-anchor="end" fill="#222" transform="rotate(-90 341.40 135.30)">G12V</text>
<line x1="349.50" y1="129.40" x2="349.50" y2="132.60" stroke="#333" stroke-width="0.9"/>
<text x="352.50" y="135.30" font-size="10.9" text-anchor="end" fill="#222" transform="rotate(-90 352.50 135.30)">G12A</text>
<line x1="359.50" y1="129.40" x2="359.50" y2="132.60" stroke="#333" stroke-width="0.9"/>
<text x="363.20" y="135.30" font-size="10.9" text-anchor="end" fill="#222" transform="rotate(-90 363.20 135.30)">G12R</text>
<line x1="370.50" y1="129.40" x2="370.50" y2="132.60" stroke="#333" stroke-width="0.9"/>
<text x="374.30" y="135.30" font-size="10.9" text-anchor="end" fill="#222" transform="rotate(-90 374.30 135.30)">G12C</text>
<line x1="381.50" y1="129.40" x2="381.50" y2="132.60" stroke="#333" stroke-width="0.9"/>
<text x="385.30" y="135.30" font-size="10.9" text-anchor="end" fill="#222" transform="rotate(-90 385.30 135.30)">G12D</text>
<line x1="392.50" y1="129.40" x2="392.50" y2="132.60" stroke="#333" stroke-width="0.9"/>
<text x="396.40" y="135.30" font-size="10.9" text-anchor="end" fill="#222" transform="rotate(-90 396.40 135.30)">G13D</text>
<rect x="333.90" y="27.75" width="8.0" height="4.3" rx="2.15" fill="#1e1e1e"/>
<circle cx="336.30" cy="29.90" r="1.1" fill="#F7A21B"/>
<circle cx="339.50" cy="29.90" r="1.1" fill="#F7A21B"/>
<rect x="345.00" y="27.75" width="8.0" height="4.3" rx="2.15" fill="#1e1e1e"/>
<circle cx="347.40" cy="29.90" r="1.1" fill="#E8622A"/>
<circle cx="350.60" cy="29.90" r="1.1" fill="#E8622A"/>
<rect x="355.70" y="27.75" width="8.0" height="4.3" rx="2.15" fill="#1e1e1e"/>
<circle cx="358.10" cy="29.90" r="1.1" fill="#8B1518"/>
<circle cx="361.30" cy="29.90" r="1.1" fill="#8B1518"/>
<rect x="366.80" y="27.75" width="8.0" height="4.3" rx="2.15" fill="#1e1e1e"/>
<circle cx="369.20" cy="29.90" r="1.1" fill="#8E5BB4"/>
<circle cx="372.40" cy="29.90" r="1.1" fill="#8E5BB4"/>
<rect x="377.80" y="27.75" width="8.0" height="4.3" rx="2.15" fill="#1e1e1e"/>
<circle cx="380.20" cy="29.90" r="1.1" fill="#5B7BC2"/>
<circle cx="383.40" cy="29.90" r="1.1" fill="#5B7BC2"/>
<rect x="388.90" y="27.75" width="8.0" height="4.3" rx="2.15" fill="#1e1e1e"/>
<circle cx="391.30" cy="29.90" r="1.1" fill="#92C5EA"/>
<circle cx="394.50" cy="29.90" r="1.1" fill="#92C5EA"/>
<circle cx="337.90" cy="113.06" r="1.65" fill="#F7A21B" stroke="#1c1c1c" stroke-width="0.85"/>
<circle cx="337.90" cy="114.20" r="1.65" fill="#F7A21B" stroke="#1c1c1c" stroke-width="0.85"/>
<circle cx="337.90" cy="115.72" r="1.65" fill="#F7A21B" stroke="#1c1c1c" stroke-width="0.85"/>
<circle cx="337.90" cy="117.24" r="1.65" fill="#F7A21B" stroke="#1c1c1c" stroke-width="0.85"/>
<circle cx="337.90" cy="119.14" r="1.65" fill="#F7A21B" stroke="#1c1c1c" stroke-width="0.85"/>
<circle cx="337.90" cy="120.66" r="1.65" fill="#F7A21B" stroke="#1c1c1c" stroke-width="0.85"/>
<circle cx="337.90" cy="122.18" r="1.65" fill="#F7A21B" stroke="#1c1c1c" stroke-width="0.85"/>
<circle cx="337.90" cy="123.70" r="1.65" fill="#F7A21B" stroke="#1c1c1c" stroke-width="0.85"/>
<circle cx="337.90" cy="125.22" r="1.65" fill="#F7A21B" stroke="#1c1c1c" stroke-width="0.85"/>
<circle cx="337.90" cy="126.74" r="1.65" fill="#F7A21B" stroke="#1c1c1c" stroke-width="0.85"/>
<circle cx="337.90" cy="128.26" r="1.65" fill="#F7A21B" stroke="#1c1c1c" stroke-width="0.85"/>
<circle cx="337.90" cy="129.21" r="1.65" fill="#F7A21B" stroke="#1c1c1c" stroke-width="0.85"/>
<circle cx="349.00" cy="100.90" r="1.65" fill="#E8622A" stroke="#1c1c1c" stroke-width="0.85"/>
<circle cx="349.00" cy="115.72" r="1.65" fill="#E8622A" stroke="#1c1c1c" stroke-width="0.85"/>
<circle cx="349.00" cy="118.76" r="1.65" fill="#E8622A" stroke="#1c1c1c" stroke-width="0.85"/>
<circle cx="349.00" cy="121.80" r="1.65" fill="#E8622A" stroke="#1c1c1c" stroke-width="0.85"/>
<circle cx="349.00" cy="125.60" r="1.65" fill="#E8622A" stroke="#1c1c1c" stroke-width="0.85"/>
<circle cx="349.00" cy="128.26" r="1.65" fill="#E8622A" stroke="#1c1c1c" stroke-width="0.85"/>
<circle cx="359.70" cy="45.80" r="1.65" fill="#8B1518" stroke="#1c1c1c" stroke-width="0.85"/>
<circle cx="359.70" cy="83.80" r="1.65" fill="#8B1518" stroke="#1c1c1c" stroke-width="0.85"/>
<circle cx="359.70" cy="84.94" r="1.65" fill="#8B1518" stroke="#1c1c1c" stroke-width="0.85"/>
<circle cx="359.70" cy="86.08" r="1.65" fill="#8B1518" stroke="#1c1c1c" stroke-width="0.85"/>
<circle cx="359.70" cy="95.20" r="1.65" fill="#8B1518" stroke="#1c1c1c" stroke-width="0.85"/>
<circle cx="359.70" cy="96.72" r="1.65" fill="#8B1518" stroke="#1c1c1c" stroke-width="0.85"/>
<circle cx="359.70" cy="98.24" r="1.65" fill="#8B1518" stroke="#1c1c1c" stroke-width="0.85"/>
<circle cx="359.70" cy="103.56" r="1.65" fill="#8B1518" stroke="#1c1c1c" stroke-width="0.85"/>
<circle cx="359.70" cy="108.12" r="1.65" fill="#8B1518" stroke="#1c1c1c" stroke-width="0.85"/>
<circle cx="359.70" cy="113.44" r="1.65" fill="#8B1518" stroke="#1c1c1c" stroke-width="0.85"/>
<circle cx="359.70" cy="118.00" r="1.65" fill="#8B1518" stroke="#1c1c1c" stroke-width="0.85"/>
<circle cx="359.70" cy="119.52" r="1.65" fill="#8B1518" stroke="#1c1c1c" stroke-width="0.85"/>
<circle cx="359.70" cy="121.04" r="1.65" fill="#8B1518" stroke="#1c1c1c" stroke-width="0.85"/>
<circle cx="359.70" cy="122.56" r="1.65" fill="#8B1518" stroke="#1c1c1c" stroke-width="0.85"/>
<circle cx="359.70" cy="124.08" r="1.65" fill="#8B1518" stroke="#1c1c1c" stroke-width="0.85"/>
<circle cx="359.70" cy="125.60" r="1.65" fill="#8B1518" stroke="#1c1c1c" stroke-width="0.85"/>
<circle cx="359.70" cy="126.74" r="1.65" fill="#8B1518" stroke="#1c1c1c" stroke-width="0.85"/>
<circle cx="359.70" cy="127.88" r="1.65" fill="#8B1518" stroke="#1c1c1c" stroke-width="0.85"/>
<circle cx="359.70" cy="129.02" r="1.65" fill="#8B1518" stroke="#1c1c1c" stroke-width="0.85"/>
<circle cx="370.80" cy="99.00" r="1.65" fill="#8E5BB4" stroke="#1c1c1c" stroke-width="0.85"/>
<circle cx="370.80" cy="111.54" r="1.65" fill="#8E5BB4" stroke="#1c1c1c" stroke-width="0.85"/>
<circle cx="370.80" cy="113.06" r="1.65" fill="#8E5BB4" stroke="#1c1c1c" stroke-width="0.85"/>
<circle cx="370.80" cy="114.58" r="1.65" fill="#8E5BB4" stroke="#1c1c1c" stroke-width="0.85"/>
<circle cx="370.80" cy="116.10" r="1.65" fill="#8E5BB4" stroke="#1c1c1c" stroke-width="0.85"/>
<circle cx="370.80" cy="118.00" r="1.65" fill="#8E5BB4" stroke="#1c1c1c" stroke-width="0.85"/>
<circle cx="370.80" cy="119.52" r="1.65" fill="#8E5BB4" stroke="#1c1c1c" stroke-width="0.85"/>
<circle cx="370.80" cy="121.04" r="1.65" fill="#8E5BB4" stroke="#1c1c1c" stroke-width="0.85"/>
<circle cx="370.80" cy="122.56" r="1.65" fill="#8E5BB4" stroke="#1c1c1c" stroke-width="0.85"/>
<circle cx="370.80" cy="124.08" r="1.65" fill="#8E5BB4" stroke="#1c1c1c" stroke-width="0.85"/>
<circle cx="370.80" cy="125.60" r="1.65" fill="#8E5BB4" stroke="#1c1c1c" stroke-width="0.85"/>
<circle cx="370.80" cy="127.12" r="1.65" fill="#8E5BB4" stroke="#1c1c1c" stroke-width="0.85"/>
<circle cx="370.80" cy="128.64" r="1.65" fill="#8E5BB4" stroke="#1c1c1c" stroke-width="0.85"/>
<circle cx="381.80" cy="115.34" r="1.65" fill="#5B7BC2" stroke="#1c1c1c" stroke-width="0.85"/>
<circle cx="381.80" cy="117.62" r="1.65" fill="#5B7BC2" stroke="#1c1c1c" stroke-width="0.85"/>
<circle cx="381.80" cy="122.18" r="1.65" fill="#5B7BC2" stroke="#1c1c1c" stroke-width="0.85"/>
<circle cx="381.80" cy="124.46" r="1.65" fill="#5B7BC2" stroke="#1c1c1c" stroke-width="0.85"/>
<circle cx="381.80" cy="128.64" r="1.65" fill="#5B7BC2" stroke="#1c1c1c" stroke-width="0.85"/>
<circle cx="392.90" cy="114.20" r="1.65" fill="#92C5EA" stroke="#1c1c1c" stroke-width="0.85"/>
<circle cx="392.90" cy="115.34" r="1.65" fill="#92C5EA" stroke="#1c1c1c" stroke-width="0.85"/>
<circle cx="392.90" cy="116.86" r="1.65" fill="#92C5EA" stroke="#1c1c1c" stroke-width="0.85"/>
<circle cx="392.90" cy="118.38" r="1.65" fill="#92C5EA" stroke="#1c1c1c" stroke-width="0.85"/>
<circle cx="392.90" cy="120.28" r="1.65" fill="#92C5EA" stroke="#1c1c1c" stroke-width="0.85"/>
<circle cx="392.90" cy="127.50" r="1.65" fill="#92C5EA" stroke="#1c1c1c" stroke-width="0.85"/>
<text x="466.10" y="16.20" font-size="10.5" text-anchor="middle" fill="#222">J1994_5</text>
<text x="424.60" y="32.40" font-size="10.5" text-anchor="end" fill="#222">INF</text>
<line x1="425.70" y1="29.50" x2="430.00" y2="29.50" stroke="#777" stroke-width="0.9"/>
<line x1="430.50" y1="24.50" x2="430.50" y2="33.70" stroke="#222" stroke-width="0.9"/>
<line x1="427.00" y1="33.50" x2="433.20" y2="33.50" stroke="#222" stroke-width="0.9"/>
<line x1="430.00" y1="42.90" x2="430.00" y2="128.50" stroke="#9a9a9a" stroke-width="1.8"/>
<line x1="427.00" y1="42.50" x2="433.20" y2="42.50" stroke="#222" stroke-width="0.9"/>
<line x1="426.00" y1="128.50" x2="497.00" y2="128.50" stroke="#9a9a9a" stroke-width="1.6"/>
<line x1="425.70" y1="128.50" x2="430.00" y2="128.50" stroke="#333" stroke-width="0.9"/>
<text x="424.70" y="131.20" font-size="9.2" text-anchor="end" fill="#222">0</text>
<line x1="425.70" y1="109.50" x2="430.00" y2="109.50" stroke="#333" stroke-width="0.9"/>
<text x="424.70" y="112.20" font-size="9.2" text-anchor="end" fill="#222">500</text>
<line x1="425.70" y1="90.50" x2="430.00" y2="90.50" stroke="#333" stroke-width="0.9"/>
<text x="424.70" y="93.20" font-size="9.2" text-anchor="end" fill="#222">1000</text>
<line x1="425.70" y1="71.50" x2="430.00" y2="71.50" stroke="#333" stroke-width="0.9"/>
<text x="424.70" y="74.20" font-size="9.2" text-anchor="end" fill="#222">1500</text>
<line x1="425.70" y1="52.50" x2="430.00" y2="52.50" stroke="#333" stroke-width="0.9"/>
<text x="424.70" y="55.20" font-size="9.2" text-anchor="end" fill="#222">2000</text>
<line x1="437.50" y1="128.50" x2="437.50" y2="131.70" stroke="#333" stroke-width="0.9"/>
<text x="440.90" y="134.40" font-size="10.9" text-anchor="end" fill="#222" transform="rotate(-90 440.90 134.40)">G12V</text>
<line x1="448.50" y1="128.50" x2="448.50" y2="131.70" stroke="#333" stroke-width="0.9"/>
<text x="451.80" y="134.40" font-size="10.9" text-anchor="end" fill="#222" transform="rotate(-90 451.80 134.40)">G12A</text>
<line x1="459.50" y1="128.50" x2="459.50" y2="131.70" stroke="#333" stroke-width="0.9"/>
<text x="462.70" y="134.40" font-size="10.9" text-anchor="end" fill="#222" transform="rotate(-90 462.70 134.40)">G12R</text>
<line x1="470.50" y1="128.50" x2="470.50" y2="131.70" stroke="#333" stroke-width="0.9"/>
<text x="473.80" y="134.40" font-size="10.9" text-anchor="end" fill="#222" transform="rotate(-90 473.80 134.40)">G12C</text>
<line x1="481.50" y1="128.50" x2="481.50" y2="131.70" stroke="#333" stroke-width="0.9"/>
<text x="484.90" y="134.40" font-size="10.9" text-anchor="end" fill="#222" transform="rotate(-90 484.90 134.40)">G12D</text>
<line x1="492.50" y1="128.50" x2="492.50" y2="131.70" stroke="#333" stroke-width="0.9"/>
<text x="495.90" y="134.40" font-size="10.9" text-anchor="end" fill="#222" transform="rotate(-90 495.90 134.40)">G13D</text>
<rect x="433.40" y="26.95" width="8.0" height="4.3" rx="2.15" fill="#1e1e1e"/>
<circle cx="435.80" cy="29.10" r="1.1" fill="#F7A21B"/>
<circle cx="439.00" cy="29.10" r="1.1" fill="#F7A21B"/>
<rect x="444.30" y="26.95" width="8.0" height="4.3" rx="2.15" fill="#1e1e1e"/>
<circle cx="446.70" cy="29.10" r="1.1" fill="#E8622A"/>
<circle cx="449.90" cy="29.10" r="1.1" fill="#E8622A"/>
<rect x="455.20" y="26.95" width="8.0" height="4.3" rx="2.15" fill="#1e1e1e"/>
<circle cx="457.60" cy="29.10" r="1.1" fill="#8B1518"/>
<circle cx="460.80" cy="29.10" r="1.1" fill="#8B1518"/>
<rect x="466.30" y="26.95" width="8.0" height="4.3" rx="2.15" fill="#1e1e1e"/>
<circle cx="468.70" cy="29.10" r="1.1" fill="#8E5BB4"/>
<circle cx="471.90" cy="29.10" r="1.1" fill="#8E5BB4"/>
<rect x="477.40" y="26.95" width="8.0" height="4.3" rx="2.15" fill="#1e1e1e"/>
<circle cx="479.80" cy="29.10" r="1.1" fill="#5B7BC2"/>
<circle cx="483.00" cy="29.10" r="1.1" fill="#5B7BC2"/>
<circle cx="492.40" cy="29.10" r="1.6" fill="#92C5EA" stroke="#1c1c1c" stroke-width="0.85"/>
<circle cx="437.40" cy="111.02" r="1.65" fill="#F7A21B" stroke="#1c1c1c" stroke-width="0.85"/>
<circle cx="437.40" cy="112.54" r="1.65" fill="#F7A21B" stroke="#1c1c1c" stroke-width="0.85"/>
<circle cx="437.40" cy="117.86" r="1.65" fill="#F7A21B" stroke="#1c1c1c" stroke-width="0.85"/>
<circle cx="437.40" cy="122.04" r="1.65" fill="#F7A21B" stroke="#1c1c1c" stroke-width="0.85"/>
<circle cx="437.40" cy="123.56" r="1.65" fill="#F7A21B" stroke="#1c1c1c" stroke-width="0.85"/>
<circle cx="437.40" cy="124.70" r="1.65" fill="#F7A21B" stroke="#1c1c1c" stroke-width="0.85"/>
<circle cx="437.40" cy="126.22" r="1.65" fill="#F7A21B" stroke="#1c1c1c" stroke-width="0.85"/>
<circle cx="437.40" cy="127.36" r="1.65" fill="#F7A21B" stroke="#1c1c1c" stroke-width="0.85"/>
<circle cx="448.30" cy="95.44" r="1.65" fill="#E8622A" stroke="#1c1c1c" stroke-width="0.85"/>
<circle cx="448.30" cy="103.04" r="1.65" fill="#E8622A" stroke="#1c1c1c" stroke-width="0.85"/>
<circle cx="448.30" cy="107.22" r="1.65" fill="#E8622A" stroke="#1c1c1c" stroke-width="0.85"/>
<circle cx="448.30" cy="109.12" r="1.65" fill="#E8622A" stroke="#1c1c1c" stroke-width="0.85"/>
<circle cx="448.30" cy="111.59" r="1.65" fill="#E8622A" stroke="#1c1c1c" stroke-width="0.85"/>
<circle cx="448.30" cy="114.44" r="1.65" fill="#E8622A" stroke="#1c1c1c" stroke-width="0.85"/>
<circle cx="448.30" cy="118.62" r="1.65" fill="#E8622A" stroke="#1c1c1c" stroke-width="0.85"/>
<circle cx="448.30" cy="120.14" r="1.65" fill="#E8622A" stroke="#1c1c1c" stroke-width="0.85"/>
<circle cx="448.30" cy="122.80" r="1.65" fill="#E8622A" stroke="#1c1c1c" stroke-width="0.85"/>
<circle cx="448.30" cy="124.70" r="1.65" fill="#E8622A" stroke="#1c1c1c" stroke-width="0.85"/>
<circle cx="448.30" cy="126.60" r="1.65" fill="#E8622A" stroke="#1c1c1c" stroke-width="0.85"/>
<circle cx="459.20" cy="44.90" r="1.65" fill="#8B1518" stroke="#1c1c1c" stroke-width="0.85"/>
<circle cx="459.20" cy="86.70" r="1.65" fill="#8B1518" stroke="#1c1c1c" stroke-width="0.85"/>
<circle cx="459.20" cy="88.22" r="1.65" fill="#8B1518" stroke="#1c1c1c" stroke-width="0.85"/>
<circle cx="459.20" cy="102.28" r="1.65" fill="#8B1518" stroke="#1c1c1c" stroke-width="0.85"/>
<circle cx="459.20" cy="118.24" r="1.65" fill="#8B1518" stroke="#1c1c1c" stroke-width="0.85"/>
<circle cx="459.20" cy="119.38" r="1.65" fill="#8B1518" stroke="#1c1c1c" stroke-width="0.85"/>
<circle cx="459.20" cy="120.90" r="1.65" fill="#8B1518" stroke="#1c1c1c" stroke-width="0.85"/>
<circle cx="459.20" cy="122.80" r="1.65" fill="#8B1518" stroke="#1c1c1c" stroke-width="0.85"/>
<circle cx="459.20" cy="124.32" r="1.65" fill="#8B1518" stroke="#1c1c1c" stroke-width="0.85"/>
<circle cx="459.20" cy="126.22" r="1.65" fill="#8B1518" stroke="#1c1c1c" stroke-width="0.85"/>
<circle cx="459.20" cy="127.74" r="1.65" fill="#8B1518" stroke="#1c1c1c" stroke-width="0.85"/>
<circle cx="470.30" cy="113.49" r="1.65" fill="#8E5BB4" stroke="#1c1c1c" stroke-width="0.85"/>
<circle cx="470.30" cy="115.96" r="1.65" fill="#8E5BB4" stroke="#1c1c1c" stroke-width="0.85"/>
<circle cx="470.30" cy="118.24" r="1.65" fill="#8E5BB4" stroke="#1c1c1c" stroke-width="0.85"/>
<circle cx="470.30" cy="120.14" r="1.65" fill="#8E5BB4" stroke="#1c1c1c" stroke-width="0.85"/>
<circle cx="470.30" cy="122.04" r="1.65" fill="#8E5BB4" stroke="#1c1c1c" stroke-width="0.85"/>
<circle cx="470.30" cy="123.56" r="1.65" fill="#8E5BB4" stroke="#1c1c1c" stroke-width="0.85"/>
<circle cx="470.30" cy="125.08" r="1.65" fill="#8E5BB4" stroke="#1c1c1c" stroke-width="0.85"/>
<circle cx="470.30" cy="126.22" r="1.65" fill="#8E5BB4" stroke="#1c1c1c" stroke-width="0.85"/>
<circle cx="470.30" cy="127.36" r="1.65" fill="#8E5BB4" stroke="#1c1c1c" stroke-width="0.85"/>
<circle cx="470.30" cy="128.31" r="1.65" fill="#8E5BB4" stroke="#1c1c1c" stroke-width="0.85"/>
<circle cx="492.40" cy="120.14" r="1.65" fill="#92C5EA" stroke="#1c1c1c" stroke-width="0.85"/>
<text x="557.00" y="18.30" font-size="10.5" text-anchor="middle" fill="#222">J1994_2</text>
<text x="516.30" y="32.50" font-size="10.5" text-anchor="end" fill="#222">INF</text>
<line x1="516.70" y1="29.50" x2="521.00" y2="29.50" stroke="#777" stroke-width="0.9"/>
<line x1="521.50" y1="24.60" x2="521.50" y2="33.80" stroke="#222" stroke-width="0.9"/>
<line x1="518.00" y1="33.50" x2="524.20" y2="33.50" stroke="#222" stroke-width="0.9"/>
<line x1="521.00" y1="42.90" x2="521.00" y2="129.00" stroke="#9a9a9a" stroke-width="1.8"/>
<line x1="518.00" y1="42.50" x2="524.20" y2="42.50" stroke="#222" stroke-width="0.9"/>
<line x1="517.00" y1="129.50" x2="590.60" y2="129.50" stroke="#333" stroke-width="1.0"/>
<line x1="516.70" y1="129.50" x2="521.00" y2="129.50" stroke="#333" stroke-width="0.9"/>
<text x="515.70" y="131.70" font-size="9.2" text-anchor="end" fill="#222">0</text>
<line x1="516.70" y1="104.50" x2="521.00" y2="104.50" stroke="#333" stroke-width="0.9"/>
<text x="515.70" y="107.20" font-size="9.2" text-anchor="end" fill="#222">500</text>
<line x1="516.70" y1="80.50" x2="521.00" y2="80.50" stroke="#333" stroke-width="0.9"/>
<text x="515.70" y="82.70" font-size="9.2" text-anchor="end" fill="#222">1000</text>
<line x1="516.70" y1="55.50" x2="521.00" y2="55.50" stroke="#333" stroke-width="0.9"/>
<text x="515.70" y="58.20" font-size="9.2" text-anchor="end" fill="#222">1500</text>
<line x1="528.50" y1="129.00" x2="528.50" y2="132.20" stroke="#333" stroke-width="0.9"/>
<text x="531.70" y="134.90" font-size="10.9" text-anchor="end" fill="#222" transform="rotate(-90 531.70 134.90)">G12V</text>
<line x1="539.50" y1="129.00" x2="539.50" y2="132.20" stroke="#333" stroke-width="0.9"/>
<text x="542.70" y="134.90" font-size="10.9" text-anchor="end" fill="#222" transform="rotate(-90 542.70 134.90)">G12A</text>
<line x1="550.50" y1="129.00" x2="550.50" y2="132.20" stroke="#333" stroke-width="0.9"/>
<text x="553.80" y="134.90" font-size="10.9" text-anchor="end" fill="#222" transform="rotate(-90 553.80 134.90)">G12R</text>
<line x1="561.50" y1="129.00" x2="561.50" y2="132.20" stroke="#333" stroke-width="0.9"/>
<text x="564.70" y="134.90" font-size="10.9" text-anchor="end" fill="#222" transform="rotate(-90 564.70 134.90)">G12C</text>
<line x1="572.50" y1="129.00" x2="572.50" y2="132.20" stroke="#333" stroke-width="0.9"/>
<text x="575.60" y="134.90" font-size="10.9" text-anchor="end" fill="#222" transform="rotate(-90 575.60 134.90)">G12D</text>
<line x1="583.50" y1="129.00" x2="583.50" y2="132.20" stroke="#333" stroke-width="0.9"/>
<text x="586.70" y="134.90" font-size="10.9" text-anchor="end" fill="#222" transform="rotate(-90 586.70 134.90)">G13D</text>
<rect x="524.20" y="27.05" width="8.0" height="4.3" rx="2.15" fill="#1e1e1e"/>
<circle cx="526.60" cy="29.20" r="1.1" fill="#F7A21B"/>
<circle cx="529.80" cy="29.20" r="1.1" fill="#F7A21B"/>
<rect x="535.20" y="27.05" width="8.0" height="4.3" rx="2.15" fill="#1e1e1e"/>
<circle cx="537.60" cy="29.20" r="1.1" fill="#E8622A"/>
<circle cx="540.80" cy="29.20" r="1.1" fill="#E8622A"/>
<rect x="546.30" y="27.05" width="8.0" height="4.3" rx="2.15" fill="#1e1e1e"/>
<circle cx="548.70" cy="29.20" r="1.1" fill="#8B1518"/>
<circle cx="551.90" cy="29.20" r="1.1" fill="#8B1518"/>
<rect x="557.20" y="27.05" width="8.0" height="4.3" rx="2.15" fill="#1e1e1e"/>
<circle cx="559.60" cy="29.20" r="1.1" fill="#8E5BB4"/>
<circle cx="562.80" cy="29.20" r="1.1" fill="#8E5BB4"/>
<circle cx="572.10" cy="29.20" r="1.6" fill="#5B7BC2" stroke="#1c1c1c" stroke-width="0.85"/>
<rect x="579.20" y="27.05" width="8.0" height="4.3" rx="2.15" fill="#1e1e1e"/>
<circle cx="581.60" cy="29.20" r="1.1" fill="#92C5EA"/>
<circle cx="584.80" cy="29.20" r="1.1" fill="#92C5EA"/>
<circle cx="539.20" cy="118.71" r="1.65" fill="#E8622A" stroke="#1c1c1c" stroke-width="0.85"/>
<circle cx="539.20" cy="128.51" r="1.65" fill="#E8622A" stroke="#1c1c1c" stroke-width="0.85"/>
<circle cx="550.30" cy="48.15" r="1.65" fill="#8B1518" stroke="#1c1c1c" stroke-width="0.85"/>
<circle cx="550.30" cy="97.10" r="1.65" fill="#8B1518" stroke="#1c1c1c" stroke-width="0.85"/>
<circle cx="550.30" cy="99.21" r="1.65" fill="#8B1518" stroke="#1c1c1c" stroke-width="0.85"/>
<circle cx="550.30" cy="101.41" r="1.65" fill="#8B1518" stroke="#1c1c1c" stroke-width="0.85"/>
<circle cx="550.30" cy="102.78" r="1.65" fill="#8B1518" stroke="#1c1c1c" stroke-width="0.85"/>
<circle cx="550.30" cy="106.02" r="1.65" fill="#8B1518" stroke="#1c1c1c" stroke-width="0.85"/>
<circle cx="550.30" cy="110.62" r="1.65" fill="#8B1518" stroke="#1c1c1c" stroke-width="0.85"/>
<circle cx="550.30" cy="113.52" r="1.65" fill="#8B1518" stroke="#1c1c1c" stroke-width="0.85"/>
<circle cx="550.30" cy="117.00" r="1.65" fill="#8B1518" stroke="#1c1c1c" stroke-width="0.85"/>
<circle cx="550.30" cy="118.12" r="1.65" fill="#8B1518" stroke="#1c1c1c" stroke-width="0.85"/>
<circle cx="550.30" cy="120.62" r="1.65" fill="#8B1518" stroke="#1c1c1c" stroke-width="0.85"/>
<circle cx="550.30" cy="123.02" r="1.65" fill="#8B1518" stroke="#1c1c1c" stroke-width="0.85"/>
<circle cx="550.30" cy="124.79" r="1.65" fill="#8B1518" stroke="#1c1c1c" stroke-width="0.85"/>
<circle cx="550.30" cy="127.68" r="1.65" fill="#8B1518" stroke="#1c1c1c" stroke-width="0.85"/>
<circle cx="561.20" cy="128.26" r="1.65" fill="#8E5BB4" stroke="#1c1c1c" stroke-width="0.85"/>
<circle cx="561.20" cy="128.51" r="1.65" fill="#8E5BB4" stroke="#1c1c1c" stroke-width="0.85"/>
<circle cx="561.20" cy="128.75" r="1.65" fill="#8E5BB4" stroke="#1c1c1c" stroke-width="0.85"/>
<circle cx="572.10" cy="125.08" r="1.65" fill="#5B7BC2" stroke="#1c1c1c" stroke-width="0.85"/>
<circle cx="583.20" cy="122.39" r="1.65" fill="#92C5EA" stroke="#1c1c1c" stroke-width="0.85"/>
<circle cx="583.20" cy="123.12" r="1.65" fill="#92C5EA" stroke="#1c1c1c" stroke-width="0.85"/>
<text x="648.80" y="18.30" font-size="10.5" text-anchor="middle" fill="#222">J1994_6</text>
<text x="610.30" y="32.50" font-size="10.5" text-anchor="end" fill="#222">INF</text>
<line x1="609.10" y1="29.50" x2="613.40" y2="29.50" stroke="#777" stroke-width="0.9"/>
<line x1="613.50" y1="24.60" x2="613.50" y2="33.80" stroke="#222" stroke-width="0.9"/>
<line x1="610.40" y1="33.50" x2="616.60" y2="33.50" stroke="#222" stroke-width="0.9"/>
<line x1="613.40" y1="42.90" x2="613.40" y2="129.30" stroke="#9a9a9a" stroke-width="1.6"/>
<line x1="610.40" y1="42.50" x2="616.60" y2="42.50" stroke="#222" stroke-width="0.9"/>
<line x1="609.40" y1="129.50" x2="682.00" y2="129.50" stroke="#333" stroke-width="1.0"/>
<line x1="609.10" y1="129.50" x2="613.40" y2="129.50" stroke="#333" stroke-width="0.9"/>
<text x="608.10" y="132.00" font-size="9.2" text-anchor="end" fill="#222">0</text>
<line x1="609.10" y1="111.50" x2="613.40" y2="111.50" stroke="#333" stroke-width="0.9"/>
<text x="608.10" y="114.65" font-size="9.2" text-anchor="end" fill="#222">200</text>
<line x1="609.10" y1="94.50" x2="613.40" y2="94.50" stroke="#333" stroke-width="0.9"/>
<text x="608.10" y="97.30" font-size="9.2" text-anchor="end" fill="#222">400</text>
<line x1="609.10" y1="77.50" x2="613.40" y2="77.50" stroke="#333" stroke-width="0.9"/>
<text x="608.10" y="79.95" font-size="9.2" text-anchor="end" fill="#222">600</text>
<line x1="609.10" y1="59.50" x2="613.40" y2="59.50" stroke="#333" stroke-width="0.9"/>
<text x="608.10" y="62.60" font-size="9.2" text-anchor="end" fill="#222">800</text>
<line x1="620.50" y1="129.30" x2="620.50" y2="132.50" stroke="#333" stroke-width="0.9"/>
<text x="623.60" y="135.20" font-size="10.9" text-anchor="end" fill="#222" transform="rotate(-90 623.60 135.20)">G12V</text>
<line x1="630.50" y1="129.30" x2="630.50" y2="132.50" stroke="#333" stroke-width="0.9"/>
<text x="634.30" y="135.20" font-size="10.9" text-anchor="end" fill="#222" transform="rotate(-90 634.30 135.20)">G12A</text>
<line x1="642.50" y1="129.30" x2="642.50" y2="132.50" stroke="#333" stroke-width="0.9"/>
<text x="645.70" y="135.20" font-size="10.9" text-anchor="end" fill="#222" transform="rotate(-90 645.70 135.20)">G12R</text>
<line x1="652.50" y1="129.30" x2="652.50" y2="132.50" stroke="#333" stroke-width="0.9"/>
<text x="656.40" y="135.20" font-size="10.9" text-anchor="end" fill="#222" transform="rotate(-90 656.40 135.20)">G12C</text>
<line x1="664.50" y1="129.30" x2="664.50" y2="132.50" stroke="#333" stroke-width="0.9"/>
<text x="667.50" y="135.20" font-size="10.9" text-anchor="end" fill="#222" transform="rotate(-90 667.50 135.20)">G12D</text>
<line x1="675.50" y1="129.30" x2="675.50" y2="132.50" stroke="#333" stroke-width="0.9"/>
<text x="678.50" y="135.20" font-size="10.9" text-anchor="end" fill="#222" transform="rotate(-90 678.50 135.20)">G13D</text>
<rect x="616.10" y="27.05" width="8.0" height="4.3" rx="2.15" fill="#1e1e1e"/>
<circle cx="618.50" cy="29.20" r="1.1" fill="#F7A21B"/>
<circle cx="621.70" cy="29.20" r="1.1" fill="#F7A21B"/>
<rect x="626.80" y="27.05" width="8.0" height="4.3" rx="2.15" fill="#1e1e1e"/>
<circle cx="629.20" cy="29.20" r="1.1" fill="#E8622A"/>
<circle cx="632.40" cy="29.20" r="1.1" fill="#E8622A"/>
<rect x="638.20" y="27.05" width="8.0" height="4.3" rx="2.15" fill="#1e1e1e"/>
<circle cx="640.60" cy="29.20" r="1.1" fill="#8B1518"/>
<circle cx="643.80" cy="29.20" r="1.1" fill="#8B1518"/>
<rect x="648.90" y="27.05" width="8.0" height="4.3" rx="2.15" fill="#1e1e1e"/>
<circle cx="651.30" cy="29.20" r="1.1" fill="#8E5BB4"/>
<circle cx="654.50" cy="29.20" r="1.1" fill="#8E5BB4"/>
<rect x="660.00" y="27.05" width="8.0" height="4.3" rx="2.15" fill="#1e1e1e"/>
<circle cx="662.40" cy="29.20" r="1.1" fill="#5B7BC2"/>
<circle cx="665.60" cy="29.20" r="1.1" fill="#5B7BC2"/>
<rect x="671.00" y="27.05" width="8.0" height="4.3" rx="2.15" fill="#1e1e1e"/>
<circle cx="673.40" cy="29.20" r="1.1" fill="#92C5EA"/>
<circle cx="676.60" cy="29.20" r="1.1" fill="#92C5EA"/>
<circle cx="620.10" cy="83.76" r="1.65" fill="#F7A21B" stroke="#1c1c1c" stroke-width="0.85"/>
<circle cx="620.10" cy="92.00" r="1.65" fill="#F7A21B" stroke="#1c1c1c" stroke-width="0.85"/>
<circle cx="620.10" cy="95.47" r="1.65" fill="#F7A21B" stroke="#1c1c1c" stroke-width="0.85"/>
<circle cx="620.10" cy="105.01" r="1.65" fill="#F7A21B" stroke="#1c1c1c" stroke-width="0.85"/>
<circle cx="620.10" cy="111.95" r="1.65" fill="#F7A21B" stroke="#1c1c1c" stroke-width="0.85"/>
<circle cx="620.10" cy="116.29" r="1.65" fill="#F7A21B" stroke="#1c1c1c" stroke-width="0.85"/>
<circle cx="620.10" cy="118.89" r="1.65" fill="#F7A21B" stroke="#1c1c1c" stroke-width="0.85"/>
<circle cx="620.10" cy="120.63" r="1.65" fill="#F7A21B" stroke="#1c1c1c" stroke-width="0.85"/>
<circle cx="620.10" cy="124.10" r="1.65" fill="#F7A21B" stroke="#1c1c1c" stroke-width="0.85"/>
<circle cx="630.80" cy="106.75" r="1.65" fill="#E8622A" stroke="#1c1c1c" stroke-width="0.85"/>
<circle cx="630.80" cy="109.35" r="1.65" fill="#E8622A" stroke="#1c1c1c" stroke-width="0.85"/>
<circle cx="630.80" cy="110.22" r="1.65" fill="#E8622A" stroke="#1c1c1c" stroke-width="0.85"/>
<circle cx="630.80" cy="119.76" r="1.65" fill="#E8622A" stroke="#1c1c1c" stroke-width="0.85"/>
<circle cx="630.80" cy="123.23" r="1.65" fill="#E8622A" stroke="#1c1c1c" stroke-width="0.85"/>
<circle cx="630.80" cy="125.83" r="1.65" fill="#E8622A" stroke="#1c1c1c" stroke-width="0.85"/>
<circle cx="630.80" cy="127.57" r="1.65" fill="#E8622A" stroke="#1c1c1c" stroke-width="0.85"/>
<circle cx="630.80" cy="128.43" r="1.65" fill="#E8622A" stroke="#1c1c1c" stroke-width="0.85"/>
<circle cx="642.20" cy="47.76" r="1.65" fill="#8B1518" stroke="#1c1c1c" stroke-width="0.85"/>
<circle cx="642.20" cy="102.41" r="1.65" fill="#8B1518" stroke="#1c1c1c" stroke-width="0.85"/>
<circle cx="642.20" cy="104.14" r="1.65" fill="#8B1518" stroke="#1c1c1c" stroke-width="0.85"/>
<circle cx="642.20" cy="106.75" r="1.65" fill="#8B1518" stroke="#1c1c1c" stroke-width="0.85"/>
<circle cx="642.20" cy="109.35" r="1.65" fill="#8B1518" stroke="#1c1c1c" stroke-width="0.85"/>
<circle cx="642.20" cy="113.69" r="1.65" fill="#8B1518" stroke="#1c1c1c" stroke-width="0.85"/>
<circle cx="642.20" cy="123.23" r="1.65" fill="#8B1518" stroke="#1c1c1c" stroke-width="0.85"/>
<circle cx="642.20" cy="124.96" r="1.65" fill="#8B1518" stroke="#1c1c1c" stroke-width="0.85"/>
<circle cx="652.90" cy="103.28" r="1.65" fill="#8E5BB4" stroke="#1c1c1c" stroke-width="0.85"/>
<circle cx="652.90" cy="108.48" r="1.65" fill="#8E5BB4" stroke="#1c1c1c" stroke-width="0.85"/>
<circle cx="652.90" cy="120.63" r="1.65" fill="#8E5BB4" stroke="#1c1c1c" stroke-width="0.85"/>
<circle cx="652.90" cy="122.36" r="1.65" fill="#8E5BB4" stroke="#1c1c1c" stroke-width="0.85"/>
<circle cx="652.90" cy="124.96" r="1.65" fill="#8E5BB4" stroke="#1c1c1c" stroke-width="0.85"/>
<circle cx="652.90" cy="128.43" r="1.65" fill="#8E5BB4" stroke="#1c1c1c" stroke-width="0.85"/>
<circle cx="664.00" cy="64.24" r="1.65" fill="#5B7BC2" stroke="#1c1c1c" stroke-width="0.85"/>
<circle cx="664.00" cy="128.43" r="1.65" fill="#5B7BC2" stroke="#1c1c1c" stroke-width="0.85"/>
<circle cx="675.00" cy="76.38" r="1.65" fill="#92C5EA" stroke="#1c1c1c" stroke-width="0.85"/>
<circle cx="675.00" cy="109.35" r="1.65" fill="#92C5EA" stroke="#1c1c1c" stroke-width="0.85"/>
<circle cx="675.00" cy="111.95" r="1.65" fill="#92C5EA" stroke="#1c1c1c" stroke-width="0.85"/>
<circle cx="675.00" cy="118.02" r="1.65" fill="#92C5EA" stroke="#1c1c1c" stroke-width="0.85"/>
<circle cx="675.00" cy="126.70" r="1.65" fill="#92C5EA" stroke="#1c1c1c" stroke-width="0.85"/>
<circle cx="675.00" cy="128.43" r="1.65" fill="#92C5EA" stroke="#1c1c1c" stroke-width="0.85"/>
<text x="4.30" y="192.60" font-size="16.5" text-anchor="start" fill="#111" font-weight="bold">c</text>
<text x="14.00" y="265.20" font-size="9.2" text-anchor="middle" fill="#222" transform="rotate(-90 14.00 265.20)"># IFNγ spots per 1x10<tspan font-size="5.5" dy="-3.5">6</tspan><tspan dy="3.5"> cells</tspan></text>
<text x="24.20" y="268.50" font-size="9.2" text-anchor="middle" fill="#222" transform="rotate(-90 24.20 268.50)">of expanded PBMCs</text>
<text x="79.90" y="212.00" font-size="10.5" text-anchor="middle" fill="#222">J1994_5</text>
<line x1="50.50" y1="222.10" x2="50.50" y2="323.30" stroke="#333" stroke-width="1.0"/>
<line x1="46.60" y1="322.50" x2="50.30" y2="322.50" stroke="#333" stroke-width="0.9"/>
<text x="45.10" y="325.00" font-size="7.9" text-anchor="end" fill="#222">0</text>
<line x1="46.60" y1="302.50" x2="50.30" y2="302.50" stroke="#333" stroke-width="0.9"/>
<text x="45.10" y="305.00" font-size="7.9" text-anchor="end" fill="#222">1000</text>
<line x1="46.60" y1="282.50" x2="50.30" y2="282.50" stroke="#333" stroke-width="0.9"/>
<text x="45.10" y="285.00" font-size="7.9" text-anchor="end" fill="#222">2000</text>
<line x1="46.60" y1="262.50" x2="50.30" y2="262.50" stroke="#333" stroke-width="0.9"/>
<text x="45.10" y="265.00" font-size="7.9" text-anchor="end" fill="#222">3000</text>
<line x1="46.60" y1="242.50" x2="50.30" y2="242.50" stroke="#333" stroke-width="0.9"/>
<text x="45.10" y="245.00" font-size="7.9" text-anchor="end" fill="#222">4000</text>
<line x1="46.60" y1="222.50" x2="50.30" y2="222.50" stroke="#333" stroke-width="0.9"/>
<text x="45.10" y="225.00" font-size="7.9" text-anchor="end" fill="#222">5000</text>
<line x1="52.50" y1="323.90" x2="120.80" y2="323.90" stroke="#8a8a8a" stroke-width="1.8"/>
<line x1="69.50" y1="323.70" x2="69.50" y2="327.20" stroke="#333" stroke-width="0.9"/>
<line x1="98.50" y1="323.70" x2="98.50" y2="327.20" stroke="#333" stroke-width="0.9"/>
<g transform="translate(71.30,331.70) rotate(-45)"><text x="0" y="0" font-size="7.7" text-anchor="end" fill="#222">Baseline</text></g>
<g transform="translate(100.20,331.70) rotate(-45)"><text x="0" y="0" font-size="7.7" text-anchor="end" fill="#222">Post-vaccine</text><text x="-22.04" y="9.6" font-size="7.7" text-anchor="middle" fill="#222">(Week 52)</text></g>
<line x1="69.50" y1="322.10" x2="98.40" y2="322.10" stroke="#bbb" stroke-width="1.6"/>
<line x1="69.50" y1="322.10" x2="98.40" y2="282.60" stroke="#5B72BF" stroke-width="0.9"/>
<line x1="69.50" y1="322.10" x2="98.40" y2="279.10" stroke="#7E4CA8" stroke-width="0.9"/>
<line x1="69.50" y1="322.10" x2="98.40" y2="272.80" stroke="#7C1315" stroke-width="0.9"/>
<line x1="69.50" y1="322.10" x2="98.40" y2="263.20" stroke="#9CCBEE" stroke-width="0.9"/>
<line x1="69.50" y1="322.10" x2="98.40" y2="256.70" stroke="#F5A33C" stroke-width="0.9"/>
<line x1="69.50" y1="322.10" x2="98.40" y2="238.30" stroke="#E3602A" stroke-width="0.9"/>
<rect x="96.40" y="252.40" width="4.00" height="4.00" fill="#888" stroke="#222" stroke-width="0.8"/>
<circle cx="98.40" cy="282.60" r="1.85" fill="#5B72BF" stroke="#222" stroke-width="0.8"/>
<rect x="96.40" y="277.10" width="4.00" height="4.00" fill="#7E4CA8" stroke="#222" stroke-width="0.8"/>
<rect x="96.40" y="270.80" width="4.00" height="4.00" fill="#7C1315" stroke="#222" stroke-width="0.8"/>
<circle cx="98.40" cy="263.20" r="1.85" fill="#9CCBEE" stroke="#222" stroke-width="0.8"/>
<circle cx="98.40" cy="256.70" r="1.85" fill="#F5A33C" stroke="#222" stroke-width="0.8"/>
<circle cx="98.40" cy="238.30" r="1.85" fill="#E3602A" stroke="#222" stroke-width="0.8"/>
<circle cx="98.40" cy="322.10" r="1.85" fill="#fff" stroke="#222" stroke-width="0.8"/>
<circle cx="69.50" cy="322.10" r="1.85" fill="#9CCBEE" stroke="#222" stroke-width="0.8"/>
<text x="101.80" y="240.00" font-size="4.7" text-anchor="start" fill="#555">p&lt;0.0001</text>
<text x="101.80" y="258.20" font-size="4.7" text-anchor="start" fill="#555">p&lt;0.0001</text>
<text x="101.80" y="265.10" font-size="4.7" text-anchor="start" fill="#555">p&lt;0.0001</text>
<text x="101.80" y="273.60" font-size="4.7" text-anchor="start" fill="#555">p&lt;0.0001</text>
<text x="101.80" y="278.40" font-size="4.7" text-anchor="start" fill="#555">p&lt;0.0001</text>
<text x="101.80" y="285.90" font-size="4.7" text-anchor="start" fill="#555">p&lt;0.0001</text>
<line x1="109.50" y1="287.00" x2="109.50" y2="320.80" stroke="#444" stroke-width="0.9"/>
<line x1="103.50" y1="320.50" x2="109.00" y2="320.50" stroke="#444" stroke-width="0.9"/>
<text x="173.60" y="211.30" font-size="10.5" text-anchor="middle" fill="#222">J1994_2</text>
<line x1="142.50" y1="218.40" x2="142.50" y2="323.10" stroke="#333" stroke-width="1.0"/>
<line x1="138.80" y1="321.50" x2="142.50" y2="321.50" stroke="#333" stroke-width="0.9"/>
<text x="137.30" y="324.80" font-size="7.9" text-anchor="end" fill="#222">0</text>
<line x1="138.80" y1="301.50" x2="142.50" y2="301.50" stroke="#333" stroke-width="0.9"/>
<text x="137.30" y="304.10" font-size="7.9" text-anchor="end" fill="#222">100</text>
<line x1="138.80" y1="280.50" x2="142.50" y2="280.50" stroke="#333" stroke-width="0.9"/>
<text x="137.30" y="283.40" font-size="7.9" text-anchor="end" fill="#222">200</text>
<line x1="138.80" y1="259.50" x2="142.50" y2="259.50" stroke="#333" stroke-width="0.9"/>
<text x="137.30" y="262.70" font-size="7.9" text-anchor="end" fill="#222">300</text>
<line x1="138.80" y1="239.50" x2="142.50" y2="239.50" stroke="#333" stroke-width="0.9"/>
<text x="137.30" y="242.00" font-size="7.9" text-anchor="end" fill="#222">400</text>
<line x1="138.80" y1="218.50" x2="142.50" y2="218.50" stroke="#333" stroke-width="0.9"/>
<text x="137.30" y="221.30" font-size="7.9" text-anchor="end" fill="#222">500</text>
<line x1="144.70" y1="323.70" x2="212.40" y2="323.70" stroke="#8a8a8a" stroke-width="1.8"/>
<line x1="162.50" y1="323.50" x2="162.50" y2="327.00" stroke="#333" stroke-width="0.9"/>
<line x1="192.50" y1="323.50" x2="192.50" y2="327.00" stroke="#333" stroke-width="0.9"/>
<g transform="translate(164.50,331.50) rotate(-45)"><text x="0" y="0" font-size="8.1" text-anchor="end" fill="#222">Baseline</text></g>
<g transform="translate(194.50,331.50) rotate(-45)"><text x="0" y="0" font-size="8.1" text-anchor="end" fill="#222">Post-vaccine</text><text x="-23.18" y="9.6" font-size="8.1" text-anchor="middle" fill="#222">(Week 52)</text></g>
<line x1="162.50" y1="308.00" x2="162.50" y2="321.00" stroke="#555" stroke-width="0.9"/>
<line x1="160.80" y1="308.50" x2="164.60" y2="308.50" stroke="#555" stroke-width="0.9"/>
<line x1="160.80" y1="316.50" x2="164.60" y2="316.50" stroke="#555" stroke-width="0.9"/>
<line x1="192.50" y1="241.40" x2="192.50" y2="305.10" stroke="#666" stroke-width="1.0"/>
<line x1="190.60" y1="241.50" x2="194.80" y2="241.50" stroke="#444" stroke-width="0.9"/>
<line x1="190.60" y1="283.50" x2="194.80" y2="283.50" stroke="#444" stroke-width="0.9"/>
<line x1="190.60" y1="305.50" x2="194.80" y2="305.50" stroke="#444" stroke-width="0.9"/>
<line x1="162.70" y1="320.90" x2="192.70" y2="320.50" stroke="#F5A33C" stroke-width="0.9"/>
<line x1="162.70" y1="320.90" x2="192.70" y2="320.00" stroke="#E3602A" stroke-width="0.9"/>
<line x1="162.70" y1="320.90" x2="192.70" y2="321.20" stroke="#7E4CA8" stroke-width="0.9"/>
<line x1="162.70" y1="320.90" x2="192.70" y2="294.40" stroke="#5B72BF" stroke-width="0.9"/>
<line x1="162.70" y1="320.90" x2="192.70" y2="313.80" stroke="#9CCBEE" stroke-width="0.9"/>
<line x1="162.70" y1="320.90" x2="192.70" y2="268.70" stroke="#7C1315" stroke-width="0.9"/>
<line x1="162.70" y1="321.50" x2="192.70" y2="321.50" stroke="#bbb" stroke-width="1.2"/>
<circle cx="162.70" cy="322.90" r="1.85" fill="#7C1315" stroke="#222" stroke-width="0.8"/>
<circle cx="162.70" cy="321.90" r="1.85" fill="#F5A33C" stroke="#222" stroke-width="0.8"/>
<circle cx="162.70" cy="320.40" r="1.85" fill="#9CCBEE" stroke="#222" stroke-width="0.8"/>
<circle cx="192.70" cy="319.40" r="1.85" fill="#E3602A" stroke="#222" stroke-width="0.8"/>
<rect x="190.70" y="319.30" width="4.00" height="4.00" fill="#7E4CA8" stroke="#222" stroke-width="0.8"/>
<circle cx="192.70" cy="313.80" r="1.85" fill="#9CCBEE" stroke="#222" stroke-width="0.8"/>
<circle cx="192.70" cy="294.40" r="1.85" fill="#5B72BF" stroke="#222" stroke-width="0.8"/>
<circle cx="192.70" cy="268.70" r="1.85" fill="#7C1315" stroke="#222" stroke-width="0.8"/>
<text x="197.10" y="270.50" font-size="4.7" text-anchor="start" fill="#555">p=0.0002</text>
<text x="197.10" y="296.10" font-size="4.7" text-anchor="start" fill="#555">p=0.0429</text>
<line x1="204.50" y1="298.00" x2="204.50" y2="320.50" stroke="#444" stroke-width="0.9"/>
<line x1="198.20" y1="320.50" x2="204.60" y2="320.50" stroke="#444" stroke-width="0.9"/>
<text x="267.40" y="212.30" font-size="10.5" text-anchor="middle" fill="#222">J1994_6</text>
<line x1="237.50" y1="219.40" x2="237.50" y2="323.50" stroke="#333" stroke-width="1.0"/>
<line x1="233.90" y1="322.50" x2="237.60" y2="322.50" stroke="#333" stroke-width="0.9"/>
<text x="232.40" y="325.20" font-size="7.9" text-anchor="end" fill="#222">0</text>
<line x1="233.90" y1="288.50" x2="237.60" y2="288.50" stroke="#333" stroke-width="0.9"/>
<text x="232.40" y="290.90" font-size="7.9" text-anchor="end" fill="#222">1000</text>
<line x1="233.90" y1="253.50" x2="237.60" y2="253.50" stroke="#333" stroke-width="0.9"/>
<text x="232.40" y="256.60" font-size="7.9" text-anchor="end" fill="#222">2000</text>
<line x1="233.90" y1="219.50" x2="237.60" y2="219.50" stroke="#333" stroke-width="0.9"/>
<text x="232.40" y="222.30" font-size="7.9" text-anchor="end" fill="#222">3000</text>
<line x1="239.80" y1="324.10" x2="307.10" y2="324.10" stroke="#8a8a8a" stroke-width="1.8"/>
<line x1="256.50" y1="323.90" x2="256.50" y2="327.40" stroke="#333" stroke-width="0.9"/>
<line x1="286.50" y1="323.90" x2="286.50" y2="327.40" stroke="#333" stroke-width="0.9"/>
<g transform="translate(258.70,331.90) rotate(-45)"><text x="0" y="0" font-size="8.1" text-anchor="end" fill="#222">Baseline</text></g>
<g transform="translate(288.70,331.90) rotate(-45)"><text x="0" y="0" font-size="8.1" text-anchor="end" fill="#222">Post-vaccine</text><text x="-23.18" y="9.6" font-size="8.1" text-anchor="middle" fill="#222">(Week 52)</text></g>
<line x1="286.50" y1="266.40" x2="286.50" y2="280.30" stroke="#555" stroke-width="0.9"/>
<line x1="284.80" y1="266.50" x2="289.00" y2="266.50" stroke="#555" stroke-width="0.9"/>
<line x1="284.80" y1="280.50" x2="289.00" y2="280.50" stroke="#555" stroke-width="0.9"/>
<line x1="286.50" y1="303.50" x2="286.50" y2="310.30" stroke="#555" stroke-width="0.9"/>
<line x1="284.80" y1="303.50" x2="289.00" y2="303.50" stroke="#555" stroke-width="0.9"/>
<line x1="284.80" y1="310.50" x2="289.00" y2="310.50" stroke="#555" stroke-width="0.9"/>
<line x1="256.90" y1="322.30" x2="286.90" y2="239.80" stroke="#7C1315" stroke-width="0.9"/>
<line x1="256.90" y1="322.30" x2="286.90" y2="274.50" stroke="#F5A33C" stroke-width="1.6"/>
<line x1="256.90" y1="322.30" x2="286.90" y2="273.50" stroke="#E3602A" stroke-width="1.2"/>
<line x1="256.90" y1="322.30" x2="286.90" y2="294.50" stroke="#9CCBEE" stroke-width="0.9"/>
<line x1="256.90" y1="322.30" x2="286.90" y2="306.90" stroke="#7E4CA8" stroke-width="0.9"/>
<line x1="256.90" y1="322.30" x2="286.90" y2="317.90" stroke="#5B72BF" stroke-width="0.9"/>
<line x1="256.90" y1="322.50" x2="286.90" y2="322.50" stroke="#bbb" stroke-width="1.2"/>
<circle cx="286.90" cy="239.80" r="1.85" fill="#7C1315" stroke="#222" stroke-width="0.8"/>
<circle cx="286.90" cy="273.50" r="1.85" fill="#E3602A" stroke="#222" stroke-width="0.8"/>
<circle cx="286.90" cy="294.50" r="1.85" fill="#9CCBEE" stroke="#222" stroke-width="0.8"/>
<rect x="284.90" y="304.90" width="4.00" height="4.00" fill="#7E4CA8" stroke="#222" stroke-width="0.8"/>
<rect x="284.90" y="315.90" width="4.00" height="4.00" fill="#5B72BF" stroke="#222" stroke-width="0.8"/>
<circle cx="286.90" cy="322.30" r="1.85" fill="#eee" stroke="#222" stroke-width="0.8"/>
<circle cx="256.90" cy="322.30" r="1.85" fill="#9CCBEE" stroke="#222" stroke-width="0.8"/>
<text x="290.90" y="241.50" font-size="4.7" text-anchor="start" fill="#555">p&lt;0.0001</text>
<text x="290.90" y="271.90" font-size="4.7" text-anchor="start" fill="#555">p&lt;0.0001</text>
<text x="290.90" y="277.10" font-size="4.7" text-anchor="start" fill="#555">p&lt;0.0001</text>
<text x="290.90" y="296.20" font-size="4.7" text-anchor="start" fill="#555">p&lt;0.0001</text>
<text x="290.90" y="307.20" font-size="4.7" text-anchor="start" fill="#555">p&lt;0.0001</text>
<line x1="297.50" y1="310.80" x2="297.50" y2="320.50" stroke="#444" stroke-width="0.9"/>
<line x1="292.40" y1="320.50" x2="297.90" y2="320.50" stroke="#444" stroke-width="0.9"/>
<line x1="322.30" y1="214.50" x2="334.60" y2="214.50" stroke="#555" stroke-width="1.0"/>
<circle cx="328.60" cy="214.20" r="2.4" fill="#fff" stroke="#333" stroke-width="0.7"/>
<text x="337.50" y="217.50" font-size="9.4" text-anchor="start" fill="#222">Control</text>
<line x1="322.30" y1="230.50" x2="334.60" y2="230.50" stroke="#F9C98A" stroke-width="1.0"/>
<circle cx="328.60" cy="230.10" r="2.4" fill="#F5A33C" stroke="#333" stroke-width="0.7"/>
<text x="337.50" y="233.40" font-size="9.4" text-anchor="start" fill="#222">G12V</text>
<line x1="322.30" y1="246.50" x2="334.60" y2="246.50" stroke="#EE9A78" stroke-width="1.0"/>
<circle cx="328.60" cy="246.00" r="2.4" fill="#E3602A" stroke="#333" stroke-width="0.7"/>
<text x="337.50" y="249.30" font-size="9.4" text-anchor="start" fill="#222">G12A</text>
<line x1="322.30" y1="261.50" x2="334.60" y2="261.50" stroke="#A05050" stroke-width="1.0"/>
<circle cx="328.60" cy="261.90" r="2.4" fill="#7C1315" stroke="#333" stroke-width="0.7"/>
<text x="337.50" y="265.20" font-size="9.4" text-anchor="start" fill="#222">G12R</text>
<line x1="322.30" y1="277.50" x2="334.60" y2="277.50" stroke="#A88AC8" stroke-width="1.0"/>
<circle cx="328.60" cy="277.80" r="2.4" fill="#7E4CA8" stroke="#333" stroke-width="0.7"/>
<text x="337.50" y="281.10" font-size="9.4" text-anchor="start" fill="#222">G12C</text>
<line x1="322.30" y1="293.50" x2="334.60" y2="293.50" stroke="#95A5D8" stroke-width="1.0"/>
<circle cx="328.60" cy="293.70" r="2.4" fill="#5B72BF" stroke="#333" stroke-width="0.7"/>
<text x="337.50" y="297.00" font-size="9.4" text-anchor="start" fill="#222">G12D</text>
<line x1="322.30" y1="309.50" x2="334.60" y2="309.50" stroke="#C4E0F5" stroke-width="1.0"/>
<circle cx="328.60" cy="309.60" r="2.4" fill="#9CCBEE" stroke="#333" stroke-width="0.7"/>
<text x="337.50" y="312.90" font-size="9.4" text-anchor="start" fill="#222">G13D</text>
<text x="384.20" y="191.90" font-size="15.5" text-anchor="start" fill="#111" font-weight="bold">d</text>
<rect x="421.80" y="212.30" width="29.80" height="15.60" fill="#F79A1C"/>
<rect x="451.60" y="212.30" width="18.80" height="15.60" fill="#E15D2A"/>
<rect x="470.40" y="212.30" width="31.20" height="15.60" fill="#7A1416"/>
<rect x="501.60" y="212.30" width="21.80" height="15.60" fill="#8757A6"/>
<rect x="523.40" y="212.30" width="10.00" height="15.60" fill="#6A80C1"/>
<rect x="533.40" y="212.30" width="19.30" height="15.60" fill="#9DC8EA"/>
<rect x="552.70" y="212.30" width="28.50" height="15.60" fill="#D9D9D9"/>
<line x1="451.50" y1="212.30" x2="451.50" y2="227.90" stroke="#222" stroke-width="0.8"/>
<line x1="470.50" y1="212.30" x2="470.50" y2="227.90" stroke="#222" stroke-width="0.8"/>
<line x1="501.50" y1="212.30" x2="501.50" y2="227.90" stroke="#222" stroke-width="0.8"/>
<line x1="523.50" y1="212.30" x2="523.50" y2="227.90" stroke="#222" stroke-width="0.8"/>
<line x1="533.50" y1="212.30" x2="533.50" y2="227.90" stroke="#222" stroke-width="0.8"/>
<line x1="552.50" y1="212.30" x2="552.50" y2="227.90" stroke="#222" stroke-width="0.8"/>
<rect x="421.80" y="212.30" width="159.40" height="15.6" fill="none" stroke="#222" stroke-width="0.9"/>
<line x1="417.60" y1="220.50" x2="421.80" y2="220.50" stroke="#333" stroke-width="0.9"/>
<text x="415.10" y="223.70" font-size="10" text-anchor="end" fill="#222">6</text>
<rect x="421.80" y="237.50" width="9.20" height="15.60" fill="#F79A1C"/>
<rect x="431.00" y="237.50" width="7.40" height="15.60" fill="#E15D2A"/>
<rect x="438.40" y="237.50" width="98.00" height="15.60" fill="#7A1416"/>
<rect x="536.40" y="237.50" width="10.00" height="15.60" fill="#8757A6"/>
<rect x="546.40" y="237.50" width="3.10" height="15.60" fill="#6A80C1"/>
<rect x="549.50" y="237.50" width="20.10" height="15.60" fill="#9DC8EA"/>
<rect x="569.60" y="237.50" width="11.60" height="15.60" fill="#D9D9D9"/>
<line x1="431.50" y1="237.50" x2="431.50" y2="253.10" stroke="#222" stroke-width="0.8"/>
<line x1="438.50" y1="237.50" x2="438.50" y2="253.10" stroke="#222" stroke-width="0.8"/>
<line x1="536.50" y1="237.50" x2="536.50" y2="253.10" stroke="#222" stroke-width="0.8"/>
<line x1="546.50" y1="237.50" x2="546.50" y2="253.10" stroke="#222" stroke-width="0.8"/>
<line x1="549.50" y1="237.50" x2="549.50" y2="253.10" stroke="#222" stroke-width="0.8"/>
<line x1="569.50" y1="237.50" x2="569.50" y2="253.10" stroke="#222" stroke-width="0.8"/>
<rect x="421.80" y="237.50" width="159.40" height="15.6" fill="none" stroke="#222" stroke-width="0.9"/>
<line x1="417.60" y1="245.50" x2="421.80" y2="245.50" stroke="#333" stroke-width="0.9"/>
<text x="415.10" y="248.90" font-size="10" text-anchor="end" fill="#222">2</text>
<rect x="421.80" y="262.40" width="17.70" height="15.60" fill="#F79A1C"/>
<rect x="439.50" y="262.40" width="29.70" height="15.60" fill="#E15D2A"/>
<rect x="469.20" y="262.40" width="33.20" height="15.60" fill="#7A1416"/>
<rect x="502.40" y="262.40" width="29.40" height="15.60" fill="#8757A6"/>
<rect x="531.80" y="262.40" width="3.50" height="15.60" fill="#6A80C1"/>
<rect x="535.30" y="262.40" width="2.40" height="15.60" fill="#9DC8EA"/>
<rect x="537.70" y="262.40" width="43.50" height="15.60" fill="#D9D9D9"/>
<line x1="439.50" y1="262.40" x2="439.50" y2="278.00" stroke="#222" stroke-width="0.8"/>
<line x1="469.50" y1="262.40" x2="469.50" y2="278.00" stroke="#222" stroke-width="0.8"/>
<line x1="502.50" y1="262.40" x2="502.50" y2="278.00" stroke="#222" stroke-width="0.8"/>
<line x1="531.50" y1="262.40" x2="531.50" y2="278.00" stroke="#222" stroke-width="0.8"/>
<line x1="535.50" y1="262.40" x2="535.50" y2="278.00" stroke="#222" stroke-width="0.8"/>
<line x1="537.50" y1="262.40" x2="537.50" y2="278.00" stroke="#222" stroke-width="0.8"/>
<rect x="421.80" y="262.40" width="159.40" height="15.6" fill="none" stroke="#222" stroke-width="0.9"/>
<line x1="417.60" y1="270.50" x2="421.80" y2="270.50" stroke="#333" stroke-width="0.9"/>
<text x="415.10" y="273.80" font-size="10" text-anchor="end" fill="#222">5</text>
<rect x="421.80" y="286.80" width="10.60" height="15.60" fill="#F79A1C"/>
<rect x="432.40" y="286.80" width="25.80" height="15.60" fill="#E15D2A"/>
<rect x="458.20" y="286.80" width="32.40" height="15.60" fill="#7A1416"/>
<rect x="490.60" y="286.80" width="21.80" height="15.60" fill="#8757A6"/>
<rect x="512.40" y="286.80" width="9.00" height="15.60" fill="#6A80C1"/>
<rect x="521.40" y="286.80" width="11.00" height="15.60" fill="#9DC8EA"/>
<rect x="532.40" y="286.80" width="48.80" height="15.60" fill="#D9D9D9"/>
<line x1="432.50" y1="286.80" x2="432.50" y2="302.40" stroke="#222" stroke-width="0.8"/>
<line x1="458.50" y1="286.80" x2="458.50" y2="302.40" stroke="#222" stroke-width="0.8"/>
<line x1="490.50" y1="286.80" x2="490.50" y2="302.40" stroke="#222" stroke-width="0.8"/>
<line x1="512.50" y1="286.80" x2="512.50" y2="302.40" stroke="#222" stroke-width="0.8"/>
<line x1="521.50" y1="286.80" x2="521.50" y2="302.40" stroke="#222" stroke-width="0.8"/>
<line x1="532.50" y1="286.80" x2="532.50" y2="302.40" stroke="#222" stroke-width="0.8"/>
<rect x="421.80" y="286.80" width="159.40" height="15.6" fill="none" stroke="#222" stroke-width="0.9"/>
<line x1="417.60" y1="294.50" x2="421.80" y2="294.50" stroke="#333" stroke-width="0.9"/>
<text x="415.10" y="298.20" font-size="10" text-anchor="end" fill="#222">12</text>
<line x1="421.50" y1="203.40" x2="421.50" y2="311.20" stroke="#333" stroke-width="1.0"/>
<line x1="421.80" y1="310.50" x2="581.70" y2="310.50" stroke="#333" stroke-width="1.0"/>
<line x1="421.50" y1="310.80" x2="421.50" y2="315.00" stroke="#333" stroke-width="0.9"/>
<line x1="429.50" y1="310.80" x2="429.50" y2="313.40" stroke="#333" stroke-width="0.9"/>
<line x1="437.50" y1="310.80" x2="437.50" y2="313.40" stroke="#333" stroke-width="0.9"/>
<line x1="445.50" y1="310.80" x2="445.50" y2="313.40" stroke="#333" stroke-width="0.9"/>
<line x1="453.50" y1="310.80" x2="453.50" y2="313.40" stroke="#333" stroke-width="0.9"/>
<line x1="461.50" y1="310.80" x2="461.50" y2="313.40" stroke="#333" stroke-width="0.9"/>
<line x1="469.50" y1="310.80" x2="469.50" y2="313.40" stroke="#333" stroke-width="0.9"/>
<line x1="477.50" y1="310.80" x2="477.50" y2="313.40" stroke="#333" stroke-width="0.9"/>
<line x1="485.50" y1="310.80" x2="485.50" y2="313.40" stroke="#333" stroke-width="0.9"/>
<line x1="493.50" y1="310.80" x2="493.50" y2="313.40" stroke="#333" stroke-width="0.9"/>
<line x1="501.50" y1="310.80" x2="501.50" y2="315.00" stroke="#333" stroke-width="0.9"/>
<line x1="509.50" y1="310.80" x2="509.50" y2="313.40" stroke="#333" stroke-width="0.9"/>
<line x1="517.50" y1="310.80" x2="517.50" y2="313.40" stroke="#333" stroke-width="0.9"/>
<line x1="525.50" y1="310.80" x2="525.50" y2="313.40" stroke="#333" stroke-width="0.9"/>
<line x1="533.50" y1="310.80" x2="533.50" y2="313.40" stroke="#333" stroke-width="0.9"/>
<line x1="541.50" y1="310.80" x2="541.50" y2="313.40" stroke="#333" stroke-width="0.9"/>
<line x1="549.50" y1="310.80" x2="549.50" y2="313.40" stroke="#333" stroke-width="0.9"/>
<line x1="557.50" y1="310.80" x2="557.50" y2="313.40" stroke="#333" stroke-width="0.9"/>
<line x1="565.50" y1="310.80" x2="565.50" y2="313.40" stroke="#333" stroke-width="0.9"/>
<line x1="573.50" y1="310.80" x2="573.50" y2="313.40" stroke="#333" stroke-width="0.9"/>
<line x1="581.50" y1="310.80" x2="581.50" y2="315.00" stroke="#333" stroke-width="0.9"/>
<text x="422.30" y="324.60" font-size="10.4" text-anchor="middle" fill="#222">0</text>
<text x="502.00" y="324.60" font-size="10.4" text-anchor="middle" fill="#222">50</text>
<text x="581.70" y="324.60" font-size="10.4" text-anchor="middle" fill="#222">100</text>
<text x="509.90" y="337.00" font-size="10.25" text-anchor="middle" fill="#222">% of expanded TCRs</text>
<text x="397.80" y="254.00" font-size="10" text-anchor="middle" fill="#222" transform="rotate(-90 397.80 254.00)">Patient ID</text>
<rect x="597.20" y="210.80" width="11.40" height="6.40" fill="#F79A1C" stroke="#333" stroke-width="0.8"/>
<text x="615.30" y="217.60" font-size="10" text-anchor="start" fill="#222">G12V</text>
<rect x="597.20" y="225.40" width="11.40" height="6.40" fill="#E15D2A" stroke="#333" stroke-width="0.8"/>
<text x="615.30" y="232.20" font-size="10" text-anchor="start" fill="#222">G12A</text>
<rect x="597.20" y="240.20" width="11.40" height="6.40" fill="#7A1416" stroke="#333" stroke-width="0.8"/>
<text x="615.30" y="247.00" font-size="10" text-anchor="start" fill="#222">G12R</text>
<rect x="597.20" y="255.40" width="11.40" height="6.40" fill="#8757A6" stroke="#333" stroke-width="0.8"/>
<text x="615.30" y="262.20" font-size="10" text-anchor="start" fill="#222">G12C</text>
<rect x="597.20" y="270.40" width="11.40" height="6.40" fill="#6A80C1" stroke="#333" stroke-width="0.8"/>
<text x="615.30" y="277.20" font-size="10" text-anchor="start" fill="#222">G12D</text>
<rect x="597.20" y="285.20" width="11.40" height="6.40" fill="#9DC8EA" stroke="#333" stroke-width="0.8"/>
<text x="615.30" y="292.00" font-size="10" text-anchor="start" fill="#222">G13D</text>
<rect x="597.20" y="300.40" width="11.40" height="6.40" fill="#D9D9D9" stroke="#333" stroke-width="0.8"/>
<text x="615.30" y="307.20" font-size="10" text-anchor="start" fill="#222">Cross-reactive</text>
<text x="4.40" y="379.60" font-size="16.5" text-anchor="start" fill="#111" font-weight="bold">e</text>
<text x="124.40" y="395.50" font-size="10.7" text-anchor="middle" fill="#222">J1994_12</text>
<text x="124.40" y="408.00" font-size="10.85" text-anchor="middle" fill="#222">Cross-reactive TCRs</text>
<rect x="28.30" y="547.40" width="195.70" height="12.00" fill="#F1F2F4"/>
<rect x="28.30" y="571.40" width="195.70" height="12.00" fill="#F1F2F4"/>
<rect x="28.30" y="595.40" width="195.70" height="12.00" fill="#F1F2F4"/>
<rect x="30.65" y="408.30" width="3.50" height="135.00" fill="#555555"/>
<rect x="35.88" y="419.55" width="3.50" height="123.75" fill="#555555"/>
<rect x="41.11" y="430.80" width="3.50" height="112.50" fill="#555555"/>
<rect x="46.34" y="430.80" width="3.50" height="112.50" fill="#555555"/>
<rect x="51.57" y="453.30" width="3.50" height="90.00" fill="#555555"/>
<rect x="56.80" y="487.05" width="3.50" height="56.25" fill="#555555"/>
<rect x="62.03" y="487.05" width="3.50" height="56.25" fill="#555555"/>
<rect x="67.26" y="487.05" width="3.50" height="56.25" fill="#555555"/>
<rect x="72.49" y="498.30" width="3.50" height="45.00" fill="#555555"/>
<rect x="77.72" y="498.30" width="3.50" height="45.00" fill="#555555"/>
<rect x="82.95" y="498.30" width="3.50" height="45.00" fill="#555555"/>
<rect x="88.18" y="509.55" width="3.50" height="33.75" fill="#555555"/>
<rect x="93.41" y="509.55" width="3.50" height="33.75" fill="#555555"/>
<rect x="98.64" y="509.55" width="3.50" height="33.75" fill="#555555"/>
<rect x="103.87" y="509.55" width="3.50" height="33.75" fill="#555555"/>
<rect x="109.10" y="509.55" width="3.50" height="33.75" fill="#555555"/>
<rect x="114.33" y="509.55" width="3.50" height="33.75" fill="#555555"/>
<rect x="119.56" y="509.55" width="3.50" height="33.75" fill="#555555"/>
<rect x="124.79" y="509.55" width="3.50" height="33.75" fill="#555555"/>
<rect x="130.02" y="520.80" width="3.50" height="22.50" fill="#555555"/>
<rect x="135.25" y="520.80" width="3.50" height="22.50" fill="#555555"/>
<rect x="140.48" y="520.80" width="3.50" height="22.50" fill="#555555"/>
<rect x="145.71" y="520.80" width="3.50" height="22.50" fill="#555555"/>
<rect x="150.94" y="520.80" width="3.50" height="22.50" fill="#555555"/>
<rect x="156.17" y="520.80" width="3.50" height="22.50" fill="#555555"/>
<rect x="161.40" y="532.05" width="3.50" height="11.25" fill="#555555"/>
<rect x="166.63" y="532.05" width="3.50" height="11.25" fill="#555555"/>
<rect x="171.86" y="532.05" width="3.50" height="11.25" fill="#555555"/>
<rect x="177.09" y="532.05" width="3.50" height="11.25" fill="#555555"/>
<rect x="182.32" y="532.05" width="3.50" height="11.25" fill="#555555"/>
<rect x="187.55" y="532.05" width="3.50" height="11.25" fill="#555555"/>
<rect x="192.78" y="532.05" width="3.50" height="11.25" fill="#555555"/>
<rect x="198.01" y="532.05" width="3.50" height="11.25" fill="#555555"/>
<rect x="203.24" y="532.05" width="3.50" height="11.25" fill="#555555"/>
<rect x="208.47" y="532.05" width="3.50" height="11.25" fill="#555555"/>
<rect x="213.70" y="532.05" width="3.50" height="11.25" fill="#555555"/>
<rect x="218.93" y="532.05" width="3.50" height="11.25" fill="#555555"/>
<line x1="28.30" y1="543.50" x2="224.00" y2="543.50" stroke="#666" stroke-width="1.2"/>
<line x1="29.10" y1="401.00" x2="29.10" y2="544.10" stroke="#AFAFAF" stroke-width="1.6"/>
<text x="26.30" y="411.10" font-size="7.6" text-anchor="end" fill="#333">12</text>
<text x="26.30" y="430.80" font-size="7.6" text-anchor="end" fill="#333">10</text>
<text x="26.30" y="451.70" font-size="7.6" text-anchor="end" fill="#333">8</text>
<text x="26.30" y="474.70" font-size="7.6" text-anchor="end" fill="#333">6</text>
<text x="26.30" y="500.00" font-size="7.6" text-anchor="end" fill="#333">4</text>
<text x="26.30" y="522.00" font-size="7.6" text-anchor="end" fill="#333">2</text>
<text x="26.30" y="545.00" font-size="7.6" text-anchor="end" fill="#333">0</text>
<text x="32.40" y="407.30" font-size="6.9" text-anchor="middle" fill="#333">12</text>
<text x="37.63" y="418.55" font-size="6.9" text-anchor="middle" fill="#333">11</text>
<text x="42.86" y="429.80" font-size="6.9" text-anchor="middle" fill="#333">10</text>
<text x="48.09" y="429.80" font-size="6.9" text-anchor="middle" fill="#333">10</text>
<text x="53.32" y="452.30" font-size="6.9" text-anchor="middle" fill="#333">8</text>
<text x="58.55" y="486.05" font-size="6.9" text-anchor="middle" fill="#333">5</text>
<text x="63.78" y="486.05" font-size="6.9" text-anchor="middle" fill="#333">5</text>
<text x="69.01" y="486.05" font-size="6.9" text-anchor="middle" fill="#333">5</text>
<text x="74.24" y="497.30" font-size="6.9" text-anchor="middle" fill="#333">4</text>
<text x="79.47" y="497.30" font-size="6.9" text-anchor="middle" fill="#333">4</text>
<text x="84.70" y="497.30" font-size="6.9" text-anchor="middle" fill="#333">4</text>
<text x="89.93" y="508.55" font-size="6.9" text-anchor="middle" fill="#333">3</text>
<text x="95.16" y="508.55" font-size="6.9" text-anchor="middle" fill="#333">3</text>
<text x="100.39" y="508.55" font-size="6.9" text-anchor="middle" fill="#333">3</text>
<text x="105.62" y="508.55" font-size="6.9" text-anchor="middle" fill="#333">3</text>
<text x="110.85" y="508.55" font-size="6.9" text-anchor="middle" fill="#333">3</text>
<text x="116.08" y="508.55" font-size="6.9" text-anchor="middle" fill="#333">3</text>
<text x="121.31" y="508.55" font-size="6.9" text-anchor="middle" fill="#333">3</text>
<text x="126.54" y="508.55" font-size="6.9" text-anchor="middle" fill="#333">3</text>
<text x="131.77" y="519.80" font-size="6.9" text-anchor="middle" fill="#333">2</text>
<text x="137.00" y="519.80" font-size="6.9" text-anchor="middle" fill="#333">2</text>
<text x="142.23" y="519.80" font-size="6.9" text-anchor="middle" fill="#333">2</text>
<text x="147.46" y="519.80" font-size="6.9" text-anchor="middle" fill="#333">2</text>
<text x="152.69" y="519.80" font-size="6.9" text-anchor="middle" fill="#333">2</text>
<text x="157.92" y="519.80" font-size="6.9" text-anchor="middle" fill="#333">2</text>
<text x="163.15" y="531.05" font-size="6.9" text-anchor="middle" fill="#333">1</text>
<text x="168.38" y="531.05" font-size="6.9" text-anchor="middle" fill="#333">1</text>
<text x="173.61" y="531.05" font-size="6.9" text-anchor="middle" fill="#333">1</text>
<text x="178.84" y="531.05" font-size="6.9" text-anchor="middle" fill="#333">1</text>
<text x="184.07" y="531.05" font-size="6.9" text-anchor="middle" fill="#333">1</text>
<text x="189.30" y="531.05" font-size="6.9" text-anchor="middle" fill="#333">1</text>
<text x="194.53" y="531.05" font-size="6.9" text-anchor="middle" fill="#333">1</text>
<text x="199.76" y="531.05" font-size="6.9" text-anchor="middle" fill="#333">1</text>
<text x="204.99" y="531.05" font-size="6.9" text-anchor="middle" fill="#333">1</text>
<text x="210.22" y="531.05" font-size="6.9" text-anchor="middle" fill="#333">1</text>
<text x="215.45" y="531.05" font-size="6.9" text-anchor="middle" fill="#333">1</text>
<text x="220.68" y="531.05" font-size="6.9" text-anchor="middle" fill="#333">1</text>
<text x="26.50" y="556.40" font-size="8.4" text-anchor="end" fill="#333">G12C</text>
<text x="26.50" y="568.40" font-size="8.4" text-anchor="end" fill="#333">G12A</text>
<text x="26.50" y="580.40" font-size="8.4" text-anchor="end" fill="#333">G12V</text>
<text x="26.50" y="592.40" font-size="8.4" text-anchor="end" fill="#333">G12D</text>
<text x="26.50" y="604.40" font-size="8.4" text-anchor="end" fill="#333">G12R</text>
<text x="26.50" y="616.40" font-size="8.4" text-anchor="end" fill="#333">G13D</text>
<circle cx="32.40" cy="553.40" r="2.5" fill="#DADADA"/>
<circle cx="32.40" cy="565.40" r="2.5" fill="#DADADA"/>
<circle cx="32.40" cy="577.40" r="2.5" fill="#DADADA"/>
<circle cx="32.40" cy="589.40" r="2.5" fill="#DADADA"/>
<circle cx="32.40" cy="601.40" r="2.5" fill="#DADADA"/>
<circle cx="32.40" cy="613.40" r="2.5" fill="#DADADA"/>
<circle cx="32.40" cy="553.40" r="2.5" fill="#7F50A6" stroke="#2a2a2a" stroke-width="0.7"/>
<circle cx="32.40" cy="577.40" r="2.5" fill="#EE9A22" stroke="#2a2a2a" stroke-width="0.7"/>
<line x1="32.40" y1="553.40" x2="32.40" y2="577.40" stroke="#0a0a0a" stroke-width="1.75"/>
<circle cx="32.40" cy="553.40" r="0.85" fill="#111"/>
<circle cx="32.40" cy="577.40" r="0.85" fill="#111"/>
<circle cx="37.63" cy="553.40" r="2.5" fill="#DADADA"/>
<circle cx="37.63" cy="565.40" r="2.5" fill="#DADADA"/>
<circle cx="37.63" cy="577.40" r="2.5" fill="#DADADA"/>
<circle cx="37.63" cy="589.40" r="2.5" fill="#DADADA"/>
<circle cx="37.63" cy="601.40" r="2.5" fill="#DADADA"/>
<circle cx="37.63" cy="613.40" r="2.5" fill="#DADADA"/>
<circle cx="37.63" cy="553.40" r="2.5" fill="#7F50A6" stroke="#2a2a2a" stroke-width="0.7"/>
<circle cx="37.63" cy="565.40" r="2.5" fill="#D9582A" stroke="#2a2a2a" stroke-width="0.7"/>
<circle cx="37.63" cy="577.40" r="2.5" fill="#EE9A22" stroke="#2a2a2a" stroke-width="0.7"/>
<line x1="37.63" y1="553.40" x2="37.63" y2="577.40" stroke="#0a0a0a" stroke-width="1.75"/>
<circle cx="37.63" cy="553.40" r="0.85" fill="#111"/>
<circle cx="37.63" cy="565.40" r="0.85" fill="#111"/>
<circle cx="37.63" cy="577.40" r="0.85" fill="#111"/>
<circle cx="42.86" cy="553.40" r="2.5" fill="#DADADA"/>
<circle cx="42.86" cy="565.40" r="2.5" fill="#DADADA"/>
<circle cx="42.86" cy="577.40" r="2.5" fill="#DADADA"/>
<circle cx="42.86" cy="589.40" r="2.5" fill="#DADADA"/>
<circle cx="42.86" cy="601.40" r="2.5" fill="#DADADA"/>
<circle cx="42.86" cy="613.40" r="2.5" fill="#DADADA"/>
<circle cx="42.86" cy="565.40" r="2.5" fill="#D9582A" stroke="#2a2a2a" stroke-width="0.7"/>
<circle cx="42.86" cy="577.40" r="2.5" fill="#EE9A22" stroke="#2a2a2a" stroke-width="0.7"/>
<line x1="42.86" y1="565.40" x2="42.86" y2="577.40" stroke="#0a0a0a" stroke-width="1.75"/>
<circle cx="42.86" cy="565.40" r="0.85" fill="#111"/>
<circle cx="42.86" cy="577.40" r="0.85" fill="#111"/>
<circle cx="48.09" cy="553.40" r="2.5" fill="#DADADA"/>
<circle cx="48.09" cy="565.40" r="2.5" fill="#DADADA"/>
<circle cx="48.09" cy="577.40" r="2.5" fill="#DADADA"/>
<circle cx="48.09" cy="589.40" r="2.5" fill="#DADADA"/>
<circle cx="48.09" cy="601.40" r="2.5" fill="#DADADA"/>
<circle cx="48.09" cy="613.40" r="2.5" fill="#DADADA"/>
<circle cx="48.09" cy="553.40" r="2.5" fill="#7F50A6" stroke="#2a2a2a" stroke-width="0.7"/>
<circle cx="48.09" cy="565.40" r="2.5" fill="#D9582A" stroke="#2a2a2a" stroke-width="0.7"/>
<line x1="48.09" y1="553.40" x2="48.09" y2="565.40" stroke="#0a0a0a" stroke-width="1.75"/>
<circle cx="48.09" cy="553.40" r="0.85" fill="#111"/>
<circle cx="48.09" cy="565.40" r="0.85" fill="#111"/>
<circle cx="53.32" cy="553.40" r="2.5" fill="#DADADA"/>
<circle cx="53.32" cy="565.40" r="2.5" fill="#DADADA"/>
<circle cx="53.32" cy="577.40" r="2.5" fill="#DADADA"/>
<circle cx="53.32" cy="589.40" r="2.5" fill="#DADADA"/>
<circle cx="53.32" cy="601.40" r="2.5" fill="#DADADA"/>
<circle cx="53.32" cy="613.40" r="2.5" fill="#DADADA"/>
<circle cx="53.32" cy="553.40" r="2.5" fill="#7F50A6" stroke="#2a2a2a" stroke-width="0.7"/>
<circle cx="53.32" cy="565.40" r="2.5" fill="#D9582A" stroke="#2a2a2a" stroke-width="0.7"/>
<circle cx="53.32" cy="577.40" r="2.5" fill="#EE9A22" stroke="#2a2a2a" stroke-width="0.7"/>
<circle cx="53.32" cy="589.40" r="2.5" fill="#5A70B5" stroke="#2a2a2a" stroke-width="0.7"/>
<line x1="53.32" y1="553.40" x2="53.32" y2="589.40" stroke="#0a0a0a" stroke-width="1.75"/>
<circle cx="53.32" cy="553.40" r="0.85" fill="#111"/>
<circle cx="53.32" cy="565.40" r="0.85" fill="#111"/>
<circle cx="53.32" cy="577.40" r="0.85" fill="#111"/>
<circle cx="53.32" cy="589.40" r="0.85" fill="#111"/>
<circle cx="58.55" cy="553.40" r="2.5" fill="#DADADA"/>
<circle cx="58.55" cy="565.40" r="2.5" fill="#DADADA"/>
<circle cx="58.55" cy="577.40" r="2.5" fill="#DADADA"/>
<circle cx="58.55" cy="589.40" r="2.5" fill="#DADADA"/>
<circle cx="58.55" cy="601.40" r="2.5" fill="#DADADA"/>
<circle cx="58.55" cy="613.40" r="2.5" fill="#DADADA"/>
<circle cx="58.55" cy="589.40" r="2.5" fill="#5A70B5" stroke="#2a2a2a" stroke-width="0.7"/>
<circle cx="58.55" cy="601.40" r="2.5" fill="#701214" stroke="#2a2a2a" stroke-width="0.7"/>
<line x1="58.55" y1="589.40" x2="58.55" y2="601.40" stroke="#0a0a0a" stroke-width="1.75"/>
<circle cx="58.55" cy="589.40" r="0.85" fill="#111"/>
<circle cx="58.55" cy="601.40" r="0.85" fill="#111"/>
<circle cx="63.78" cy="553.40" r="2.5" fill="#DADADA"/>
<circle cx="63.78" cy="565.40" r="2.5" fill="#DADADA"/>
<circle cx="63.78" cy="577.40" r="2.5" fill="#DADADA"/>
<circle cx="63.78" cy="589.40" r="2.5" fill="#DADADA"/>
<circle cx="63.78" cy="601.40" r="2.5" fill="#DADADA"/>
<circle cx="63.78" cy="613.40" r="2.5" fill="#DADADA"/>
<circle cx="63.78" cy="553.40" r="2.5" fill="#7F50A6" stroke="#2a2a2a" stroke-width="0.7"/>
<circle cx="63.78" cy="565.40" r="2.5" fill="#D9582A" stroke="#2a2a2a" stroke-width="0.7"/>
<circle cx="63.78" cy="613.40" r="2.5" fill="#93C3E8" stroke="#2a2a2a" stroke-width="0.7"/>
<line x1="63.78" y1="553.40" x2="63.78" y2="613.40" stroke="#0a0a0a" stroke-width="1.75"/>
<circle cx="63.78" cy="553.40" r="0.85" fill="#111"/>
<circle cx="63.78" cy="565.40" r="0.85" fill="#111"/>
<circle cx="63.78" cy="613.40" r="0.85" fill="#111"/>
<circle cx="69.01" cy="553.40" r="2.5" fill="#DADADA"/>
<circle cx="69.01" cy="565.40" r="2.5" fill="#DADADA"/>
<circle cx="69.01" cy="577.40" r="2.5" fill="#DADADA"/>
<circle cx="69.01" cy="589.40" r="2.5" fill="#DADADA"/>
<circle cx="69.01" cy="601.40" r="2.5" fill="#DADADA"/>
<circle cx="69.01" cy="613.40" r="2.5" fill="#DADADA"/>
<circle cx="69.01" cy="553.40" r="2.5" fill="#7F50A6" stroke="#2a2a2a" stroke-width="0.7"/>
<circle cx="69.01" cy="565.40" r="2.5" fill="#D9582A" stroke="#2a2a2a" stroke-width="0.7"/>
<circle cx="69.01" cy="577.40" r="2.5" fill="#EE9A22" stroke="#2a2a2a" stroke-width="0.7"/>
<circle cx="69.01" cy="601.40" r="2.5" fill="#701214" stroke="#2a2a2a" stroke-width="0.7"/>
<line x1="69.01" y1="553.40" x2="69.01" y2="601.40" stroke="#0a0a0a" stroke-width="1.75"/>
<circle cx="69.01" cy="553.40" r="0.85" fill="#111"/>
<circle cx="69.01" cy="565.40" r="0.85" fill="#111"/>
<circle cx="69.01" cy="577.40" r="0.85" fill="#111"/>
<circle cx="69.01" cy="601.40" r="0.85" fill="#111"/>
<circle cx="74.24" cy="553.40" r="2.5" fill="#DADADA"/>
<circle cx="74.24" cy="565.40" r="2.5" fill="#DADADA"/>
<circle cx="74.24" cy="577.40" r="2.5" fill="#DADADA"/>
<circle cx="74.24" cy="589.40" r="2.5" fill="#DADADA"/>
<circle cx="74.24" cy="601.40" r="2.5" fill="#DADADA"/>
<circle cx="74.24" cy="613.40" r="2.5" fill="#DADADA"/>
<circle cx="74.24" cy="577.40" r="2.5" fill="#EE9A22" stroke="#2a2a2a" stroke-width="0.7"/>
<circle cx="74.24" cy="589.40" r="2.5" fill="#5A70B5" stroke="#2a2a2a" stroke-width="0.7"/>
<line x1="74.24" y1="577.40" x2="74.24" y2="589.40" stroke="#0a0a0a" stroke-width="1.75"/>
<circle cx="74.24" cy="577.40" r="0.85" fill="#111"/>
<circle cx="74.24" cy="589.40" r="0.85" fill="#111"/>
<circle cx="79.47" cy="553.40" r="2.5" fill="#DADADA"/>
<circle cx="79.47" cy="565.40" r="2.5" fill="#DADADA"/>
<circle cx="79.47" cy="577.40" r="2.5" fill="#DADADA"/>
<circle cx="79.47" cy="589.40" r="2.5" fill="#DADADA"/>
<circle cx="79.47" cy="601.40" r="2.5" fill="#DADADA"/>
<circle cx="79.47" cy="613.40" r="2.5" fill="#DADADA"/>
<circle cx="79.47" cy="553.40" r="2.5" fill="#7F50A6" stroke="#2a2a2a" stroke-width="0.7"/>
<circle cx="79.47" cy="613.40" r="2.5" fill="#93C3E8" stroke="#2a2a2a" stroke-width="0.7"/>
<line x1="79.47" y1="553.40" x2="79.47" y2="613.40" stroke="#0a0a0a" stroke-width="1.75"/>
<circle cx="79.47" cy="553.40" r="0.85" fill="#111"/>
<circle cx="79.47" cy="613.40" r="0.85" fill="#111"/>
<circle cx="84.70" cy="553.40" r="2.5" fill="#DADADA"/>
<circle cx="84.70" cy="565.40" r="2.5" fill="#DADADA"/>
<circle cx="84.70" cy="577.40" r="2.5" fill="#DADADA"/>
<circle cx="84.70" cy="589.40" r="2.5" fill="#DADADA"/>
<circle cx="84.70" cy="601.40" r="2.5" fill="#DADADA"/>
<circle cx="84.70" cy="613.40" r="2.5" fill="#DADADA"/>
<circle cx="84.70" cy="553.40" r="2.5" fill="#7F50A6" stroke="#2a2a2a" stroke-width="0.7"/>
<circle cx="84.70" cy="589.40" r="2.5" fill="#5A70B5" stroke="#2a2a2a" stroke-width="0.7"/>
<line x1="84.70" y1="553.40" x2="84.70" y2="589.40" stroke="#0a0a0a" stroke-width="1.75"/>
<circle cx="84.70" cy="553.40" r="0.85" fill="#111"/>
<circle cx="84.70" cy="589.40" r="0.85" fill="#111"/>
<circle cx="89.93" cy="553.40" r="2.5" fill="#DADADA"/>
<circle cx="89.93" cy="565.40" r="2.5" fill="#DADADA"/>
<circle cx="89.93" cy="577.40" r="2.5" fill="#DADADA"/>
<circle cx="89.93" cy="589.40" r="2.5" fill="#DADADA"/>
<circle cx="89.93" cy="601.40" r="2.5" fill="#DADADA"/>
<circle cx="89.93" cy="613.40" r="2.5" fill="#DADADA"/>
<circle cx="89.93" cy="577.40" r="2.5" fill="#EE9A22" stroke="#2a2a2a" stroke-width="0.7"/>
<circle cx="89.93" cy="601.40" r="2.5" fill="#701214" stroke="#2a2a2a" stroke-width="0.7"/>
<line x1="89.93" y1="577.40" x2="89.93" y2="601.40" stroke="#0a0a0a" stroke-width="1.75"/>
<circle cx="89.93" cy="577.40" r="0.85" fill="#111"/>
<circle cx="89.93" cy="601.40" r="0.85" fill="#111"/>
<circle cx="95.16" cy="553.40" r="2.5" fill="#DADADA"/>
<circle cx="95.16" cy="565.40" r="2.5" fill="#DADADA"/>
<circle cx="95.16" cy="577.40" r="2.5" fill="#DADADA"/>
<circle cx="95.16" cy="589.40" r="2.5" fill="#DADADA"/>
<circle cx="95.16" cy="601.40" r="2.5" fill="#DADADA"/>
<circle cx="95.16" cy="613.40" r="2.5" fill="#DADADA"/>
<circle cx="95.16" cy="553.40" r="2.5" fill="#7F50A6" stroke="#2a2a2a" stroke-width="0.7"/>
<circle cx="95.16" cy="601.40" r="2.5" fill="#701214" stroke="#2a2a2a" stroke-width="0.7"/>
<line x1="95.16" y1="553.40" x2="95.16" y2="601.40" stroke="#0a0a0a" stroke-width="1.75"/>
<circle cx="95.16" cy="553.40" r="0.85" fill="#111"/>
<circle cx="95.16" cy="601.40" r="0.85" fill="#111"/>
<circle cx="100.39" cy="553.40" r="2.5" fill="#DADADA"/>
<circle cx="100.39" cy="565.40" r="2.5" fill="#DADADA"/>
<circle cx="100.39" cy="577.40" r="2.5" fill="#DADADA"/>
<circle cx="100.39" cy="589.40" r="2.5" fill="#DADADA"/>
<circle cx="100.39" cy="601.40" r="2.5" fill="#DADADA"/>
<circle cx="100.39" cy="613.40" r="2.5" fill="#DADADA"/>
<circle cx="100.39" cy="553.40" r="2.5" fill="#7F50A6" stroke="#2a2a2a" stroke-width="0.7"/>
<circle cx="100.39" cy="589.40" r="2.5" fill="#5A70B5" stroke="#2a2a2a" stroke-width="0.7"/>
<circle cx="100.39" cy="613.40" r="2.5" fill="#93C3E8" stroke="#2a2a2a" stroke-width="0.7"/>
<line x1="100.39" y1="553.40" x2="100.39" y2="613.40" stroke="#0a0a0a" stroke-width="1.75"/>
<circle cx="100.39" cy="553.40" r="0.85" fill="#111"/>
<circle cx="100.39" cy="589.40" r="0.85" fill="#111"/>
<circle cx="100.39" cy="613.40" r="0.85" fill="#111"/>
<circle cx="105.62" cy="553.40" r="2.5" fill="#DADADA"/>
<circle cx="105.62" cy="565.40" r="2.5" fill="#DADADA"/>
<circle cx="105.62" cy="577.40" r="2.5" fill="#DADADA"/>
<circle cx="105.62" cy="589.40" r="2.5" fill="#DADADA"/>
<circle cx="105.62" cy="601.40" r="2.5" fill="#DADADA"/>
<circle cx="105.62" cy="613.40" r="2.5" fill="#DADADA"/>
<circle cx="105.62" cy="565.40" r="2.5" fill="#D9582A" stroke="#2a2a2a" stroke-width="0.7"/>
<circle cx="105.62" cy="601.40" r="2.5" fill="#701214" stroke="#2a2a2a" stroke-width="0.7"/>
<circle cx="105.62" cy="613.40" r="2.5" fill="#93C3E8" stroke="#2a2a2a" stroke-width="0.7"/>
<line x1="105.62" y1="565.40" x2="105.62" y2="613.40" stroke="#0a0a0a" stroke-width="1.75"/>
<circle cx="105.62" cy="565.40" r="0.85" fill="#111"/>
<circle cx="105.62" cy="601.40" r="0.85" fill="#111"/>
<circle cx="105.62" cy="613.40" r="0.85" fill="#111"/>
<circle cx="110.85" cy="553.40" r="2.5" fill="#DADADA"/>
<circle cx="110.85" cy="565.40" r="2.5" fill="#DADADA"/>
<circle cx="110.85" cy="577.40" r="2.5" fill="#DADADA"/>
<circle cx="110.85" cy="589.40" r="2.5" fill="#DADADA"/>
<circle cx="110.85" cy="601.40" r="2.5" fill="#DADADA"/>
<circle cx="110.85" cy="613.40" r="2.5" fill="#DADADA"/>
<circle cx="110.85" cy="565.40" r="2.5" fill="#D9582A" stroke="#2a2a2a" stroke-width="0.7"/>
<circle cx="110.85" cy="601.40" r="2.5" fill="#701214" stroke="#2a2a2a" stroke-width="0.7"/>
<line x1="110.85" y1="565.40" x2="110.85" y2="601.40" stroke="#0a0a0a" stroke-width="1.75"/>
<circle cx="110.85" cy="565.40" r="0.85" fill="#111"/>
<circle cx="110.85" cy="601.40" r="0.85" fill="#111"/>
<circle cx="116.08" cy="553.40" r="2.5" fill="#DADADA"/>
<circle cx="116.08" cy="565.40" r="2.5" fill="#DADADA"/>
<circle cx="116.08" cy="577.40" r="2.5" fill="#DADADA"/>
<circle cx="116.08" cy="589.40" r="2.5" fill="#DADADA"/>
<circle cx="116.08" cy="601.40" r="2.5" fill="#DADADA"/>
<circle cx="116.08" cy="613.40" r="2.5" fill="#DADADA"/>
<circle cx="116.08" cy="565.40" r="2.5" fill="#D9582A" stroke="#2a2a2a" stroke-width="0.7"/>
<circle cx="116.08" cy="577.40" r="2.5" fill="#EE9A22" stroke="#2a2a2a" stroke-width="0.7"/>
<circle cx="116.08" cy="589.40" r="2.5" fill="#5A70B5" stroke="#2a2a2a" stroke-width="0.7"/>
<line x1="116.08" y1="565.40" x2="116.08" y2="589.40" stroke="#0a0a0a" stroke-width="1.75"/>
<circle cx="116.08" cy="565.40" r="0.85" fill="#111"/>
<circle cx="116.08" cy="577.40" r="0.85" fill="#111"/>
<circle cx="116.08" cy="589.40" r="0.85" fill="#111"/>
<circle cx="121.31" cy="553.40" r="2.5" fill="#DADADA"/>
<circle cx="121.31" cy="565.40" r="2.5" fill="#DADADA"/>
<circle cx="121.31" cy="577.40" r="2.5" fill="#DADADA"/>
<circle cx="121.31" cy="589.40" r="2.5" fill="#DADADA"/>
<circle cx="121.31" cy="601.40" r="2.5" fill="#DADADA"/>
<circle cx="121.31" cy="613.40" r="2.5" fill="#DADADA"/>
<circle cx="121.31" cy="553.40" r="2.5" fill="#7F50A6" stroke="#2a2a2a" stroke-width="0.7"/>
<circle cx="121.31" cy="565.40" r="2.5" fill="#D9582A" stroke="#2a2a2a" stroke-width="0.7"/>
<circle cx="121.31" cy="577.40" r="2.5" fill="#EE9A22" stroke="#2a2a2a" stroke-width="0.7"/>
<circle cx="121.31" cy="589.40" r="2.5" fill="#5A70B5" stroke="#2a2a2a" stroke-width="0.7"/>
<circle cx="121.31" cy="613.40" r="2.5" fill="#93C3E8" stroke="#2a2a2a" stroke-width="0.7"/>
<line x1="121.31" y1="553.40" x2="121.31" y2="613.40" stroke="#0a0a0a" stroke-width="1.75"/>
<circle cx="121.31" cy="553.40" r="0.85" fill="#111"/>
<circle cx="121.31" cy="565.40" r="0.85" fill="#111"/>
<circle cx="121.31" cy="577.40" r="0.85" fill="#111"/>
<circle cx="121.31" cy="589.40" r="0.85" fill="#111"/>
<circle cx="121.31" cy="613.40" r="0.85" fill="#111"/>
<circle cx="126.54" cy="553.40" r="2.5" fill="#DADADA"/>
<circle cx="126.54" cy="565.40" r="2.5" fill="#DADADA"/>
<circle cx="126.54" cy="577.40" r="2.5" fill="#DADADA"/>
<circle cx="126.54" cy="589.40" r="2.5" fill="#DADADA"/>
<circle cx="126.54" cy="601.40" r="2.5" fill="#DADADA"/>
<circle cx="126.54" cy="613.40" r="2.5" fill="#DADADA"/>
<circle cx="126.54" cy="553.40" r="2.5" fill="#7F50A6" stroke="#2a2a2a" stroke-width="0.7"/>
<circle cx="126.54" cy="565.40" r="2.5" fill="#D9582A" stroke="#2a2a2a" stroke-width="0.7"/>
<circle cx="126.54" cy="589.40" r="2.5" fill="#5A70B5" stroke="#2a2a2a" stroke-width="0.7"/>
<line x1="126.54" y1="553.40" x2="126.54" y2="589.40" stroke="#0a0a0a" stroke-width="1.75"/>
<circle cx="126.54" cy="553.40" r="0.85" fill="#111"/>
<circle cx="126.54" cy="565.40" r="0.85" fill="#111"/>
<circle cx="126.54" cy="589.40" r="0.85" fill="#111"/>
<circle cx="131.77" cy="553.40" r="2.5" fill="#DADADA"/>
<circle cx="131.77" cy="565.40" r="2.5" fill="#DADADA"/>
<circle cx="131.77" cy="577.40" r="2.5" fill="#DADADA"/>
<circle cx="131.77" cy="589.40" r="2.5" fill="#DADADA"/>
<circle cx="131.77" cy="601.40" r="2.5" fill="#DADADA"/>
<circle cx="131.77" cy="613.40" r="2.5" fill="#DADADA"/>
<circle cx="131.77" cy="601.40" r="2.5" fill="#701214" stroke="#2a2a2a" stroke-width="0.7"/>
<circle cx="131.77" cy="613.40" r="2.5" fill="#93C3E8" stroke="#2a2a2a" stroke-width="0.7"/>
<line x1="131.77" y1="601.40" x2="131.77" y2="613.40" stroke="#0a0a0a" stroke-width="1.75"/>
<circle cx="131.77" cy="601.40" r="0.85" fill="#111"/>
<circle cx="131.77" cy="613.40" r="0.85" fill="#111"/>
<circle cx="137.00" cy="553.40" r="2.5" fill="#DADADA"/>
<circle cx="137.00" cy="565.40" r="2.5" fill="#DADADA"/>
<circle cx="137.00" cy="577.40" r="2.5" fill="#DADADA"/>
<circle cx="137.00" cy="589.40" r="2.5" fill="#DADADA"/>
<circle cx="137.00" cy="601.40" r="2.5" fill="#DADADA"/>
<circle cx="137.00" cy="613.40" r="2.5" fill="#DADADA"/>
<circle cx="137.00" cy="589.40" r="2.5" fill="#5A70B5" stroke="#2a2a2a" stroke-width="0.7"/>
<circle cx="137.00" cy="613.40" r="2.5" fill="#93C3E8" stroke="#2a2a2a" stroke-width="0.7"/>
<line x1="137.00" y1="589.40" x2="137.00" y2="613.40" stroke="#0a0a0a" stroke-width="1.75"/>
<circle cx="137.00" cy="589.40" r="0.85" fill="#111"/>
<circle cx="137.00" cy="613.40" r="0.85" fill="#111"/>
<circle cx="142.23" cy="553.40" r="2.5" fill="#DADADA"/>
<circle cx="142.23" cy="565.40" r="2.5" fill="#DADADA"/>
<circle cx="142.23" cy="577.40" r="2.5" fill="#DADADA"/>
<circle cx="142.23" cy="589.40" r="2.5" fill="#DADADA"/>
<circle cx="142.23" cy="601.40" r="2.5" fill="#DADADA"/>
<circle cx="142.23" cy="613.40" r="2.5" fill="#DADADA"/>
<circle cx="142.23" cy="565.40" r="2.5" fill="#D9582A" stroke="#2a2a2a" stroke-width="0.7"/>
<circle cx="142.23" cy="613.40" r="2.5" fill="#93C3E8" stroke="#2a2a2a" stroke-width="0.7"/>
<line x1="142.23" y1="565.40" x2="142.23" y2="613.40" stroke="#0a0a0a" stroke-width="1.75"/>
<circle cx="142.23" cy="565.40" r="0.85" fill="#111"/>
<circle cx="142.23" cy="613.40" r="0.85" fill="#111"/>
<circle cx="147.46" cy="553.40" r="2.5" fill="#DADADA"/>
<circle cx="147.46" cy="565.40" r="2.5" fill="#DADADA"/>
<circle cx="147.46" cy="577.40" r="2.5" fill="#DADADA"/>
<circle cx="147.46" cy="589.40" r="2.5" fill="#DADADA"/>
<circle cx="147.46" cy="601.40" r="2.5" fill="#DADADA"/>
<circle cx="147.46" cy="613.40" r="2.5" fill="#DADADA"/>
<circle cx="147.46" cy="565.40" r="2.5" fill="#D9582A" stroke="#2a2a2a" stroke-width="0.7"/>
<circle cx="147.46" cy="577.40" r="2.5" fill="#EE9A22" stroke="#2a2a2a" stroke-width="0.7"/>
<circle cx="147.46" cy="613.40" r="2.5" fill="#93C3E8" stroke="#2a2a2a" stroke-width="0.7"/>
<line x1="147.46" y1="565.40" x2="147.46" y2="613.40" stroke="#0a0a0a" stroke-width="1.75"/>
<circle cx="147.46" cy="565.40" r="0.85" fill="#111"/>
<circle cx="147.46" cy="577.40" r="0.85" fill="#111"/>
<circle cx="147.46" cy="613.40" r="0.85" fill="#111"/>
<circle cx="152.69" cy="553.40" r="2.5" fill="#DADADA"/>
<circle cx="152.69" cy="565.40" r="2.5" fill="#DADADA"/>
<circle cx="152.69" cy="577.40" r="2.5" fill="#DADADA"/>
<circle cx="152.69" cy="589.40" r="2.5" fill="#DADADA"/>
<circle cx="152.69" cy="601.40" r="2.5" fill="#DADADA"/>
<circle cx="152.69" cy="613.40" r="2.5" fill="#DADADA"/>
<circle cx="152.69" cy="553.40" r="2.5" fill="#7F50A6" stroke="#2a2a2a" stroke-width="0.7"/>
<circle cx="152.69" cy="565.40" r="2.5" fill="#D9582A" stroke="#2a2a2a" stroke-width="0.7"/>
<circle cx="152.69" cy="601.40" r="2.5" fill="#701214" stroke="#2a2a2a" stroke-width="0.7"/>
<line x1="152.69" y1="553.40" x2="152.69" y2="601.40" stroke="#0a0a0a" stroke-width="1.75"/>
<circle cx="152.69" cy="553.40" r="0.85" fill="#111"/>
<circle cx="152.69" cy="565.40" r="0.85" fill="#111"/>
<circle cx="152.69" cy="601.40" r="0.85" fill="#111"/>
<circle cx="157.92" cy="553.40" r="2.5" fill="#DADADA"/>
<circle cx="157.92" cy="565.40" r="2.5" fill="#DADADA"/>
<circle cx="157.92" cy="577.40" r="2.5" fill="#DADADA"/>
<circle cx="157.92" cy="589.40" r="2.5" fill="#DADADA"/>
<circle cx="157.92" cy="601.40" r="2.5" fill="#DADADA"/>
<circle cx="157.92" cy="613.40" r="2.5" fill="#DADADA"/>
<circle cx="157.92" cy="553.40" r="2.5" fill="#7F50A6" stroke="#2a2a2a" stroke-width="0.7"/>
<circle cx="157.92" cy="565.40" r="2.5" fill="#D9582A" stroke="#2a2a2a" stroke-width="0.7"/>
<circle cx="157.92" cy="577.40" r="2.5" fill="#EE9A22" stroke="#2a2a2a" stroke-width="0.7"/>
<circle cx="157.92" cy="589.40" r="2.5" fill="#5A70B5" stroke="#2a2a2a" stroke-width="0.7"/>
<circle cx="157.92" cy="601.40" r="2.5" fill="#701214" stroke="#2a2a2a" stroke-width="0.7"/>
<line x1="157.92" y1="553.40" x2="157.92" y2="601.40" stroke="#0a0a0a" stroke-width="1.75"/>
<circle cx="157.92" cy="553.40" r="0.85" fill="#111"/>
<circle cx="157.92" cy="565.40" r="0.85" fill="#111"/>
<circle cx="157.92" cy="577.40" r="0.85" fill="#111"/>
<circle cx="157.92" cy="589.40" r="0.85" fill="#111"/>
<circle cx="157.92" cy="601.40" r="0.85" fill="#111"/>
<circle cx="163.15" cy="553.40" r="2.5" fill="#DADADA"/>
<circle cx="163.15" cy="565.40" r="2.5" fill="#DADADA"/>
<circle cx="163.15" cy="577.40" r="2.5" fill="#DADADA"/>
<circle cx="163.15" cy="589.40" r="2.5" fill="#DADADA"/>
<circle cx="163.15" cy="601.40" r="2.5" fill="#DADADA"/>
<circle cx="163.15" cy="613.40" r="2.5" fill="#DADADA"/>
<circle cx="163.15" cy="577.40" r="2.5" fill="#EE9A22" stroke="#2a2a2a" stroke-width="0.7"/>
<circle cx="163.15" cy="613.40" r="2.5" fill="#93C3E8" stroke="#2a2a2a" stroke-width="0.7"/>
<line x1="163.15" y1="577.40" x2="163.15" y2="613.40" stroke="#0a0a0a" stroke-width="1.75"/>
<circle cx="163.15" cy="577.40" r="0.85" fill="#111"/>
<circle cx="163.15" cy="613.40" r="0.85" fill="#111"/>
<circle cx="168.38" cy="553.40" r="2.5" fill="#DADADA"/>
<circle cx="168.38" cy="565.40" r="2.5" fill="#DADADA"/>
<circle cx="168.38" cy="577.40" r="2.5" fill="#DADADA"/>
<circle cx="168.38" cy="589.40" r="2.5" fill="#DADADA"/>
<circle cx="168.38" cy="601.40" r="2.5" fill="#DADADA"/>
<circle cx="168.38" cy="613.40" r="2.5" fill="#DADADA"/>
<circle cx="168.38" cy="553.40" r="2.5" fill="#7F50A6" stroke="#2a2a2a" stroke-width="0.7"/>
<circle cx="168.38" cy="601.40" r="2.5" fill="#701214" stroke="#2a2a2a" stroke-width="0.7"/>
<circle cx="168.38" cy="613.40" r="2.5" fill="#93C3E8" stroke="#2a2a2a" stroke-width="0.7"/>
<line x1="168.38" y1="553.40" x2="168.38" y2="613.40" stroke="#0a0a0a" stroke-width="1.75"/>
<circle cx="168.38" cy="553.40" r="0.85" fill="#111"/>
<circle cx="168.38" cy="601.40" r="0.85" fill="#111"/>
<circle cx="168.38" cy="613.40" r="0.85" fill="#111"/>
<circle cx="173.61" cy="553.40" r="2.5" fill="#DADADA"/>
<circle cx="173.61" cy="565.40" r="2.5" fill="#DADADA"/>
<circle cx="173.61" cy="577.40" r="2.5" fill="#DADADA"/>
<circle cx="173.61" cy="589.40" r="2.5" fill="#DADADA"/>
<circle cx="173.61" cy="601.40" r="2.5" fill="#DADADA"/>
<circle cx="173.61" cy="613.40" r="2.5" fill="#DADADA"/>
<circle cx="173.61" cy="553.40" r="2.5" fill="#7F50A6" stroke="#2a2a2a" stroke-width="0.7"/>
<circle cx="173.61" cy="577.40" r="2.5" fill="#EE9A22" stroke="#2a2a2a" stroke-width="0.7"/>
<circle cx="173.61" cy="589.40" r="2.5" fill="#5A70B5" stroke="#2a2a2a" stroke-width="0.7"/>
<line x1="173.61" y1="553.40" x2="173.61" y2="589.40" stroke="#0a0a0a" stroke-width="1.75"/>
<circle cx="173.61" cy="553.40" r="0.85" fill="#111"/>
<circle cx="173.61" cy="577.40" r="0.85" fill="#111"/>
<circle cx="173.61" cy="589.40" r="0.85" fill="#111"/>
<circle cx="178.84" cy="553.40" r="2.5" fill="#DADADA"/>
<circle cx="178.84" cy="565.40" r="2.5" fill="#DADADA"/>
<circle cx="178.84" cy="577.40" r="2.5" fill="#DADADA"/>
<circle cx="178.84" cy="589.40" r="2.5" fill="#DADADA"/>
<circle cx="178.84" cy="601.40" r="2.5" fill="#DADADA"/>
<circle cx="178.84" cy="613.40" r="2.5" fill="#DADADA"/>
<circle cx="178.84" cy="553.40" r="2.5" fill="#7F50A6" stroke="#2a2a2a" stroke-width="0.7"/>
<circle cx="178.84" cy="589.40" r="2.5" fill="#5A70B5" stroke="#2a2a2a" stroke-width="0.7"/>
<circle cx="178.84" cy="601.40" r="2.5" fill="#701214" stroke="#2a2a2a" stroke-width="0.7"/>
<circle cx="178.84" cy="613.40" r="2.5" fill="#93C3E8" stroke="#2a2a2a" stroke-width="0.7"/>
<line x1="178.84" y1="553.40" x2="178.84" y2="613.40" stroke="#0a0a0a" stroke-width="1.75"/>
<circle cx="178.84" cy="553.40" r="0.85" fill="#111"/>
<circle cx="178.84" cy="589.40" r="0.85" fill="#111"/>
<circle cx="178.84" cy="601.40" r="0.85" fill="#111"/>
<circle cx="178.84" cy="613.40" r="0.85" fill="#111"/>
<circle cx="184.07" cy="553.40" r="2.5" fill="#DADADA"/>
<circle cx="184.07" cy="565.40" r="2.5" fill="#DADADA"/>
<circle cx="184.07" cy="577.40" r="2.5" fill="#DADADA"/>
<circle cx="184.07" cy="589.40" r="2.5" fill="#DADADA"/>
<circle cx="184.07" cy="601.40" r="2.5" fill="#DADADA"/>
<circle cx="184.07" cy="613.40" r="2.5" fill="#DADADA"/>
<circle cx="184.07" cy="553.40" r="2.5" fill="#7F50A6" stroke="#2a2a2a" stroke-width="0.7"/>
<circle cx="184.07" cy="577.40" r="2.5" fill="#EE9A22" stroke="#2a2a2a" stroke-width="0.7"/>
<circle cx="184.07" cy="589.40" r="2.5" fill="#5A70B5" stroke="#2a2a2a" stroke-width="0.7"/>
<circle cx="184.07" cy="601.40" r="2.5" fill="#701214" stroke="#2a2a2a" stroke-width="0.7"/>
<circle cx="184.07" cy="613.40" r="2.5" fill="#93C3E8" stroke="#2a2a2a" stroke-width="0.7"/>
<line x1="184.07" y1="553.40" x2="184.07" y2="613.40" stroke="#0a0a0a" stroke-width="1.75"/>
<circle cx="184.07" cy="553.40" r="0.85" fill="#111"/>
<circle cx="184.07" cy="577.40" r="0.85" fill="#111"/>
<circle cx="184.07" cy="589.40" r="0.85" fill="#111"/>
<circle cx="184.07" cy="601.40" r="0.85" fill="#111"/>
<circle cx="184.07" cy="613.40" r="0.85" fill="#111"/>
<circle cx="189.30" cy="553.40" r="2.5" fill="#DADADA"/>
<circle cx="189.30" cy="565.40" r="2.5" fill="#DADADA"/>
<circle cx="189.30" cy="577.40" r="2.5" fill="#DADADA"/>
<circle cx="189.30" cy="589.40" r="2.5" fill="#DADADA"/>
<circle cx="189.30" cy="601.40" r="2.5" fill="#DADADA"/>
<circle cx="189.30" cy="613.40" r="2.5" fill="#DADADA"/>
<circle cx="189.30" cy="553.40" r="2.5" fill="#7F50A6" stroke="#2a2a2a" stroke-width="0.7"/>
<circle cx="189.30" cy="589.40" r="2.5" fill="#5A70B5" stroke="#2a2a2a" stroke-width="0.7"/>
<circle cx="189.30" cy="601.40" r="2.5" fill="#701214" stroke="#2a2a2a" stroke-width="0.7"/>
<line x1="189.30" y1="553.40" x2="189.30" y2="601.40" stroke="#0a0a0a" stroke-width="1.75"/>
<circle cx="189.30" cy="553.40" r="0.85" fill="#111"/>
<circle cx="189.30" cy="589.40" r="0.85" fill="#111"/>
<circle cx="189.30" cy="601.40" r="0.85" fill="#111"/>
<circle cx="194.53" cy="553.40" r="2.5" fill="#DADADA"/>
<circle cx="194.53" cy="565.40" r="2.5" fill="#DADADA"/>
<circle cx="194.53" cy="577.40" r="2.5" fill="#DADADA"/>
<circle cx="194.53" cy="589.40" r="2.5" fill="#DADADA"/>
<circle cx="194.53" cy="601.40" r="2.5" fill="#DADADA"/>
<circle cx="194.53" cy="613.40" r="2.5" fill="#DADADA"/>
<circle cx="194.53" cy="565.40" r="2.5" fill="#D9582A" stroke="#2a2a2a" stroke-width="0.7"/>
<circle cx="194.53" cy="577.40" r="2.5" fill="#EE9A22" stroke="#2a2a2a" stroke-width="0.7"/>
<circle cx="194.53" cy="601.40" r="2.5" fill="#701214" stroke="#2a2a2a" stroke-width="0.7"/>
<line x1="194.53" y1="565.40" x2="194.53" y2="601.40" stroke="#0a0a0a" stroke-width="1.75"/>
<circle cx="194.53" cy="565.40" r="0.85" fill="#111"/>
<circle cx="194.53" cy="577.40" r="0.85" fill="#111"/>
<circle cx="194.53" cy="601.40" r="0.85" fill="#111"/>
<circle cx="199.76" cy="553.40" r="2.5" fill="#DADADA"/>
<circle cx="199.76" cy="565.40" r="2.5" fill="#DADADA"/>
<circle cx="199.76" cy="577.40" r="2.5" fill="#DADADA"/>
<circle cx="199.76" cy="589.40" r="2.5" fill="#DADADA"/>
<circle cx="199.76" cy="601.40" r="2.5" fill="#DADADA"/>
<circle cx="199.76" cy="613.40" r="2.5" fill="#DADADA"/>
<circle cx="199.76" cy="565.40" r="2.5" fill="#D9582A" stroke="#2a2a2a" stroke-width="0.7"/>
<circle cx="199.76" cy="589.40" r="2.5" fill="#5A70B5" stroke="#2a2a2a" stroke-width="0.7"/>
<line x1="199.76" y1="565.40" x2="199.76" y2="589.40" stroke="#0a0a0a" stroke-width="1.75"/>
<circle cx="199.76" cy="565.40" r="0.85" fill="#111"/>
<circle cx="199.76" cy="589.40" r="0.85" fill="#111"/>
<circle cx="204.99" cy="553.40" r="2.5" fill="#DADADA"/>
<circle cx="204.99" cy="565.40" r="2.5" fill="#DADADA"/>
<circle cx="204.99" cy="577.40" r="2.5" fill="#DADADA"/>
<circle cx="204.99" cy="589.40" r="2.5" fill="#DADADA"/>
<circle cx="204.99" cy="601.40" r="2.5" fill="#DADADA"/>
<circle cx="204.99" cy="613.40" r="2.5" fill="#DADADA"/>
<circle cx="204.99" cy="553.40" r="2.5" fill="#7F50A6" stroke="#2a2a2a" stroke-width="0.7"/>
<circle cx="204.99" cy="565.40" r="2.5" fill="#D9582A" stroke="#2a2a2a" stroke-width="0.7"/>
<circle cx="204.99" cy="577.40" r="2.5" fill="#EE9A22" stroke="#2a2a2a" stroke-width="0.7"/>
<circle cx="204.99" cy="601.40" r="2.5" fill="#701214" stroke="#2a2a2a" stroke-width="0.7"/>
<circle cx="204.99" cy="613.40" r="2.5" fill="#93C3E8" stroke="#2a2a2a" stroke-width="0.7"/>
<line x1="204.99" y1="553.40" x2="204.99" y2="613.40" stroke="#0a0a0a" stroke-width="1.75"/>
<circle cx="204.99" cy="553.40" r="0.85" fill="#111"/>
<circle cx="204.99" cy="565.40" r="0.85" fill="#111"/>
<circle cx="204.99" cy="577.40" r="0.85" fill="#111"/>
<circle cx="204.99" cy="601.40" r="0.85" fill="#111"/>
<circle cx="204.99" cy="613.40" r="0.85" fill="#111"/>
<circle cx="210.22" cy="553.40" r="2.5" fill="#DADADA"/>
<circle cx="210.22" cy="565.40" r="2.5" fill="#DADADA"/>
<circle cx="210.22" cy="577.40" r="2.5" fill="#DADADA"/>
<circle cx="210.22" cy="589.40" r="2.5" fill="#DADADA"/>
<circle cx="210.22" cy="601.40" r="2.5" fill="#DADADA"/>
<circle cx="210.22" cy="613.40" r="2.5" fill="#DADADA"/>
<circle cx="210.22" cy="553.40" r="2.5" fill="#7F50A6" stroke="#2a2a2a" stroke-width="0.7"/>
<circle cx="210.22" cy="565.40" r="2.5" fill="#D9582A" stroke="#2a2a2a" stroke-width="0.7"/>
<circle cx="210.22" cy="589.40" r="2.5" fill="#5A70B5" stroke="#2a2a2a" stroke-width="0.7"/>
<circle cx="210.22" cy="613.40" r="2.5" fill="#93C3E8" stroke="#2a2a2a" stroke-width="0.7"/>
<line x1="210.22" y1="553.40" x2="210.22" y2="613.40" stroke="#0a0a0a" stroke-width="1.75"/>
<circle cx="210.22" cy="553.40" r="0.85" fill="#111"/>
<circle cx="210.22" cy="565.40" r="0.85" fill="#111"/>
<circle cx="210.22" cy="589.40" r="0.85" fill="#111"/>
<circle cx="210.22" cy="613.40" r="0.85" fill="#111"/>
<circle cx="215.45" cy="553.40" r="2.5" fill="#DADADA"/>
<circle cx="215.45" cy="565.40" r="2.5" fill="#DADADA"/>
<circle cx="215.45" cy="577.40" r="2.5" fill="#DADADA"/>
<circle cx="215.45" cy="589.40" r="2.5" fill="#DADADA"/>
<circle cx="215.45" cy="601.40" r="2.5" fill="#DADADA"/>
<circle cx="215.45" cy="613.40" r="2.5" fill="#DADADA"/>
<circle cx="215.45" cy="553.40" r="2.5" fill="#7F50A6" stroke="#2a2a2a" stroke-width="0.7"/>
<circle cx="215.45" cy="565.40" r="2.5" fill="#D9582A" stroke="#2a2a2a" stroke-width="0.7"/>
<circle cx="215.45" cy="601.40" r="2.5" fill="#701214" stroke="#2a2a2a" stroke-width="0.7"/>
<circle cx="215.45" cy="613.40" r="2.5" fill="#93C3E8" stroke="#2a2a2a" stroke-width="0.7"/>
<line x1="215.45" y1="553.40" x2="215.45" y2="613.40" stroke="#0a0a0a" stroke-width="1.75"/>
<circle cx="215.45" cy="553.40" r="0.85" fill="#111"/>
<circle cx="215.45" cy="565.40" r="0.85" fill="#111"/>
<circle cx="215.45" cy="601.40" r="0.85" fill="#111"/>
<circle cx="215.45" cy="613.40" r="0.85" fill="#111"/>
<circle cx="220.68" cy="553.40" r="2.5" fill="#DADADA"/>
<circle cx="220.68" cy="565.40" r="2.5" fill="#DADADA"/>
<circle cx="220.68" cy="577.40" r="2.5" fill="#DADADA"/>
<circle cx="220.68" cy="589.40" r="2.5" fill="#DADADA"/>
<circle cx="220.68" cy="601.40" r="2.5" fill="#DADADA"/>
<circle cx="220.68" cy="613.40" r="2.5" fill="#DADADA"/>
<circle cx="220.68" cy="553.40" r="2.5" fill="#7F50A6" stroke="#2a2a2a" stroke-width="0.7"/>
<circle cx="220.68" cy="565.40" r="2.5" fill="#D9582A" stroke="#2a2a2a" stroke-width="0.7"/>
<circle cx="220.68" cy="577.40" r="2.5" fill="#EE9A22" stroke="#2a2a2a" stroke-width="0.7"/>
<circle cx="220.68" cy="589.40" r="2.5" fill="#5A70B5" stroke="#2a2a2a" stroke-width="0.7"/>
<circle cx="220.68" cy="601.40" r="2.5" fill="#701214" stroke="#2a2a2a" stroke-width="0.7"/>
<circle cx="220.68" cy="613.40" r="2.5" fill="#93C3E8" stroke="#2a2a2a" stroke-width="0.7"/>
<line x1="220.68" y1="553.40" x2="220.68" y2="613.40" stroke="#0a0a0a" stroke-width="1.75"/>
<circle cx="220.68" cy="553.40" r="0.85" fill="#111"/>
<circle cx="220.68" cy="565.40" r="0.85" fill="#111"/>
<circle cx="220.68" cy="577.40" r="0.85" fill="#111"/>
<circle cx="220.68" cy="589.40" r="0.85" fill="#111"/>
<circle cx="220.68" cy="601.40" r="0.85" fill="#111"/>
<circle cx="220.68" cy="613.40" r="0.85" fill="#111"/>
<text x="128.40" y="630.50" font-size="9.6" text-anchor="middle" fill="#222">Antigen reactivity</text>
<text x="8.00" y="473.40" font-size="8.3" text-anchor="middle" fill="#222" transform="rotate(-90 8.00 473.40)"># of cross-reactive TCRs</text>
<text x="349.50" y="395.30" font-size="10.7" text-anchor="middle" fill="#222">J1994_5</text>
<text x="349.50" y="407.80" font-size="10.85" text-anchor="middle" fill="#222">Cross-reactiveTCRs</text>
<rect x="258.00" y="548.90" width="193.00" height="12.00" fill="#F1F2F4"/>
<rect x="258.00" y="572.80" width="193.00" height="12.00" fill="#F1F2F4"/>
<rect x="258.00" y="596.70" width="193.00" height="12.00" fill="#F1F2F4"/>
<rect x="259.20" y="410.20" width="10.80" height="135.30" fill="#555555"/>
<rect x="271.20" y="459.40" width="10.80" height="86.10" fill="#555555"/>
<rect x="283.20" y="496.30" width="10.80" height="49.20" fill="#555555"/>
<rect x="295.20" y="496.30" width="10.80" height="49.20" fill="#555555"/>
<rect x="307.20" y="508.60" width="10.80" height="36.90" fill="#555555"/>
<rect x="319.20" y="508.60" width="10.80" height="36.90" fill="#555555"/>
<rect x="331.20" y="520.90" width="10.80" height="24.60" fill="#555555"/>
<rect x="343.20" y="520.90" width="10.80" height="24.60" fill="#555555"/>
<rect x="355.20" y="520.90" width="10.80" height="24.60" fill="#555555"/>
<rect x="367.20" y="533.20" width="10.80" height="12.30" fill="#555555"/>
<rect x="379.20" y="533.20" width="10.80" height="12.30" fill="#555555"/>
<rect x="391.20" y="533.20" width="10.80" height="12.30" fill="#555555"/>
<rect x="403.20" y="533.20" width="10.80" height="12.30" fill="#555555"/>
<rect x="415.20" y="533.20" width="10.80" height="12.30" fill="#555555"/>
<rect x="427.20" y="533.20" width="10.80" height="12.30" fill="#555555"/>
<rect x="439.20" y="533.20" width="10.80" height="12.30" fill="#555555"/>
<line x1="258.00" y1="546.50" x2="451.00" y2="546.50" stroke="#666" stroke-width="1.2"/>
<line x1="257.50" y1="404.60" x2="257.50" y2="546.30" stroke="#444" stroke-width="0.9"/>
<text x="254.90" y="436.60" font-size="8.3" text-anchor="end" fill="#333">9</text>
<text x="254.90" y="473.60" font-size="8.3" text-anchor="end" fill="#333">6</text>
<text x="254.90" y="510.70" font-size="8.3" text-anchor="end" fill="#333">3</text>
<text x="254.90" y="547.50" font-size="8.3" text-anchor="end" fill="#333">0</text>
<text x="264.60" y="409.20" font-size="6.6" text-anchor="middle" fill="#333">11</text>
<text x="276.60" y="458.40" font-size="6.6" text-anchor="middle" fill="#333">7</text>
<text x="288.60" y="495.30" font-size="6.6" text-anchor="middle" fill="#333">4</text>
<text x="300.60" y="495.30" font-size="6.6" text-anchor="middle" fill="#333">4</text>
<text x="312.60" y="507.60" font-size="6.6" text-anchor="middle" fill="#333">3</text>
<text x="324.60" y="507.60" font-size="6.6" text-anchor="middle" fill="#333">3</text>
<text x="336.60" y="519.90" font-size="6.6" text-anchor="middle" fill="#333">2</text>
<text x="348.60" y="519.90" font-size="6.6" text-anchor="middle" fill="#333">2</text>
<text x="360.60" y="519.90" font-size="6.6" text-anchor="middle" fill="#333">2</text>
<text x="372.60" y="532.20" font-size="6.6" text-anchor="middle" fill="#333">1</text>
<text x="396.60" y="532.20" font-size="6.6" text-anchor="middle" fill="#333">1</text>
<text x="408.60" y="532.20" font-size="6.6" text-anchor="middle" fill="#333">1</text>
<text x="418.10" y="532.20" font-size="6.6" text-anchor="middle" fill="#333">11</text>
<text x="432.60" y="532.20" font-size="6.6" text-anchor="middle" fill="#333">1</text>
<text x="444.60" y="532.20" font-size="6.6" text-anchor="middle" fill="#333">1</text>
<text x="260.20" y="557.90" font-size="8.4" text-anchor="end" fill="#333">G12C</text>
<text x="260.20" y="569.85" font-size="8.4" text-anchor="end" fill="#333">G12A</text>
<text x="260.20" y="581.80" font-size="8.4" text-anchor="end" fill="#333">G12V</text>
<text x="260.20" y="593.75" font-size="8.4" text-anchor="end" fill="#333">G12R</text>
<text x="260.20" y="605.70" font-size="8.4" text-anchor="end" fill="#333">G12D</text>
<text x="260.20" y="617.65" font-size="8.4" text-anchor="end" fill="#333">G13D</text>
<circle cx="264.60" cy="554.90" r="2.85" fill="#DADADA"/>
<circle cx="264.60" cy="566.85" r="2.85" fill="#DADADA"/>
<circle cx="264.60" cy="578.80" r="2.85" fill="#DADADA"/>
<circle cx="264.60" cy="590.75" r="2.85" fill="#DADADA"/>
<circle cx="264.60" cy="602.70" r="2.85" fill="#DADADA"/>
<circle cx="264.60" cy="614.65" r="2.85" fill="#DADADA"/>
<circle cx="264.60" cy="554.90" r="2.85" fill="#7F50A6" stroke="#2a2a2a" stroke-width="0.7"/>
<circle cx="264.60" cy="566.85" r="2.85" fill="#D9582A" stroke="#2a2a2a" stroke-width="0.7"/>
<circle cx="264.60" cy="578.80" r="2.85" fill="#EE9A22" stroke="#2a2a2a" stroke-width="0.7"/>
<line x1="264.60" y1="554.90" x2="264.60" y2="578.80" stroke="#0a0a0a" stroke-width="1.9"/>
<circle cx="264.60" cy="554.90" r="0.85" fill="#111"/>
<circle cx="264.60" cy="566.85" r="0.85" fill="#111"/>
<circle cx="264.60" cy="578.80" r="0.85" fill="#111"/>
<circle cx="276.60" cy="554.90" r="2.85" fill="#DADADA"/>
<circle cx="276.60" cy="566.85" r="2.85" fill="#DADADA"/>
<circle cx="276.60" cy="578.80" r="2.85" fill="#DADADA"/>
<circle cx="276.60" cy="590.75" r="2.85" fill="#DADADA"/>
<circle cx="276.60" cy="602.70" r="2.85" fill="#DADADA"/>
<circle cx="276.60" cy="614.65" r="2.85" fill="#DADADA"/>
<circle cx="276.60" cy="554.90" r="2.85" fill="#7F50A6" stroke="#2a2a2a" stroke-width="0.7"/>
<circle cx="276.60" cy="566.85" r="2.85" fill="#D9582A" stroke="#2a2a2a" stroke-width="0.7"/>
<line x1="276.60" y1="554.90" x2="276.60" y2="566.85" stroke="#0a0a0a" stroke-width="1.9"/>
<circle cx="276.60" cy="554.90" r="0.85" fill="#111"/>
<circle cx="276.60" cy="566.85" r="0.85" fill="#111"/>
<circle cx="288.60" cy="554.90" r="2.85" fill="#DADADA"/>
<circle cx="288.60" cy="566.85" r="2.85" fill="#DADADA"/>
<circle cx="288.60" cy="578.80" r="2.85" fill="#DADADA"/>
<circle cx="288.60" cy="590.75" r="2.85" fill="#DADADA"/>
<circle cx="288.60" cy="602.70" r="2.85" fill="#DADADA"/>
<circle cx="288.60" cy="614.65" r="2.85" fill="#DADADA"/>
<circle cx="288.60" cy="554.90" r="2.85" fill="#7F50A6" stroke="#2a2a2a" stroke-width="0.7"/>
<circle cx="288.60" cy="578.80" r="2.85" fill="#EE9A22" stroke="#2a2a2a" stroke-width="0.7"/>
<line x1="288.60" y1="554.90" x2="288.60" y2="578.80" stroke="#0a0a0a" stroke-width="1.9"/>
<circle cx="288.60" cy="554.90" r="0.85" fill="#111"/>
<circle cx="288.60" cy="578.80" r="0.85" fill="#111"/>
<circle cx="300.60" cy="554.90" r="2.85" fill="#DADADA"/>
<circle cx="300.60" cy="566.85" r="2.85" fill="#DADADA"/>
<circle cx="300.60" cy="578.80" r="2.85" fill="#DADADA"/>
<circle cx="300.60" cy="590.75" r="2.85" fill="#DADADA"/>
<circle cx="300.60" cy="602.70" r="2.85" fill="#DADADA"/>
<circle cx="300.60" cy="614.65" r="2.85" fill="#DADADA"/>
<circle cx="300.60" cy="554.90" r="2.85" fill="#7F50A6" stroke="#2a2a2a" stroke-width="0.7"/>
<circle cx="300.60" cy="590.75" r="2.85" fill="#701214" stroke="#2a2a2a" stroke-width="0.7"/>
<line x1="300.60" y1="554.90" x2="300.60" y2="590.75" stroke="#0a0a0a" stroke-width="1.9"/>
<circle cx="300.60" cy="554.90" r="0.85" fill="#111"/>
<circle cx="300.60" cy="590.75" r="0.85" fill="#111"/>
<circle cx="312.60" cy="554.90" r="2.85" fill="#DADADA"/>
<circle cx="312.60" cy="566.85" r="2.85" fill="#DADADA"/>
<circle cx="312.60" cy="578.80" r="2.85" fill="#DADADA"/>
<circle cx="312.60" cy="590.75" r="2.85" fill="#DADADA"/>
<circle cx="312.60" cy="602.70" r="2.85" fill="#DADADA"/>
<circle cx="312.60" cy="614.65" r="2.85" fill="#DADADA"/>
<circle cx="312.60" cy="566.85" r="2.85" fill="#D9582A" stroke="#2a2a2a" stroke-width="0.7"/>
<circle cx="312.60" cy="578.80" r="2.85" fill="#EE9A22" stroke="#2a2a2a" stroke-width="0.7"/>
<line x1="312.60" y1="566.85" x2="312.60" y2="578.80" stroke="#0a0a0a" stroke-width="1.9"/>
<circle cx="312.60" cy="566.85" r="0.85" fill="#111"/>
<circle cx="312.60" cy="578.80" r="0.85" fill="#111"/>
<circle cx="324.60" cy="554.90" r="2.85" fill="#DADADA"/>
<circle cx="324.60" cy="566.85" r="2.85" fill="#DADADA"/>
<circle cx="324.60" cy="578.80" r="2.85" fill="#DADADA"/>
<circle cx="324.60" cy="590.75" r="2.85" fill="#DADADA"/>
<circle cx="324.60" cy="602.70" r="2.85" fill="#DADADA"/>
<circle cx="324.60" cy="614.65" r="2.85" fill="#DADADA"/>
<circle cx="324.60" cy="566.85" r="2.85" fill="#D9582A" stroke="#2a2a2a" stroke-width="0.7"/>
<circle cx="324.60" cy="590.75" r="2.85" fill="#701214" stroke="#2a2a2a" stroke-width="0.7"/>
<line x1="324.60" y1="566.85" x2="324.60" y2="590.75" stroke="#0a0a0a" stroke-width="1.9"/>
<circle cx="324.60" cy="566.85" r="0.85" fill="#111"/>
<circle cx="324.60" cy="590.75" r="0.85" fill="#111"/>
<circle cx="336.60" cy="554.90" r="2.85" fill="#DADADA"/>
<circle cx="336.60" cy="566.85" r="2.85" fill="#DADADA"/>
<circle cx="336.60" cy="578.80" r="2.85" fill="#DADADA"/>
<circle cx="336.60" cy="590.75" r="2.85" fill="#DADADA"/>
<circle cx="336.60" cy="602.70" r="2.85" fill="#DADADA"/>
<circle cx="336.60" cy="614.65" r="2.85" fill="#DADADA"/>
<circle cx="336.60" cy="554.90" r="2.85" fill="#7F50A6" stroke="#2a2a2a" stroke-width="0.7"/>
<circle cx="336.60" cy="578.80" r="2.85" fill="#EE9A22" stroke="#2a2a2a" stroke-width="0.7"/>
<circle cx="336.60" cy="590.75" r="2.85" fill="#701214" stroke="#2a2a2a" stroke-width="0.7"/>
<line x1="336.60" y1="554.90" x2="336.60" y2="590.75" stroke="#0a0a0a" stroke-width="1.9"/>
<circle cx="336.60" cy="554.90" r="0.85" fill="#111"/>
<circle cx="336.60" cy="578.80" r="0.85" fill="#111"/>
<circle cx="336.60" cy="590.75" r="0.85" fill="#111"/>
<circle cx="348.60" cy="554.90" r="2.85" fill="#DADADA"/>
<circle cx="348.60" cy="566.85" r="2.85" fill="#DADADA"/>
<circle cx="348.60" cy="578.80" r="2.85" fill="#DADADA"/>
<circle cx="348.60" cy="590.75" r="2.85" fill="#DADADA"/>
<circle cx="348.60" cy="602.70" r="2.85" fill="#DADADA"/>
<circle cx="348.60" cy="614.65" r="2.85" fill="#DADADA"/>
<circle cx="348.60" cy="554.90" r="2.85" fill="#7F50A6" stroke="#2a2a2a" stroke-width="0.7"/>
<circle cx="348.60" cy="566.85" r="2.85" fill="#D9582A" stroke="#2a2a2a" stroke-width="0.7"/>
<circle cx="348.60" cy="578.80" r="2.85" fill="#EE9A22" stroke="#2a2a2a" stroke-width="0.7"/>
<circle cx="348.60" cy="590.75" r="2.85" fill="#701214" stroke="#2a2a2a" stroke-width="0.7"/>
<line x1="348.60" y1="554.90" x2="348.60" y2="590.75" stroke="#0a0a0a" stroke-width="1.9"/>
<circle cx="348.60" cy="554.90" r="0.85" fill="#111"/>
<circle cx="348.60" cy="566.85" r="0.85" fill="#111"/>
<circle cx="348.60" cy="578.80" r="0.85" fill="#111"/>
<circle cx="348.60" cy="590.75" r="0.85" fill="#111"/>
<circle cx="360.60" cy="554.90" r="2.85" fill="#DADADA"/>
<circle cx="360.60" cy="566.85" r="2.85" fill="#DADADA"/>
<circle cx="360.60" cy="578.80" r="2.85" fill="#DADADA"/>
<circle cx="360.60" cy="590.75" r="2.85" fill="#DADADA"/>
<circle cx="360.60" cy="602.70" r="2.85" fill="#DADADA"/>
<circle cx="360.60" cy="614.65" r="2.85" fill="#DADADA"/>
<circle cx="360.60" cy="554.90" r="2.85" fill="#7F50A6" stroke="#2a2a2a" stroke-width="0.7"/>
<circle cx="360.60" cy="566.85" r="2.85" fill="#D9582A" stroke="#2a2a2a" stroke-width="0.7"/>
<circle cx="360.60" cy="590.75" r="2.85" fill="#701214" stroke="#2a2a2a" stroke-width="0.7"/>
<line x1="360.60" y1="554.90" x2="360.60" y2="590.75" stroke="#0a0a0a" stroke-width="1.9"/>
<circle cx="360.60" cy="554.90" r="0.85" fill="#111"/>
<circle cx="360.60" cy="566.85" r="0.85" fill="#111"/>
<circle cx="360.60" cy="590.75" r="0.85" fill="#111"/>
<circle cx="372.60" cy="554.90" r="2.85" fill="#DADADA"/>
<circle cx="372.60" cy="566.85" r="2.85" fill="#DADADA"/>
<circle cx="372.60" cy="578.80" r="2.85" fill="#DADADA"/>
<circle cx="372.60" cy="590.75" r="2.85" fill="#DADADA"/>
<circle cx="372.60" cy="602.70" r="2.85" fill="#DADADA"/>
<circle cx="372.60" cy="614.65" r="2.85" fill="#DADADA"/>
<circle cx="372.60" cy="578.80" r="2.85" fill="#EE9A22" stroke="#2a2a2a" stroke-width="0.7"/>
<circle cx="372.60" cy="590.75" r="2.85" fill="#701214" stroke="#2a2a2a" stroke-width="0.7"/>
<line x1="372.60" y1="578.80" x2="372.60" y2="590.75" stroke="#0a0a0a" stroke-width="1.9"/>
<circle cx="372.60" cy="578.80" r="0.85" fill="#111"/>
<circle cx="372.60" cy="590.75" r="0.85" fill="#111"/>
<circle cx="384.60" cy="554.90" r="2.85" fill="#DADADA"/>
<circle cx="384.60" cy="566.85" r="2.85" fill="#DADADA"/>
<circle cx="384.60" cy="578.80" r="2.85" fill="#DADADA"/>
<circle cx="384.60" cy="590.75" r="2.85" fill="#DADADA"/>
<circle cx="384.60" cy="602.70" r="2.85" fill="#DADADA"/>
<circle cx="384.60" cy="614.65" r="2.85" fill="#DADADA"/>
<circle cx="384.60" cy="578.80" r="2.85" fill="#EE9A22" stroke="#2a2a2a" stroke-width="0.7"/>
<circle cx="384.60" cy="602.70" r="2.85" fill="#5A70B5" stroke="#2a2a2a" stroke-width="0.7"/>
<line x1="384.60" y1="578.80" x2="384.60" y2="602.70" stroke="#0a0a0a" stroke-width="1.9"/>
<circle cx="384.60" cy="578.80" r="0.85" fill="#111"/>
<circle cx="384.60" cy="602.70" r="0.85" fill="#111"/>
<circle cx="396.60" cy="554.90" r="2.85" fill="#DADADA"/>
<circle cx="396.60" cy="566.85" r="2.85" fill="#DADADA"/>
<circle cx="396.60" cy="578.80" r="2.85" fill="#DADADA"/>
<circle cx="396.60" cy="590.75" r="2.85" fill="#DADADA"/>
<circle cx="396.60" cy="602.70" r="2.85" fill="#DADADA"/>
<circle cx="396.60" cy="614.65" r="2.85" fill="#DADADA"/>
<circle cx="396.60" cy="554.90" r="2.85" fill="#7F50A6" stroke="#2a2a2a" stroke-width="0.7"/>
<circle cx="396.60" cy="602.70" r="2.85" fill="#5A70B5" stroke="#2a2a2a" stroke-width="0.7"/>
<circle cx="396.60" cy="614.65" r="2.85" fill="#93C3E8" stroke="#2a2a2a" stroke-width="0.7"/>
<line x1="396.60" y1="554.90" x2="396.60" y2="614.65" stroke="#0a0a0a" stroke-width="1.9"/>
<circle cx="396.60" cy="554.90" r="0.85" fill="#111"/>
<circle cx="396.60" cy="602.70" r="0.85" fill="#111"/>
<circle cx="396.60" cy="614.65" r="0.85" fill="#111"/>
<circle cx="408.60" cy="554.90" r="2.85" fill="#DADADA"/>
<circle cx="408.60" cy="566.85" r="2.85" fill="#DADADA"/>
<circle cx="408.60" cy="578.80" r="2.85" fill="#DADADA"/>
<circle cx="408.60" cy="590.75" r="2.85" fill="#DADADA"/>
<circle cx="408.60" cy="602.70" r="2.85" fill="#DADADA"/>
<circle cx="408.60" cy="614.65" r="2.85" fill="#DADADA"/>
<circle cx="408.60" cy="554.90" r="2.85" fill="#7F50A6" stroke="#2a2a2a" stroke-width="0.7"/>
<circle cx="408.60" cy="578.80" r="2.85" fill="#EE9A22" stroke="#2a2a2a" stroke-width="0.7"/>
<circle cx="408.60" cy="590.75" r="2.85" fill="#701214" stroke="#2a2a2a" stroke-width="0.7"/>
<circle cx="408.60" cy="602.70" r="2.85" fill="#5A70B5" stroke="#2a2a2a" stroke-width="0.7"/>
<line x1="408.60" y1="554.90" x2="408.60" y2="602.70" stroke="#0a0a0a" stroke-width="1.9"/>
<circle cx="408.60" cy="554.90" r="0.85" fill="#111"/>
<circle cx="408.60" cy="578.80" r="0.85" fill="#111"/>
<circle cx="408.60" cy="590.75" r="0.85" fill="#111"/>
<circle cx="408.60" cy="602.70" r="0.85" fill="#111"/>
<circle cx="420.60" cy="554.90" r="2.85" fill="#DADADA"/>
<circle cx="420.60" cy="566.85" r="2.85" fill="#DADADA"/>
<circle cx="420.60" cy="578.80" r="2.85" fill="#DADADA"/>
<circle cx="420.60" cy="590.75" r="2.85" fill="#DADADA"/>
<circle cx="420.60" cy="602.70" r="2.85" fill="#DADADA"/>
<circle cx="420.60" cy="614.65" r="2.85" fill="#DADADA"/>
<circle cx="420.60" cy="566.85" r="2.85" fill="#D9582A" stroke="#2a2a2a" stroke-width="0.7"/>
<circle cx="420.60" cy="590.75" r="2.85" fill="#701214" stroke="#2a2a2a" stroke-width="0.7"/>
<circle cx="420.60" cy="614.65" r="2.85" fill="#93C3E8" stroke="#2a2a2a" stroke-width="0.7"/>
<line x1="420.60" y1="566.85" x2="420.60" y2="614.65" stroke="#0a0a0a" stroke-width="1.9"/>
<circle cx="420.60" cy="566.85" r="0.85" fill="#111"/>
<circle cx="420.60" cy="590.75" r="0.85" fill="#111"/>
<circle cx="420.60" cy="614.65" r="0.85" fill="#111"/>
<circle cx="432.60" cy="554.90" r="2.85" fill="#DADADA"/>
<circle cx="432.60" cy="566.85" r="2.85" fill="#DADADA"/>
<circle cx="432.60" cy="578.80" r="2.85" fill="#DADADA"/>
<circle cx="432.60" cy="590.75" r="2.85" fill="#DADADA"/>
<circle cx="432.60" cy="602.70" r="2.85" fill="#DADADA"/>
<circle cx="432.60" cy="614.65" r="2.85" fill="#DADADA"/>
<circle cx="432.60" cy="566.85" r="2.85" fill="#D9582A" stroke="#2a2a2a" stroke-width="0.7"/>
<circle cx="432.60" cy="578.80" r="2.85" fill="#EE9A22" stroke="#2a2a2a" stroke-width="0.7"/>
<circle cx="432.60" cy="590.75" r="2.85" fill="#701214" stroke="#2a2a2a" stroke-width="0.7"/>
<circle cx="432.60" cy="602.70" r="2.85" fill="#5A70B5" stroke="#2a2a2a" stroke-width="0.7"/>
<circle cx="432.60" cy="614.65" r="2.85" fill="#93C3E8" stroke="#2a2a2a" stroke-width="0.7"/>
<line x1="432.60" y1="566.85" x2="432.60" y2="614.65" stroke="#0a0a0a" stroke-width="1.9"/>
<circle cx="432.60" cy="566.85" r="0.85" fill="#111"/>
<circle cx="432.60" cy="578.80" r="0.85" fill="#111"/>
<circle cx="432.60" cy="590.75" r="0.85" fill="#111"/>
<circle cx="432.60" cy="602.70" r="0.85" fill="#111"/>
<circle cx="432.60" cy="614.65" r="0.85" fill="#111"/>
<circle cx="444.60" cy="554.90" r="2.85" fill="#DADADA"/>
<circle cx="444.60" cy="566.85" r="2.85" fill="#DADADA"/>
<circle cx="444.60" cy="578.80" r="2.85" fill="#DADADA"/>
<circle cx="444.60" cy="590.75" r="2.85" fill="#DADADA"/>
<circle cx="444.60" cy="602.70" r="2.85" fill="#DADADA"/>
<circle cx="444.60" cy="614.65" r="2.85" fill="#DADADA"/>
<circle cx="444.60" cy="554.90" r="2.85" fill="#7F50A6" stroke="#2a2a2a" stroke-width="0.7"/>
<circle cx="444.60" cy="566.85" r="2.85" fill="#D9582A" stroke="#2a2a2a" stroke-width="0.7"/>
<circle cx="444.60" cy="602.70" r="2.85" fill="#5A70B5" stroke="#2a2a2a" stroke-width="0.7"/>
<line x1="444.60" y1="554.90" x2="444.60" y2="602.70" stroke="#0a0a0a" stroke-width="1.9"/>
<circle cx="444.60" cy="554.90" r="0.85" fill="#111"/>
<circle cx="444.60" cy="566.85" r="0.85" fill="#111"/>
<circle cx="444.60" cy="602.70" r="0.85" fill="#111"/>
<text x="349.00" y="630.50" font-size="9.6" text-anchor="middle" fill="#222">Antigen reactivity</text>
<text x="244.80" y="472.30" font-size="8.3" text-anchor="middle" fill="#222" transform="rotate(-90 244.80 472.30)"># of cross-reactive TCRs</text>
<text x="591.00" y="395.30" font-size="10.7" text-anchor="middle" fill="#222">J1994_6</text>
<text x="591.00" y="407.80" font-size="10.85" text-anchor="middle" fill="#222">Cross-reactive TCRs</text>
<rect x="487.00" y="547.60" width="197.00" height="12.00" fill="#F1F2F4"/>
<rect x="487.00" y="572.20" width="197.00" height="12.00" fill="#F1F2F4"/>
<rect x="487.00" y="596.80" width="197.00" height="12.00" fill="#F1F2F4"/>
<rect x="487.80" y="407.10" width="11.20" height="138.40" fill="#555555"/>
<rect x="500.08" y="441.70" width="11.20" height="103.80" fill="#555555"/>
<rect x="512.36" y="441.70" width="11.20" height="103.80" fill="#555555"/>
<rect x="524.64" y="476.30" width="11.20" height="69.20" fill="#555555"/>
<rect x="536.92" y="476.30" width="11.20" height="69.20" fill="#555555"/>
<rect x="549.20" y="476.30" width="11.20" height="69.20" fill="#555555"/>
<rect x="561.48" y="476.30" width="11.20" height="69.20" fill="#555555"/>
<rect x="573.76" y="510.90" width="11.20" height="34.60" fill="#555555"/>
<rect x="586.04" y="510.90" width="11.20" height="34.60" fill="#555555"/>
<rect x="598.32" y="510.90" width="11.20" height="34.60" fill="#555555"/>
<rect x="610.60" y="510.90" width="11.20" height="34.60" fill="#555555"/>
<rect x="622.88" y="510.90" width="11.20" height="34.60" fill="#555555"/>
<rect x="635.16" y="510.90" width="11.20" height="34.60" fill="#555555"/>
<rect x="647.44" y="510.90" width="11.20" height="34.60" fill="#555555"/>
<rect x="659.72" y="510.90" width="11.20" height="34.60" fill="#555555"/>
<rect x="672.00" y="510.90" width="11.20" height="34.60" fill="#555555"/>
<line x1="487.00" y1="546.50" x2="684.00" y2="546.50" stroke="#666" stroke-width="1.2"/>
<line x1="487.50" y1="402.00" x2="487.50" y2="546.30" stroke="#444" stroke-width="0.9"/>
<text x="484.50" y="409.40" font-size="8.4" text-anchor="end" fill="#333">4</text>
<text x="484.50" y="444.00" font-size="8.4" text-anchor="end" fill="#333">3</text>
<text x="484.50" y="478.70" font-size="8.4" text-anchor="end" fill="#333">2</text>
<text x="484.50" y="512.30" font-size="8.4" text-anchor="end" fill="#333">1</text>
<text x="484.50" y="544.10" font-size="8.4" text-anchor="end" fill="#333">0</text>
<text x="493.40" y="406.10" font-size="6.6" text-anchor="middle" fill="#333">4</text>
<text x="505.68" y="440.70" font-size="6.6" text-anchor="middle" fill="#333">3</text>
<text x="517.96" y="440.70" font-size="6.6" text-anchor="middle" fill="#333">3</text>
<text x="530.24" y="475.30" font-size="6.6" text-anchor="middle" fill="#333">2</text>
<text x="542.52" y="475.30" font-size="6.6" text-anchor="middle" fill="#333">2</text>
<text x="554.80" y="475.30" font-size="6.6" text-anchor="middle" fill="#333">2</text>
<text x="567.08" y="475.30" font-size="6.6" text-anchor="middle" fill="#333">2</text>
<text x="579.36" y="509.90" font-size="6.6" text-anchor="middle" fill="#333">1</text>
<text x="591.64" y="509.90" font-size="6.6" text-anchor="middle" fill="#333">1</text>
<text x="616.20" y="509.90" font-size="6.6" text-anchor="middle" fill="#333">1</text>
<text x="628.48" y="509.90" font-size="6.6" text-anchor="middle" fill="#333">1</text>
<text x="638.26" y="509.90" font-size="6.6" text-anchor="middle" fill="#333">11</text>
<text x="653.04" y="509.90" font-size="6.6" text-anchor="middle" fill="#333">1</text>
<text x="665.32" y="509.90" font-size="6.6" text-anchor="middle" fill="#333">1</text>
<text x="677.60" y="509.90" font-size="6.6" text-anchor="middle" fill="#333">1</text>
<text x="484.50" y="556.60" font-size="8.4" text-anchor="end" fill="#333">G12C</text>
<text x="484.50" y="568.90" font-size="8.4" text-anchor="end" fill="#333">G12V</text>
<text x="484.50" y="581.20" font-size="8.4" text-anchor="end" fill="#333">G12A</text>
<text x="484.50" y="593.50" font-size="8.4" text-anchor="end" fill="#333">G12R</text>
<text x="484.50" y="605.80" font-size="8.4" text-anchor="end" fill="#333">G13D</text>
<text x="484.50" y="618.10" font-size="8.4" text-anchor="end" fill="#333">G12D</text>
<circle cx="493.40" cy="553.60" r="2.85" fill="#DADADA"/>
<circle cx="493.40" cy="565.90" r="2.85" fill="#DADADA"/>
<circle cx="493.40" cy="578.20" r="2.85" fill="#DADADA"/>
<circle cx="493.40" cy="590.50" r="2.85" fill="#DADADA"/>
<circle cx="493.40" cy="602.80" r="2.85" fill="#DADADA"/>
<circle cx="493.40" cy="615.10" r="2.85" fill="#DADADA"/>
<circle cx="493.40" cy="565.90" r="2.85" fill="#EE9A22" stroke="#2a2a2a" stroke-width="0.7"/>
<circle cx="493.40" cy="578.20" r="2.85" fill="#D9582A" stroke="#2a2a2a" stroke-width="0.7"/>
<line x1="493.40" y1="565.90" x2="493.40" y2="578.20" stroke="#0a0a0a" stroke-width="1.9"/>
<circle cx="493.40" cy="565.90" r="0.85" fill="#111"/>
<circle cx="493.40" cy="578.20" r="0.85" fill="#111"/>
<circle cx="505.68" cy="553.60" r="2.85" fill="#DADADA"/>
<circle cx="505.68" cy="565.90" r="2.85" fill="#DADADA"/>
<circle cx="505.68" cy="578.20" r="2.85" fill="#DADADA"/>
<circle cx="505.68" cy="590.50" r="2.85" fill="#DADADA"/>
<circle cx="505.68" cy="602.80" r="2.85" fill="#DADADA"/>
<circle cx="505.68" cy="615.10" r="2.85" fill="#DADADA"/>
<circle cx="505.68" cy="553.60" r="2.85" fill="#7F50A6" stroke="#2a2a2a" stroke-width="0.7"/>
<circle cx="505.68" cy="565.90" r="2.85" fill="#EE9A22" stroke="#2a2a2a" stroke-width="0.7"/>
<circle cx="505.68" cy="578.20" r="2.85" fill="#D9582A" stroke="#2a2a2a" stroke-width="0.7"/>
<circle cx="505.68" cy="602.80" r="2.85" fill="#93C3E8" stroke="#2a2a2a" stroke-width="0.7"/>
<line x1="505.68" y1="553.60" x2="505.68" y2="602.80" stroke="#0a0a0a" stroke-width="1.9"/>
<circle cx="505.68" cy="553.60" r="0.85" fill="#111"/>
<circle cx="505.68" cy="565.90" r="0.85" fill="#111"/>
<circle cx="505.68" cy="578.20" r="0.85" fill="#111"/>
<circle cx="505.68" cy="602.80" r="0.85" fill="#111"/>
<circle cx="517.96" cy="553.60" r="2.85" fill="#DADADA"/>
<circle cx="517.96" cy="565.90" r="2.85" fill="#DADADA"/>
<circle cx="517.96" cy="578.20" r="2.85" fill="#DADADA"/>
<circle cx="517.96" cy="590.50" r="2.85" fill="#DADADA"/>
<circle cx="517.96" cy="602.80" r="2.85" fill="#DADADA"/>
<circle cx="517.96" cy="615.10" r="2.85" fill="#DADADA"/>
<circle cx="517.96" cy="553.60" r="2.85" fill="#7F50A6" stroke="#2a2a2a" stroke-width="0.7"/>
<circle cx="517.96" cy="565.90" r="2.85" fill="#EE9A22" stroke="#2a2a2a" stroke-width="0.7"/>
<line x1="517.96" y1="553.60" x2="517.96" y2="565.90" stroke="#0a0a0a" stroke-width="1.9"/>
<circle cx="517.96" cy="553.60" r="0.85" fill="#111"/>
<circle cx="517.96" cy="565.90" r="0.85" fill="#111"/>
<circle cx="530.24" cy="553.60" r="2.85" fill="#DADADA"/>
<circle cx="530.24" cy="565.90" r="2.85" fill="#DADADA"/>
<circle cx="530.24" cy="578.20" r="2.85" fill="#DADADA"/>
<circle cx="530.24" cy="590.50" r="2.85" fill="#DADADA"/>
<circle cx="530.24" cy="602.80" r="2.85" fill="#DADADA"/>
<circle cx="530.24" cy="615.10" r="2.85" fill="#DADADA"/>
<circle cx="530.24" cy="553.60" r="2.85" fill="#7F50A6" stroke="#2a2a2a" stroke-width="0.7"/>
<circle cx="530.24" cy="565.90" r="2.85" fill="#EE9A22" stroke="#2a2a2a" stroke-width="0.7"/>
<circle cx="530.24" cy="578.20" r="2.85" fill="#D9582A" stroke="#2a2a2a" stroke-width="0.7"/>
<circle cx="530.24" cy="590.50" r="2.85" fill="#701214" stroke="#2a2a2a" stroke-width="0.7"/>
<line x1="530.24" y1="553.60" x2="530.24" y2="590.50" stroke="#0a0a0a" stroke-width="1.9"/>
<circle cx="530.24" cy="553.60" r="0.85" fill="#111"/>
<circle cx="530.24" cy="565.90" r="0.85" fill="#111"/>
<circle cx="530.24" cy="578.20" r="0.85" fill="#111"/>
<circle cx="530.24" cy="590.50" r="0.85" fill="#111"/>
<circle cx="542.52" cy="553.60" r="2.85" fill="#DADADA"/>
<circle cx="542.52" cy="565.90" r="2.85" fill="#DADADA"/>
<circle cx="542.52" cy="578.20" r="2.85" fill="#DADADA"/>
<circle cx="542.52" cy="590.50" r="2.85" fill="#DADADA"/>
<circle cx="542.52" cy="602.80" r="2.85" fill="#DADADA"/>
<circle cx="542.52" cy="615.10" r="2.85" fill="#DADADA"/>
<circle cx="542.52" cy="553.60" r="2.85" fill="#7F50A6" stroke="#2a2a2a" stroke-width="0.7"/>
<circle cx="542.52" cy="565.90" r="2.85" fill="#EE9A22" stroke="#2a2a2a" stroke-width="0.7"/>
<circle cx="542.52" cy="590.50" r="2.85" fill="#701214" stroke="#2a2a2a" stroke-width="0.7"/>
<line x1="542.52" y1="553.60" x2="542.52" y2="590.50" stroke="#0a0a0a" stroke-width="1.9"/>
<circle cx="542.52" cy="553.60" r="0.85" fill="#111"/>
<circle cx="542.52" cy="565.90" r="0.85" fill="#111"/>
<circle cx="542.52" cy="590.50" r="0.85" fill="#111"/>
<circle cx="554.80" cy="553.60" r="2.85" fill="#DADADA"/>
<circle cx="554.80" cy="565.90" r="2.85" fill="#DADADA"/>
<circle cx="554.80" cy="578.20" r="2.85" fill="#DADADA"/>
<circle cx="554.80" cy="590.50" r="2.85" fill="#DADADA"/>
<circle cx="554.80" cy="602.80" r="2.85" fill="#DADADA"/>
<circle cx="554.80" cy="615.10" r="2.85" fill="#DADADA"/>
<circle cx="554.80" cy="553.60" r="2.85" fill="#7F50A6" stroke="#2a2a2a" stroke-width="0.7"/>
<circle cx="554.80" cy="590.50" r="2.85" fill="#701214" stroke="#2a2a2a" stroke-width="0.7"/>
<line x1="554.80" y1="553.60" x2="554.80" y2="590.50" stroke="#0a0a0a" stroke-width="1.9"/>
<circle cx="554.80" cy="553.60" r="0.85" fill="#111"/>
<circle cx="554.80" cy="590.50" r="0.85" fill="#111"/>
<circle cx="567.08" cy="553.60" r="2.85" fill="#DADADA"/>
<circle cx="567.08" cy="565.90" r="2.85" fill="#DADADA"/>
<circle cx="567.08" cy="578.20" r="2.85" fill="#DADADA"/>
<circle cx="567.08" cy="590.50" r="2.85" fill="#DADADA"/>
<circle cx="567.08" cy="602.80" r="2.85" fill="#DADADA"/>
<circle cx="567.08" cy="615.10" r="2.85" fill="#DADADA"/>
<circle cx="567.08" cy="578.20" r="2.85" fill="#D9582A" stroke="#2a2a2a" stroke-width="0.7"/>
<circle cx="567.08" cy="590.50" r="2.85" fill="#701214" stroke="#2a2a2a" stroke-width="0.7"/>
<line x1="567.08" y1="578.20" x2="567.08" y2="590.50" stroke="#0a0a0a" stroke-width="1.9"/>
<circle cx="567.08" cy="578.20" r="0.85" fill="#111"/>
<circle cx="567.08" cy="590.50" r="0.85" fill="#111"/>
<circle cx="579.36" cy="553.60" r="2.85" fill="#DADADA"/>
<circle cx="579.36" cy="565.90" r="2.85" fill="#DADADA"/>
<circle cx="579.36" cy="578.20" r="2.85" fill="#DADADA"/>
<circle cx="579.36" cy="590.50" r="2.85" fill="#DADADA"/>
<circle cx="579.36" cy="602.80" r="2.85" fill="#DADADA"/>
<circle cx="579.36" cy="615.10" r="2.85" fill="#DADADA"/>
<circle cx="579.36" cy="565.90" r="2.85" fill="#EE9A22" stroke="#2a2a2a" stroke-width="0.7"/>
<circle cx="579.36" cy="578.20" r="2.85" fill="#D9582A" stroke="#2a2a2a" stroke-width="0.7"/>
<circle cx="579.36" cy="602.80" r="2.85" fill="#93C3E8" stroke="#2a2a2a" stroke-width="0.7"/>
<line x1="579.36" y1="565.90" x2="579.36" y2="602.80" stroke="#0a0a0a" stroke-width="1.9"/>
<circle cx="579.36" cy="565.90" r="0.85" fill="#111"/>
<circle cx="579.36" cy="578.20" r="0.85" fill="#111"/>
<circle cx="579.36" cy="602.80" r="0.85" fill="#111"/>
<circle cx="591.64" cy="553.60" r="2.85" fill="#DADADA"/>
<circle cx="591.64" cy="565.90" r="2.85" fill="#DADADA"/>
<circle cx="591.64" cy="578.20" r="2.85" fill="#DADADA"/>
<circle cx="591.64" cy="590.50" r="2.85" fill="#DADADA"/>
<circle cx="591.64" cy="602.80" r="2.85" fill="#DADADA"/>
<circle cx="591.64" cy="615.10" r="2.85" fill="#DADADA"/>
<circle cx="591.64" cy="565.90" r="2.85" fill="#EE9A22" stroke="#2a2a2a" stroke-width="0.7"/>
<circle cx="591.64" cy="602.80" r="2.85" fill="#93C3E8" stroke="#2a2a2a" stroke-width="0.7"/>
<line x1="591.64" y1="565.90" x2="591.64" y2="602.80" stroke="#0a0a0a" stroke-width="1.9"/>
<circle cx="591.64" cy="565.90" r="0.85" fill="#111"/>
<circle cx="591.64" cy="602.80" r="0.85" fill="#111"/>
<circle cx="603.92" cy="553.60" r="2.85" fill="#DADADA"/>
<circle cx="603.92" cy="565.90" r="2.85" fill="#DADADA"/>
<circle cx="603.92" cy="578.20" r="2.85" fill="#DADADA"/>
<circle cx="603.92" cy="590.50" r="2.85" fill="#DADADA"/>
<circle cx="603.92" cy="602.80" r="2.85" fill="#DADADA"/>
<circle cx="603.92" cy="615.10" r="2.85" fill="#DADADA"/>
<circle cx="603.92" cy="553.60" r="2.85" fill="#7F50A6" stroke="#2a2a2a" stroke-width="0.7"/>
<circle cx="603.92" cy="590.50" r="2.85" fill="#701214" stroke="#2a2a2a" stroke-width="0.7"/>
<circle cx="603.92" cy="602.80" r="2.85" fill="#93C3E8" stroke="#2a2a2a" stroke-width="0.7"/>
<line x1="603.92" y1="553.60" x2="603.92" y2="602.80" stroke="#0a0a0a" stroke-width="1.9"/>
<circle cx="603.92" cy="553.60" r="0.85" fill="#111"/>
<circle cx="603.92" cy="590.50" r="0.85" fill="#111"/>
<circle cx="603.92" cy="602.80" r="0.85" fill="#111"/>
<circle cx="616.20" cy="553.60" r="2.85" fill="#DADADA"/>
<circle cx="616.20" cy="565.90" r="2.85" fill="#DADADA"/>
<circle cx="616.20" cy="578.20" r="2.85" fill="#DADADA"/>
<circle cx="616.20" cy="590.50" r="2.85" fill="#DADADA"/>
<circle cx="616.20" cy="602.80" r="2.85" fill="#DADADA"/>
<circle cx="616.20" cy="615.10" r="2.85" fill="#DADADA"/>
<circle cx="616.20" cy="553.60" r="2.85" fill="#7F50A6" stroke="#2a2a2a" stroke-width="0.7"/>
<circle cx="616.20" cy="602.80" r="2.85" fill="#93C3E8" stroke="#2a2a2a" stroke-width="0.7"/>
<line x1="616.20" y1="553.60" x2="616.20" y2="602.80" stroke="#0a0a0a" stroke-width="1.9"/>
<circle cx="616.20" cy="553.60" r="0.85" fill="#111"/>
<circle cx="616.20" cy="602.80" r="0.85" fill="#111"/>
<circle cx="628.48" cy="553.60" r="2.85" fill="#DADADA"/>
<circle cx="628.48" cy="565.90" r="2.85" fill="#DADADA"/>
<circle cx="628.48" cy="578.20" r="2.85" fill="#DADADA"/>
<circle cx="628.48" cy="590.50" r="2.85" fill="#DADADA"/>
<circle cx="628.48" cy="602.80" r="2.85" fill="#DADADA"/>
<circle cx="628.48" cy="615.10" r="2.85" fill="#DADADA"/>
<circle cx="628.48" cy="553.60" r="2.85" fill="#7F50A6" stroke="#2a2a2a" stroke-width="0.7"/>
<circle cx="628.48" cy="565.90" r="2.85" fill="#EE9A22" stroke="#2a2a2a" stroke-width="0.7"/>
<circle cx="628.48" cy="578.20" r="2.85" fill="#D9582A" stroke="#2a2a2a" stroke-width="0.7"/>
<circle cx="628.48" cy="615.10" r="2.85" fill="#5A70B5" stroke="#2a2a2a" stroke-width="0.7"/>
<line x1="628.48" y1="553.60" x2="628.48" y2="615.10" stroke="#0a0a0a" stroke-width="1.9"/>
<circle cx="628.48" cy="553.60" r="0.85" fill="#111"/>
<circle cx="628.48" cy="565.90" r="0.85" fill="#111"/>
<circle cx="628.48" cy="578.20" r="0.85" fill="#111"/>
<circle cx="628.48" cy="615.10" r="0.85" fill="#111"/>
<circle cx="640.76" cy="553.60" r="2.85" fill="#DADADA"/>
<circle cx="640.76" cy="565.90" r="2.85" fill="#DADADA"/>
<circle cx="640.76" cy="578.20" r="2.85" fill="#DADADA"/>
<circle cx="640.76" cy="590.50" r="2.85" fill="#DADADA"/>
<circle cx="640.76" cy="602.80" r="2.85" fill="#DADADA"/>
<circle cx="640.76" cy="615.10" r="2.85" fill="#DADADA"/>
<circle cx="640.76" cy="553.60" r="2.85" fill="#7F50A6" stroke="#2a2a2a" stroke-width="0.7"/>
<circle cx="640.76" cy="565.90" r="2.85" fill="#EE9A22" stroke="#2a2a2a" stroke-width="0.7"/>
<circle cx="640.76" cy="615.10" r="2.85" fill="#5A70B5" stroke="#2a2a2a" stroke-width="0.7"/>
<line x1="640.76" y1="553.60" x2="640.76" y2="615.10" stroke="#0a0a0a" stroke-width="1.9"/>
<circle cx="640.76" cy="553.60" r="0.85" fill="#111"/>
<circle cx="640.76" cy="565.90" r="0.85" fill="#111"/>
<circle cx="640.76" cy="615.10" r="0.85" fill="#111"/>
<circle cx="653.04" cy="553.60" r="2.85" fill="#DADADA"/>
<circle cx="653.04" cy="565.90" r="2.85" fill="#DADADA"/>
<circle cx="653.04" cy="578.20" r="2.85" fill="#DADADA"/>
<circle cx="653.04" cy="590.50" r="2.85" fill="#DADADA"/>
<circle cx="653.04" cy="602.80" r="2.85" fill="#DADADA"/>
<circle cx="653.04" cy="615.10" r="2.85" fill="#DADADA"/>
<circle cx="653.04" cy="553.60" r="2.85" fill="#7F50A6" stroke="#2a2a2a" stroke-width="0.7"/>
<circle cx="653.04" cy="590.50" r="2.85" fill="#701214" stroke="#2a2a2a" stroke-width="0.7"/>
<circle cx="653.04" cy="615.10" r="2.85" fill="#5A70B5" stroke="#2a2a2a" stroke-width="0.7"/>
<line x1="653.04" y1="553.60" x2="653.04" y2="615.10" stroke="#0a0a0a" stroke-width="1.9"/>
<circle cx="653.04" cy="553.60" r="0.85" fill="#111"/>
<circle cx="653.04" cy="590.50" r="0.85" fill="#111"/>
<circle cx="653.04" cy="615.10" r="0.85" fill="#111"/>
<circle cx="665.32" cy="553.60" r="2.85" fill="#DADADA"/>
<circle cx="665.32" cy="565.90" r="2.85" fill="#DADADA"/>
<circle cx="665.32" cy="578.20" r="2.85" fill="#DADADA"/>
<circle cx="665.32" cy="590.50" r="2.85" fill="#DADADA"/>
<circle cx="665.32" cy="602.80" r="2.85" fill="#DADADA"/>
<circle cx="665.32" cy="615.10" r="2.85" fill="#DADADA"/>
<circle cx="665.32" cy="578.20" r="2.85" fill="#D9582A" stroke="#2a2a2a" stroke-width="0.7"/>
<circle cx="665.32" cy="615.10" r="2.85" fill="#5A70B5" stroke="#2a2a2a" stroke-width="0.7"/>
<line x1="665.32" y1="578.20" x2="665.32" y2="615.10" stroke="#0a0a0a" stroke-width="1.9"/>
<circle cx="665.32" cy="578.20" r="0.85" fill="#111"/>
<circle cx="665.32" cy="615.10" r="0.85" fill="#111"/>
<circle cx="677.60" cy="553.60" r="2.85" fill="#DADADA"/>
<circle cx="677.60" cy="565.90" r="2.85" fill="#DADADA"/>
<circle cx="677.60" cy="578.20" r="2.85" fill="#DADADA"/>
<circle cx="677.60" cy="590.50" r="2.85" fill="#DADADA"/>
<circle cx="677.60" cy="602.80" r="2.85" fill="#DADADA"/>
<circle cx="677.60" cy="615.10" r="2.85" fill="#DADADA"/>
<circle cx="677.60" cy="553.60" r="2.85" fill="#7F50A6" stroke="#2a2a2a" stroke-width="0.7"/>
<circle cx="677.60" cy="578.20" r="2.85" fill="#D9582A" stroke="#2a2a2a" stroke-width="0.7"/>
<line x1="677.60" y1="553.60" x2="677.60" y2="578.20" stroke="#0a0a0a" stroke-width="1.9"/>
<circle cx="677.60" cy="553.60" r="0.85" fill="#111"/>
<circle cx="677.60" cy="578.20" r="0.85" fill="#111"/>
<text x="589.00" y="630.50" font-size="9.6" text-anchor="middle" fill="#222">Antigen reactivity</text>
<text x="474.30" y="472.00" font-size="8.3" text-anchor="middle" fill="#222" transform="rotate(-90 474.30 472.00)"># of cross-reactive TCRs</text>
</svg>
</body></html>
